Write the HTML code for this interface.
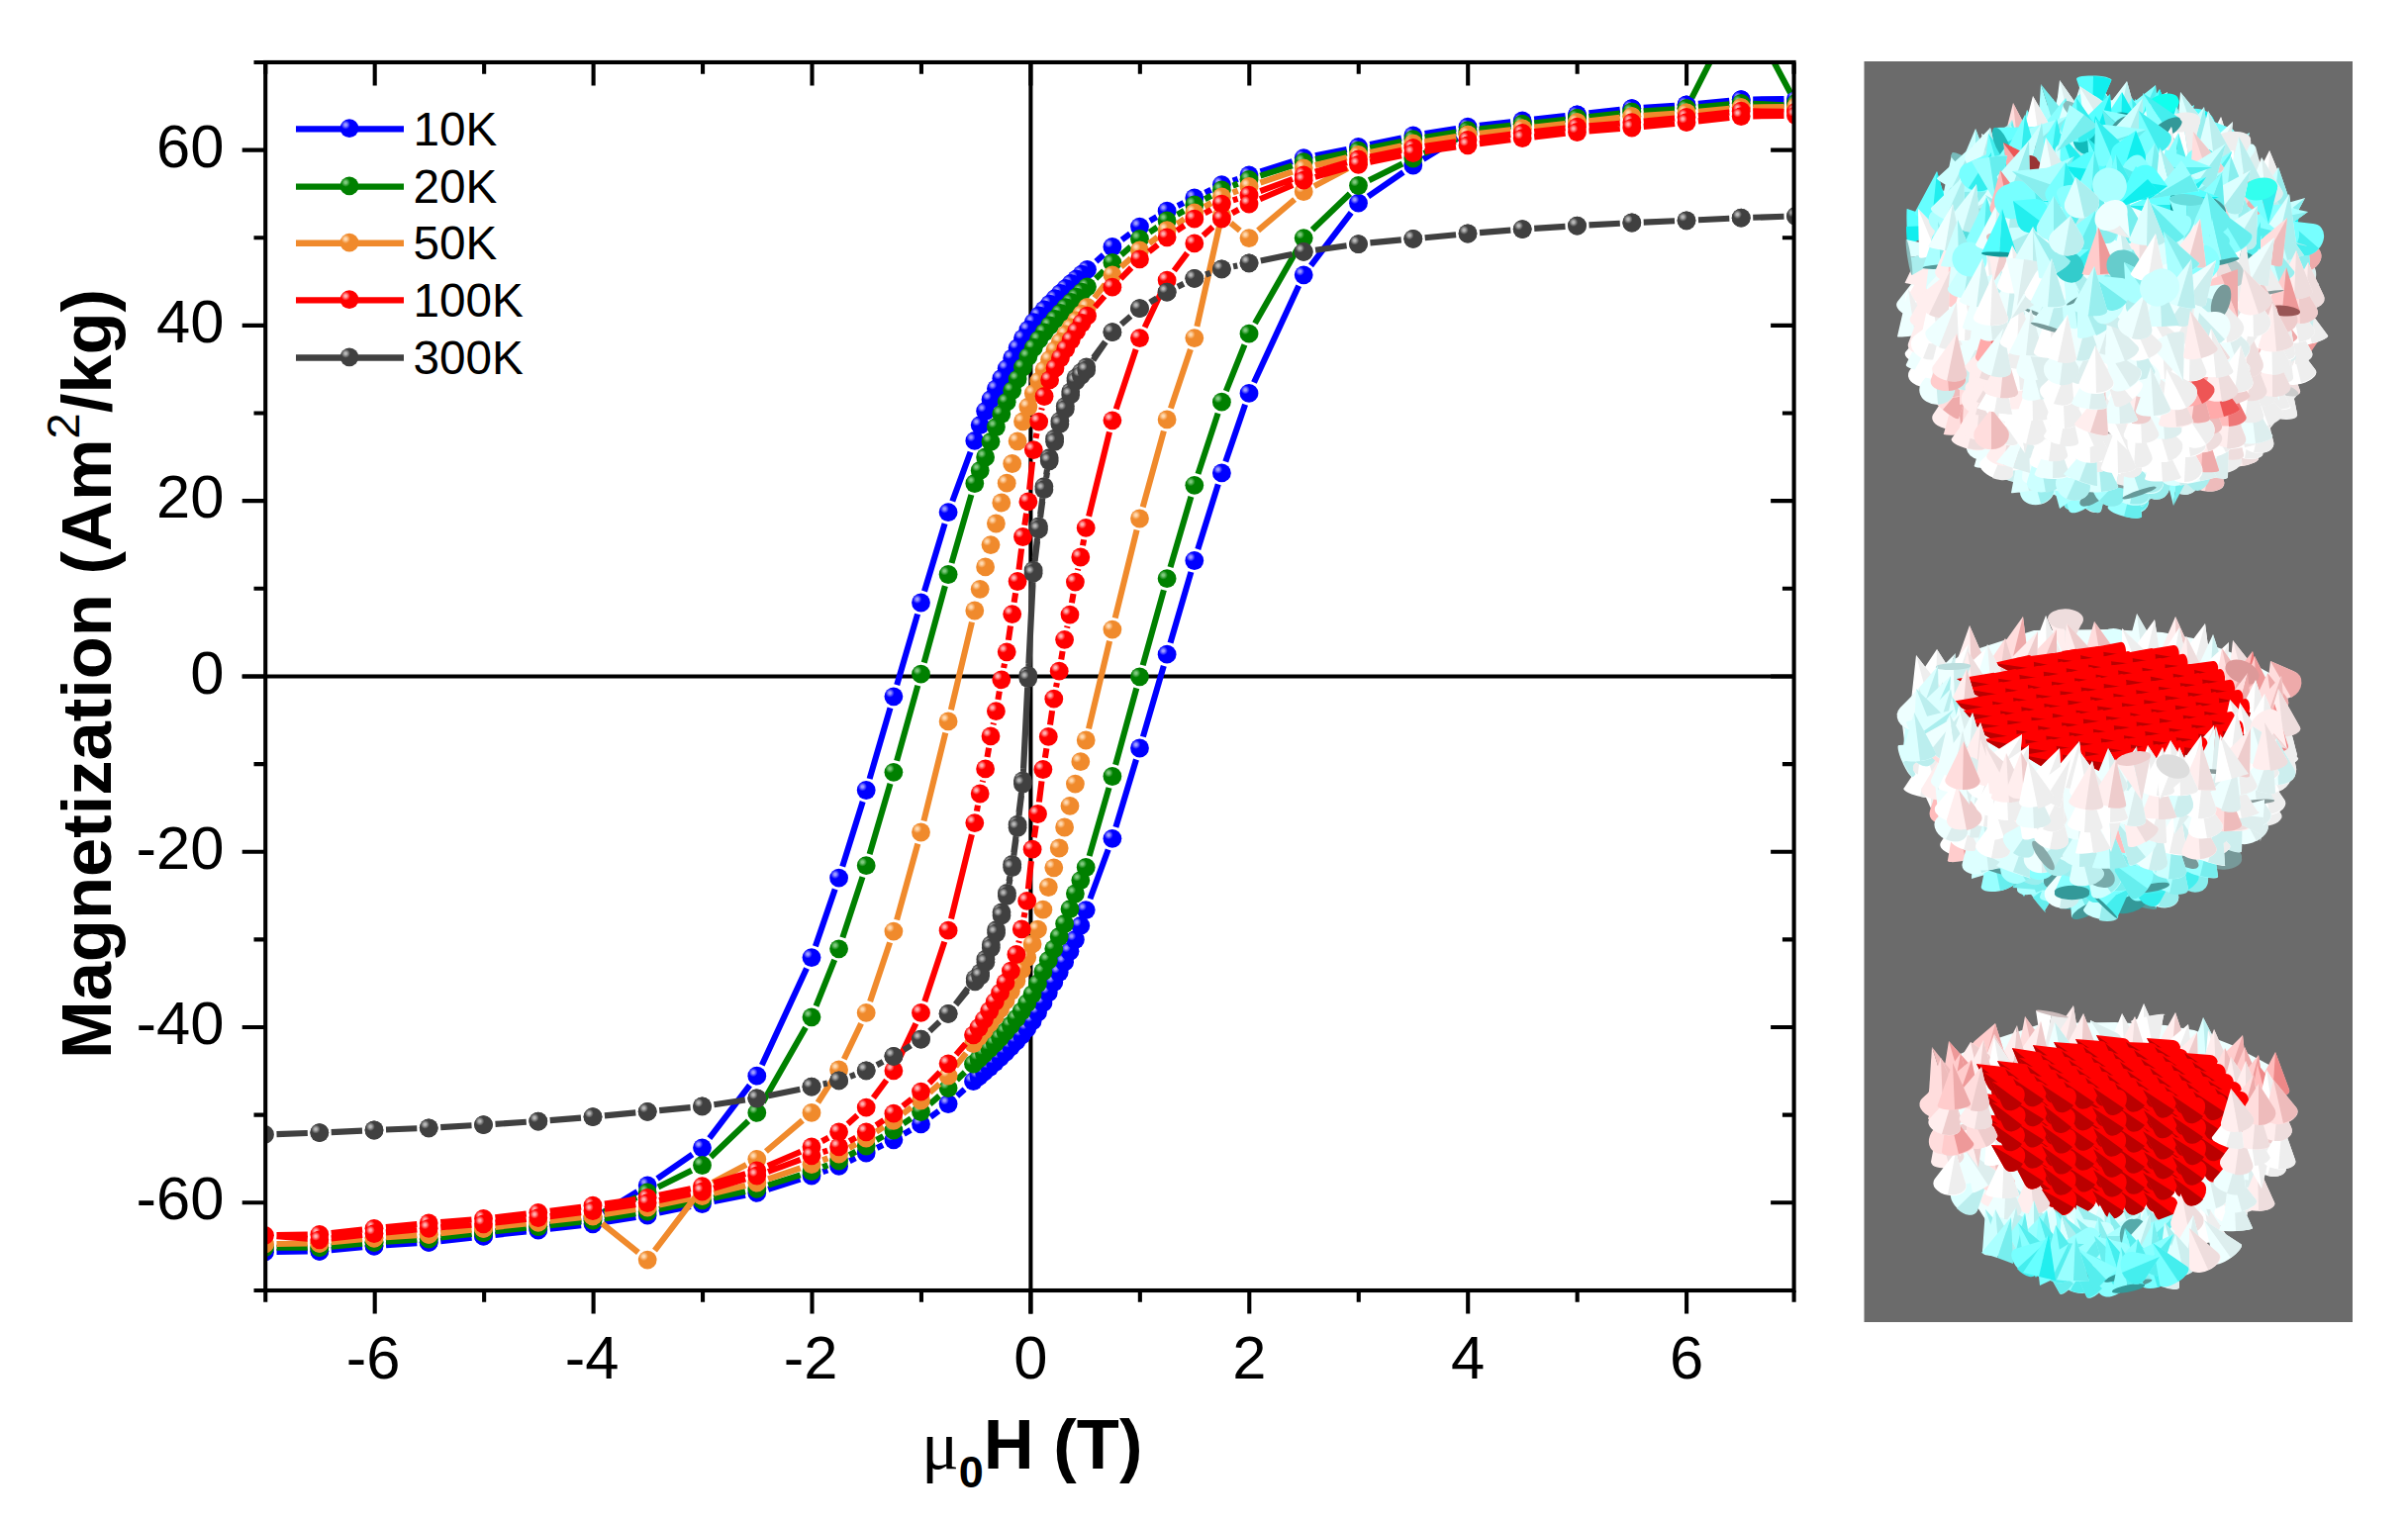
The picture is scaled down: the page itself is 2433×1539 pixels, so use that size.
<!DOCTYPE html>
<html lang="en"><head><meta charset="utf-8"><title>Magnetization hysteresis loops</title>
<style>
html,body{margin:0;padding:0;background:#fff;}
svg{display:block;}
text{white-space:pre;}
</style></head>
<body>
<svg width="2433" height="1539" viewBox="0 0 2433 1539">
<defs>
<radialGradient id="g10K" cx="0.30" cy="0.31" r="0.8"><stop offset="0" stop-color="#9c9cff"/><stop offset="0.07" stop-color="#9c9cff"/><stop offset="0.3" stop-color="#0000ff"/><stop offset="1" stop-color="#0000ff"/></radialGradient>
<radialGradient id="g20K" cx="0.30" cy="0.31" r="0.8"><stop offset="0" stop-color="#7fc97f"/><stop offset="0.07" stop-color="#7fc97f"/><stop offset="0.3" stop-color="#008000"/><stop offset="1" stop-color="#008000"/></radialGradient>
<radialGradient id="g50K" cx="0.30" cy="0.31" r="0.8"><stop offset="0" stop-color="#ffd9b0"/><stop offset="0.07" stop-color="#ffd9b0"/><stop offset="0.3" stop-color="#f08a2c"/><stop offset="1" stop-color="#f08a2c"/></radialGradient>
<radialGradient id="g100K" cx="0.30" cy="0.31" r="0.8"><stop offset="0" stop-color="#ffb0b0"/><stop offset="0.07" stop-color="#ffb0b0"/><stop offset="0.3" stop-color="#ff0000"/><stop offset="1" stop-color="#ff0000"/></radialGradient>
<radialGradient id="g300K" cx="0.30" cy="0.31" r="0.8"><stop offset="0" stop-color="#b8b8b8"/><stop offset="0.07" stop-color="#b8b8b8"/><stop offset="0.3" stop-color="#404040"/><stop offset="1" stop-color="#404040"/></radialGradient>
<clipPath id="panelclip"><rect x="1883.5" y="62" width="493.5" height="1274"/></clipPath>
<clipPath id="plotclip"><rect x="268.2" y="63.0" width="1544.4" height="1241.0"/></clipPath>
</defs>
<rect width="2433" height="1539" fill="#fff"/>
<rect x="1883.5" y="62" width="493.5" height="1274" fill="#6b6b6b"/>
<g id="particles" clip-path="url(#panelclip)">
<g transform="translate(2134,298)">
<path d="M-19 -197L35 -196L78 -181L90 -174L112 -158L144 -130L165 -110L186 -67L198 -18L196 29L186 62L174 99L150 129L130 151L96 171L63 187L19 197L-35 196L-78 181L-90 174L-112 158L-144 130L-165 110L-186 67L-198 18L-196 -29L-186 -62L-174 -99L-150 -129L-130 -151L-96 -171L-63 -187Z" fill="#eff"/>
<path d="M-37 -118L-20 -163L-2 -118A3.4 17.8 -91 1 1 -37 -118Z" fill="#8ff"/><path d="M-20 -163L-2 -118A3.4 17.8 -91 0 1 -19 -114Z" fill="#5ee"/>
<path d="M-164 119L-163 71L-131 106A4.7 17.8 -111 1 1 -164 119Z" fill="#fdd"/><path d="M-163 71L-131 106A4.7 17.8 -111 0 1 -145 117Z" fill="#eaa"/>
<path d="M-134 132L-112 97L-100 137A9 17.8 -82 1 1 -134 132Z" fill="#fee"/><path d="M-112 97L-100 137A9 17.8 -82 0 1 -119 146Z" fill="#edd"/>
<path d="M77 124L114 108L103 147A9.8 17.8 -48 1 1 77 124Z" fill="#fff"/><path d="M114 108L103 147A9.8 17.8 -48 0 1 82 144Z" fill="#eee"/>
<path d="M-146 105L-111 74L-114 121A5.9 17.8 -63 1 1 -146 105Z" fill="#fff"/><path d="M-111 74L-114 121A5.9 17.8 -63 0 1 -133 119Z" fill="#eee"/>
<path d="M10 185L39 157L42 197A9.7 17.8 -69 1 1 10 185Z" fill="#dff"/><path d="M39 157L42 197A9.7 17.8 -69 0 1 22 202Z" fill="#bee"/>
<path d="M-104 146L-90 102L-69 143A6.5 17.8 -95 1 1 -104 146Z" fill="#eff"/><path d="M-90 102L-69 143A6.5 17.8 -95 0 1 -86 152Z" fill="#cee"/>
<path d="M120 78L147 43L154 87A7.6 17.8 -75 1 1 120 78Z" fill="#fee"/><path d="M147 43L154 87A7.6 17.8 -75 0 1 134 91Z" fill="#edd"/>
<path d="M-198 90L-169 49L-163 98A0.6 17.8 -76 1 1 -198 90Z" fill="#fee"/><path d="M-169 49L-163 98A0.6 17.8 -76 0 1 -180 94Z" fill="#edd"/>
<path d="M-5 -145L21 -173L28 -135A10.5 17.8 -74 1 1 -5 -145Z" fill="#8ff"/><path d="M21 -173L28 -135A10.5 17.8 -74 0 1 8 -127Z" fill="#6ee"/>
<path d="M-15 195L8 158L19 200A8 17.8 -81 1 1 -15 195Z" fill="#fff"/><path d="M8 158L19 200A8 17.8 -81 0 1 0 207Z" fill="#eee"/>
<path d="M166 -19L191 7L182 -27Z" fill="#fee"/><path d="M199 -27L191 7L182 -27Z" fill="#edd"/><path d="M164 -22A11.8 17.8 75 1 0 199 -32 A11.8 17.8 75 1 0 164 -22Z" fill="#fdd"/>
<path d="M16 181L29 136L51 177A5.6 17.8 -96 1 1 16 181Z" fill="#eff"/><path d="M29 136L51 177A5.6 17.8 -96 0 1 34 185Z" fill="#dee"/>
<path d="M-61 -175L-14 -189L-39 -147A1.7 17.8 -38 1 1 -61 -175Z" fill="#8ff"/><path d="M-14 -189L-39 -147A1.7 17.8 -38 0 1 -52 -159Z" fill="#6ee"/>
<path d="M90 140L120 111L105 148Z" fill="#eff"/><path d="M122 153L120 111L105 148Z" fill="#dee"/><path d="M122 155A8.4 17.8 -68 1 0 89 142 A8.4 17.8 -68 1 0 122 155Z" fill="#899"/>
<path d="M-64 -173L-75 -135L-38 -150A10.2 17.8 132 1 0 -64 -173Z" fill="#9ff"/><path d="M-75 -135L-38 -150A10.2 17.8 132 0 0 -43 -171Z" fill="#6ee"/>
<path d="M-63 195L-39 158L-28 201A7.7 17.8 -80 1 1 -63 195Z" fill="#aff"/><path d="M-39 158L-28 201A7.7 17.8 -80 0 1 -47 207Z" fill="#7ee"/>
<path d="M109 -109L141 -143L142 -97A6.5 17.8 -69 1 1 109 -109Z" fill="#7ff"/><path d="M141 -143L142 -97A6.5 17.8 -69 0 1 123 -96Z" fill="#4ee"/>
<path d="M88 -128L100 -164L122 -132A10.3 17.8 -97 1 1 88 -128Z" fill="#eff"/><path d="M100 -164L122 -132A10.3 17.8 -97 0 1 106 -117Z" fill="#dee"/>
<path d="M-39 192L4 176L-16 218A6.2 17.8 -42 1 1 -39 192Z" fill="#dff"/><path d="M4 176L-16 218A6.2 17.8 -42 0 1 -33 209Z" fill="#aee"/>
<path d="M114 125L130 86L148 125A8.6 17.8 -91 1 1 114 125Z" fill="#fff"/><path d="M130 86L148 125A8.6 17.8 -91 0 1 131 135Z" fill="#eee"/>
<path d="M45 -154L62 -197L80 -154A5.9 17.8 -91 1 1 45 -154Z" fill="#dff"/><path d="M62 -197L80 -154A5.9 17.8 -91 0 1 63 -147Z" fill="#cee"/>
<path d="M151 39L160 1L184 32A10 17.8 -102 1 1 151 39Z" fill="#fee"/><path d="M160 1L184 32A10 17.8 -102 0 1 170 48Z" fill="#ecc"/>
<path d="M-120 -105L-113 -127L-93 -117A14.7 17.8 -113 1 1 -120 -105Z" fill="#5ff"/><path d="M-113 -127L-93 -117A14.7 17.8 -113 0 1 -98 -90Z" fill="#1ee"/>
<path d="M-71 -149L-72 -194L-39 -163A7.1 17.8 -114 1 1 -71 -149Z" fill="#7ff"/><path d="M-72 -194L-39 -163A7.1 17.8 -114 0 1 -52 -148Z" fill="#3ee"/>
<path d="M-203 37L-179 -2L-168 42A6.4 17.8 -82 1 1 -203 37Z" fill="#fee"/><path d="M-179 -2L-168 42A6.4 17.8 -82 0 1 -187 47Z" fill="#edd"/>
<path d="M155 -73L183 -39L189 -82A7.8 17.8 74 1 0 155 -73Z" fill="#5ff"/><path d="M183 -39L189 -82A7.8 17.8 74 0 0 170 -86Z" fill="#1ee"/>
<path d="M144 95L143 64L171 78A12.7 17.8 -123 1 1 144 95Z" fill="#eff"/><path d="M143 64L171 78A12.7 17.8 -123 0 1 167 101Z" fill="#dee"/>
<path d="M81 155A16.6 17.8 93 1 0 117 156 A16.6 17.8 93 1 0 81 155Z" fill="#bee"/>
<path d="M-171 -85L-148 -108L-139 -77A12.5 17.8 -76 1 1 -171 -85Z" fill="#9ff"/><path d="M-148 -108L-139 -77A12.5 17.8 -76 0 1 -159 -64Z" fill="#6ee"/>
<path d="M-42 -185L-37 -141L-25 -182Z" fill="#cff"/><path d="M-9 -175L-37 -141L-25 -182Z" fill="#9ee"/><path d="M-42 -187A7.6 17.8 107 1 0 -8 -176 A7.6 17.8 107 1 0 -42 -187Z" fill="#8dd"/>
<path d="M-157 94L-146 58L-124 88A11 17.8 -100 1 1 -157 94Z" fill="#fee"/><path d="M-146 58L-124 88A11 17.8 -100 0 1 -138 105Z" fill="#edd"/>
<path d="M-186 68L-175 28L-151 62A9 17.8 -100 1 1 -186 68Z" fill="#fff"/><path d="M-175 28L-151 62A9 17.8 -100 0 1 -166 76Z" fill="#eee"/>
<path d="M-120 -123L-99 -159L-86 -119A9.2 17.8 -83 1 1 -120 -123Z" fill="#6ff"/><path d="M-99 -159L-86 -119A9.2 17.8 -83 0 1 -104 -110Z" fill="#3ee"/>
<path d="M153 -86L195 -98L174 -59A7.6 17.8 -39 1 1 153 -86Z" fill="#cff"/><path d="M195 -98L174 -59A7.6 17.8 -39 0 1 156 -67Z" fill="#8ee"/>
<path d="M169 19A17.1 17.8 -37 1 0 148 -9 A17.1 17.8 -37 1 0 169 19Z" fill="#fcc"/>
<path d="M104 -95L104 -135L135 -110A9.7 17.8 -116 1 1 104 -95Z" fill="#8ff"/><path d="M104 -135L135 -110A9.7 17.8 -116 0 1 125 -91Z" fill="#5ee"/>
<path d="M71 -128L78 -158L102 -138A13 17.8 -108 1 1 71 -128Z" fill="#cff"/><path d="M78 -158L102 -138A13 17.8 -108 0 1 92 -115Z" fill="#aee"/>
<path d="M5 199L25 177L36 204A13.4 17.8 -81 1 1 5 199Z" fill="#9ff"/><path d="M25 177L36 204A13.4 17.8 -81 0 1 17 220Z" fill="#6ee"/>
<path d="M-145 138L-113 162L-131 127Z" fill="#fff"/><path d="M-114 122L-113 162L-131 127Z" fill="#eee"/><path d="M-146 136A9.8 17.8 62 1 0 -115 119 A9.8 17.8 62 1 0 -146 136Z" fill="#fee"/>
<path d="M18 -185L56 -205L46 -163A8.6 17.8 -51 1 1 18 -185Z" fill="#dff"/><path d="M56 -205L46 -163A8.6 17.8 -51 0 1 25 -166Z" fill="#bee"/>
<path d="M-32 182L-9 139L3 186A3.3 17.8 -83 1 1 -32 182Z" fill="#fff"/><path d="M-9 139L3 186A3.3 17.8 -83 0 1 -15 188Z" fill="#eee"/>
<path d="M-178 101L-165 61L-144 97A8.8 17.8 -96 1 1 -178 101Z" fill="#fdd"/><path d="M-165 61L-144 97A8.8 17.8 -96 0 1 -160 110Z" fill="#ebb"/>
<path d="M-24 -167L-13 -215L12 -173A2.6 17.8 -99 1 1 -24 -167Z" fill="#eff"/><path d="M-13 -215L12 -173A2.6 17.8 -99 0 1 -6 -167Z" fill="#dee"/>
<path d="M-99 192L-93 152L-66 183A9.5 17.8 -106 1 1 -99 192Z" fill="#dff"/><path d="M-93 152L-66 183A9.5 17.8 -106 0 1 -79 199Z" fill="#aee"/>
<path d="M-97 -146L-86 -187L-63 -151A8.3 17.8 -98 1 1 -97 -146Z" fill="#8ff"/><path d="M-86 -187L-63 -151A8.3 17.8 -98 0 1 -79 -139Z" fill="#5ee"/>
<path d="M171 -20L191 -51L204 -17A11.3 17.8 -84 1 1 171 -20Z" fill="#fcc"/><path d="M191 -51L204 -17A11.3 17.8 -84 0 1 186 -4Z" fill="#eaa"/>
<path d="M-147 -117L-115 -155L-130 -111Z" fill="#dff"/><path d="M-113 -105L-115 -155L-130 -111Z" fill="#cee"/>
<path d="M-65 -181L-49 -135L-47 -180Z" fill="#aff"/><path d="M-30 -179L-49 -135L-47 -180Z" fill="#8ee"/><path d="M-65 -181A3.9 17.8 92 1 0 -30 -180 A3.9 17.8 92 1 0 -65 -181Z" fill="#7dd"/>
<path d="M12 -151A17.8 17.8 54 1 0 41 -172 A17.8 17.8 54 1 0 12 -151Z" fill="#9ff"/>
<path d="M176 36L184 82L194 39Z" fill="#fcc"/><path d="M211 43L184 82L194 39Z" fill="#e99"/><path d="M176 35A4.9 17.8 103 1 0 211 43 A4.9 17.8 103 1 0 176 35Z" fill="#d77"/>
<path d="M205 -20L204 -10L188 -20Z" fill="#eff"/><path d="M195 -5L204 -10L188 -20Z" fill="#dee"/><path d="M179 -5A16.3 17.8 33 1 0 198 -35 A16.3 17.8 33 1 0 179 -5Z" fill="#dee"/>
<path d="M11 197L12 149L44 185A4.1 17.8 -110 1 1 11 197Z" fill="#eff"/><path d="M12 149L44 185A4.1 17.8 -110 0 1 29 196Z" fill="#cee"/>
<path d="M70 -170L79 -148L99 -162A14.5 17.8 107 1 0 70 -170Z" fill="#5ff"/><path d="M79 -148L99 -162A14.5 17.8 107 0 0 91 -187Z" fill="#1ee"/>
<path d="M-198 40L-168 8L-165 52A7.6 17.8 -70 1 1 -198 40Z" fill="#fff"/><path d="M-168 8L-165 52A7.6 17.8 -70 0 1 -185 54Z" fill="#eee"/>
<path d="M85 173L85 124L118 161A2.8 17.8 -111 1 1 85 173Z" fill="#fff"/><path d="M85 124L118 161A2.8 17.8 -111 0 1 103 170Z" fill="#eee"/>
<path d="M-177 122L-139 92L-146 139A4.2 17.8 -60 1 1 -177 122Z" fill="#fdd"/><path d="M-139 92L-146 139A4.2 17.8 -60 0 1 -164 135Z" fill="#ecc"/>
<path d="M-191 26L-167 -17L-156 31A3.1 17.8 -82 1 1 -191 26Z" fill="#fff"/><path d="M-167 -17L-156 31A3.1 17.8 -82 0 1 -174 31Z" fill="#eee"/>
<path d="M177 -38L185 -65L207 -48A13.7 17.8 -108 1 1 177 -38Z" fill="#fcc"/><path d="M185 -65L207 -48A13.7 17.8 -108 0 1 198 -24Z" fill="#eaa"/>
<path d="M-139 109L-134 138L-122 110Z" fill="#fff"/><path d="M-110 122L-134 138L-122 110Z" fill="#eee"/><path d="M-138 103A13.5 17.8 114 1 0 -105 117 A13.5 17.8 114 1 0 -138 103Z" fill="#ddd"/>
<path d="M128 -107L137 -154L163 -114A4.8 17.8 -101 1 1 128 -107Z" fill="#fbb"/><path d="M137 -154L163 -114A4.8 17.8 -101 0 1 146 -105Z" fill="#e88"/>
<path d="M-48 -162L-33 -209L-13 -165A3.2 17.8 -94 1 1 -48 -162Z" fill="#dff"/><path d="M-33 -209L-13 -165A3.2 17.8 -94 0 1 -30 -160Z" fill="#bee"/>
<path d="M-65 -166L-53 -206L-48 -166Z" fill="#aff"/><path d="M-31 -170L-53 -206L-48 -166Z" fill="#8ee"/><path d="M-30 -169A8.8 17.8 -98 1 0 -66 -164 A8.8 17.8 -98 1 0 -30 -169Z" fill="#599"/>
<path d="M147 -26L168 -71L182 -23A1.8 17.8 -86 1 1 147 -26Z" fill="#fdd"/><path d="M168 -71L182 -23A1.8 17.8 -86 0 1 164 -23Z" fill="#ebb"/>
<path d="M122 124L142 98L155 128A12.4 17.8 -82 1 1 122 124Z" fill="#fff"/><path d="M142 98L155 128A12.4 17.8 -82 0 1 136 143Z" fill="#eee"/>
<path d="M60 173L84 162L87 188A14.1 17.8 -61 1 1 60 173Z" fill="#eff"/><path d="M84 162L87 188A14.1 17.8 -61 0 1 63 199Z" fill="#cee"/>
<path d="M166 -83L147 -85L145 -66A15.4 17.8 -129 1 0 166 -83Z" fill="#5ff"/><path d="M147 -85L145 -66A15.4 17.8 -129 0 0 172 -55Z" fill="#1ee"/>
<path d="M35 -202L13 -189L32 -172A14.2 17.8 -175 1 0 35 -202Z" fill="#cff"/><path d="M13 -189L32 -172A14.2 17.8 -175 0 0 55 -185Z" fill="#aee"/>
<path d="M-184 82L-169 40L-149 80A7.4 17.8 -94 1 1 -184 82Z" fill="#fff"/><path d="M-169 40L-149 80A7.4 17.8 -94 0 1 -166 90Z" fill="#eee"/>
<path d="M-49 176L-45 164L-32 164A16 17.8 -125 1 1 -49 176Z" fill="#eff"/><path d="M-45 164L-32 164A16 17.8 -125 0 1 -24 193Z" fill="#cee"/>
<path d="M-104 172L-97 126L-70 163A6.1 17.8 -104 1 1 -104 172Z" fill="#fff"/><path d="M-97 126L-70 163A6.1 17.8 -104 0 1 -85 174Z" fill="#eee"/>
<path d="M-88 -134L-78 -177L-54 -140A7.4 17.8 -100 1 1 -88 -134Z" fill="#dff"/><path d="M-78 -177L-54 -140A7.4 17.8 -100 0 1 -69 -128Z" fill="#bee"/>
<path d="M-68 188L-62 159L-38 177A13.3 17.8 -110 1 1 -68 188Z" fill="#cff"/><path d="M-62 159L-38 177A13.3 17.8 -110 0 1 -46 201Z" fill="#aee"/>
<path d="M43 -153L49 -203L61 -158Z" fill="#aff"/><path d="M78 -162L49 -203L61 -158Z" fill="#8ee"/>
<path d="M40 -153L65 -179L72 -144A11.3 17.8 -74 1 1 40 -153Z" fill="#cff"/><path d="M65 -179L72 -144A11.3 17.8 -74 0 1 52 -134Z" fill="#9ee"/>
<path d="M89 -140L110 -180L124 -137A7 17.8 -85 1 1 89 -140Z" fill="#fff"/><path d="M110 -180L124 -137A7 17.8 -85 0 1 106 -130Z" fill="#eee"/>
<path d="M166 29L170 -4L196 15A12.4 17.8 -115 1 1 166 29Z" fill="#fdd"/><path d="M170 -4L196 15A12.4 17.8 -115 0 1 189 38Z" fill="#ecc"/>
<path d="M-28 179L11 155L1 199A6.7 17.8 -55 1 1 -28 179Z" fill="#cff"/><path d="M11 155L1 199A6.7 17.8 -55 0 1 -18 195Z" fill="#aee"/>
<path d="M-175 101L-159 66L-141 100A10.4 17.8 -92 1 1 -175 101Z" fill="#fcc"/><path d="M-159 66L-141 100A10.4 17.8 -92 0 1 -157 114Z" fill="#eaa"/>
<path d="M113 171L124 125L148 165A4.8 17.8 -100 1 1 113 171Z" fill="#fee"/><path d="M124 125L148 165A4.8 17.8 -100 0 1 132 173Z" fill="#edd"/>
<path d="M-148 -60A17 17.8 -74 1 0 -182 -69 A17 17.8 -74 1 0 -148 -60Z" fill="#5ff"/>
<path d="M163 63L182 17L198 64A1.9 17.8 -89 1 1 163 63Z" fill="#fff"/><path d="M182 17L198 64A1.9 17.8 -89 0 1 181 65Z" fill="#eee"/>
<path d="M128 -104L168 -79L156 -125A4.7 17.8 53 1 0 128 -104Z" fill="#cff"/><path d="M168 -79L156 -125A4.7 17.8 53 0 0 139 -119Z" fill="#9ee"/>
<path d="M-206 35L-198 -7L-172 26A8.6 17.8 -103 1 1 -206 35Z" fill="#fff"/><path d="M-198 -7L-172 26A8.6 17.8 -103 0 1 -187 41Z" fill="#eee"/>
<path d="M-205 77L-184 47L-171 81A11.3 17.8 -84 1 1 -205 77Z" fill="#fff"/><path d="M-184 47L-171 81A11.3 17.8 -84 0 1 -189 94Z" fill="#eee"/>
<path d="M-137 -103L-112 -143L-102 -97A5.5 17.8 -81 1 1 -137 -103Z" fill="#eff"/><path d="M-112 -143L-102 -97A5.5 17.8 -81 0 1 -120 -94Z" fill="#dee"/>
<path d="M141 61L165 18L176 66A1.3 17.8 -82 1 1 141 61Z" fill="#fbb"/><path d="M165 18L176 66A1.3 17.8 -82 0 1 159 65Z" fill="#e88"/>
<path d="M143 67L173 45L173 83A10.7 17.8 -63 1 1 143 67Z" fill="#eff"/><path d="M173 45L173 83A10.7 17.8 -63 0 1 152 87Z" fill="#cee"/>
<path d="M55 166L80 133L88 174A9 17.8 -76 1 1 55 166Z" fill="#eff"/><path d="M80 133L88 174A9 17.8 -76 0 1 69 180Z" fill="#dee"/>
<path d="M-131 159L-102 134L-99 172A10.7 17.8 -68 1 1 -131 159Z" fill="#fee"/><path d="M-102 134L-99 172A10.7 17.8 -68 0 1 -120 178Z" fill="#edd"/>
<path d="M-176 87L-141 52L-143 101A1.2 17.8 -67 1 1 -176 87Z" fill="#fee"/><path d="M-141 52L-143 101A1.2 17.8 -67 0 1 -160 95Z" fill="#edd"/>
<path d="M-155 145L-145 102L-120 138A8 17.8 -101 1 1 -155 145Z" fill="#fee"/><path d="M-145 102L-120 138A8 17.8 -101 0 1 -136 151Z" fill="#edd"/>
<path d="M2 -195A16.9 17.8 152 1 0 18 -164 A16.9 17.8 152 1 0 2 -195Z" fill="#5ff"/>
<path d="M152 113L178 76L187 120A7.1 17.8 -78 1 1 152 113Z" fill="#fff"/><path d="M178 76L187 120A7.1 17.8 -78 0 1 168 125Z" fill="#eee"/>
<path d="M159 -1L180 -38L194 3A8.5 17.8 -85 1 1 159 -1Z" fill="#fdd"/><path d="M180 -38L194 3A8.5 17.8 -85 0 1 176 11Z" fill="#eaa"/>
<path d="M146 -48L163 -89L181 -48A7.7 17.8 -91 1 1 146 -48Z" fill="#eff"/><path d="M163 -89L181 -48A7.7 17.8 -91 0 1 163 -39Z" fill="#dee"/>
<path d="M-207 -87L-160 -71L-206 -51A0.9 17.8 -2 1 1 -207 -87Z" fill="#5ff"/><path d="M-160 -71L-206 -51A0.9 17.8 -2 0 1 -208 -69Z" fill="#1ee"/>
<path d="M-106 -155L-109 -147L-105 -139A16.4 17.8 176 1 0 -106 -155Z" fill="#5ff"/><path d="M-109 -147L-105 -139A16.4 17.8 176 0 0 -74 -149Z" fill="#1ee"/>
<path d="M-91 -163L-59 -198L-58 -151A4.6 17.8 -69 1 1 -91 -163Z" fill="#aff"/><path d="M-59 -198L-58 -151A4.6 17.8 -69 0 1 -76 -152Z" fill="#8ee"/>
<path d="M-37 -189L-16 -159L-4 -193A11.4 17.8 83 1 0 -37 -189Z" fill="#7ff"/><path d="M-16 -159L-4 -193A11.4 17.8 83 0 0 -22 -206Z" fill="#4ee"/>
<path d="M113 152L123 106L148 146A5.4 17.8 -99 1 1 113 152Z" fill="#fff"/><path d="M123 106L148 146A5.4 17.8 -99 0 1 131 155Z" fill="#eee"/>
<path d="M28 -153L23 -198L58 -170A7 17.8 -119 1 1 28 -153Z" fill="#5ff"/><path d="M23 -198L58 -170A7 17.8 -119 0 1 47 -155Z" fill="#1ee"/>
<path d="M140 -108L159 -146L175 -107A8.6 17.8 -88 1 1 140 -108Z" fill="#fff"/><path d="M159 -146L175 -107A8.6 17.8 -88 0 1 157 -97Z" fill="#eee"/>
<path d="M96 173L105 132L130 165A9 17.8 -103 1 1 96 173Z" fill="#fff"/><path d="M105 132L130 165A9 17.8 -103 0 1 115 180Z" fill="#eee"/>
<path d="M-92 194L-83 171L-63 186A14.5 17.8 -105 1 1 -92 194Z" fill="#cff"/><path d="M-83 171L-63 186A14.5 17.8 -105 0 1 -72 211Z" fill="#9ee"/>
<path d="M-177 -107L-144 -99L-168 -75A12.1 17.8 -15 1 1 -177 -107Z" fill="#6ff"/><path d="M-144 -99L-168 -75A12.1 17.8 -15 0 1 -189 -87Z" fill="#2ee"/>
<path d="M50 165L62 213L67 167Z" fill="#9ff"/><path d="M85 169L62 213L67 167Z" fill="#7ee"/><path d="M50 165A1.6 17.8 96 1 0 85 169 A1.6 17.8 96 1 0 50 165Z" fill="#6cc"/>
<path d="M98 -142L139 -164L125 -119A4.8 17.8 -50 1 1 98 -142Z" fill="#aff"/><path d="M139 -164L125 -119A4.8 17.8 -50 0 1 108 -127Z" fill="#8ee"/>
<path d="M-209 58L-180 24L-175 68A7.4 17.8 -73 1 1 -209 58Z" fill="#fff"/><path d="M-180 24L-175 68A7.4 17.8 -73 0 1 -194 71Z" fill="#eee"/>
<path d="M-13 -159L19 -194L4 -152Z" fill="#9ff"/><path d="M20 -146L19 -194L4 -152Z" fill="#7ee"/><path d="M20 -146A4.5 17.8 -69 1 0 -13 -159 A4.5 17.8 -69 1 0 20 -146Z" fill="#499"/>
<path d="M81 -124L99 -170L99 -123Z" fill="#cff"/><path d="M116 -123L99 -170L99 -123Z" fill="#aee"/>
<path d="M133 114L158 82L167 121A9.7 17.8 -78 1 1 133 114Z" fill="#eff"/><path d="M158 82L167 121A9.7 17.8 -78 0 1 148 129Z" fill="#dee"/>
<path d="M-154 -99L-140 -145L-119 -102A4.9 17.8 -95 1 1 -154 -99Z" fill="#fee"/><path d="M-140 -145L-119 -102A4.9 17.8 -95 0 1 -136 -95Z" fill="#ecc"/>
<path d="M21 186L24 169L41 170A15.6 17.8 -128 1 1 21 186Z" fill="#cff"/><path d="M24 169L41 170A15.6 17.8 -128 0 1 48 199Z" fill="#aee"/>
<path d="M-126 -121L-132 -163L-96 -140A8.6 17.8 -123 1 1 -126 -121Z" fill="#eff"/><path d="M-132 -163L-96 -140A8.6 17.8 -123 0 1 -105 -122Z" fill="#cee"/>
<path d="M-92 177L-84 133L-58 170A7.1 17.8 -103 1 1 -92 177Z" fill="#fff"/><path d="M-84 133L-58 170A7.1 17.8 -103 0 1 -73 182Z" fill="#eee"/>
<path d="M155 95L175 53L190 97A6 17.8 -87 1 1 155 95Z" fill="#fee"/><path d="M175 53L190 97A6 17.8 -87 0 1 172 103Z" fill="#edd"/>
<path d="M-217 7L-192 -25L-183 15A9.4 17.8 -77 1 1 -217 7Z" fill="#eff"/><path d="M-192 -25L-183 15A9.4 17.8 -77 0 1 -203 22Z" fill="#dee"/>
<path d="M84 -185L97 -177L92 -162A15.8 17.8 -17 1 1 84 -185Z" fill="#9ff"/><path d="M97 -177L92 -162A15.8 17.8 -17 0 1 62 -165Z" fill="#6ee"/>
<path d="M-52 -143L-45 -192L-35 -147Z" fill="#8ff"/><path d="M-17 -151L-45 -192L-35 -147Z" fill="#6ee"/>
<path d="M64 174L92 142L98 184A8.7 17.8 -74 1 1 64 174Z" fill="#fff"/><path d="M92 142L98 184A8.7 17.8 -74 0 1 78 189Z" fill="#eee"/>
<path d="M41 -167L83 -192L69 -144A1.5 17.8 -51 1 1 41 -167Z" fill="#8ff"/><path d="M83 -192L69 -144A1.5 17.8 -51 0 1 54 -154Z" fill="#4ee"/>
<path d="M163 -21L170 -50L193 -32A13.3 17.8 -109 1 1 163 -21Z" fill="#eff"/><path d="M170 -50L193 -32A13.3 17.8 -109 0 1 184 -9Z" fill="#cee"/>
<path d="M120 -94L133 -141L155 -98A3.6 17.8 -96 1 1 120 -94Z" fill="#fee"/><path d="M133 -141L155 -98A3.6 17.8 -96 0 1 138 -92Z" fill="#edd"/>
<path d="M187 -86L142 -105L162 -60A1.6 17.8 -135 1 0 187 -86Z" fill="#cff"/><path d="M142 -105L162 -60A1.6 17.8 -135 0 0 176 -72Z" fill="#9ee"/>
<path d="M-29 186L-62 181L-49 212A12.1 17.8 -142 1 0 -29 186Z" fill="#aff"/><path d="M-62 181L-49 212A12.1 17.8 -142 0 0 -26 209Z" fill="#7ee"/>
<path d="M-132 150L-112 107L-97 152A5.4 17.8 -87 1 1 -132 150Z" fill="#fff"/><path d="M-112 107L-97 152A5.4 17.8 -87 0 1 -115 157Z" fill="#eee"/>
<path d="M-112 -146L-100 -194L-77 -150A0.6 17.8 -97 1 1 -112 -146Z" fill="#fdd"/><path d="M-100 -194L-77 -150A0.6 17.8 -97 0 1 -95 -148Z" fill="#ebb"/>
<path d="M-181 103L-184 63L-151 86A9.8 17.8 -119 1 1 -181 103Z" fill="#fff"/><path d="M-184 63L-151 86A9.8 17.8 -119 0 1 -160 105Z" fill="#eee"/>
<path d="M-6 202L13 165L29 203A9.1 17.8 -88 1 1 -6 202Z" fill="#9ff"/><path d="M13 165L29 203A9.1 17.8 -88 0 1 11 214Z" fill="#7ee"/>
<path d="M155 71L182 30L172 75Z" fill="#fee"/><path d="M190 78L182 30L172 75Z" fill="#edd"/><path d="M190 78A2.4 17.8 -78 1 0 155 71 A2.4 17.8 -78 1 0 190 78Z" fill="#988"/>
<path d="M-209 -13L-188 -57L-174 -10A1.8 17.8 -86 1 1 -209 -13Z" fill="#fee"/><path d="M-188 -57L-174 -10A1.8 17.8 -86 0 1 -192 -10Z" fill="#edd"/>
<path d="M-85 -172L-49 -174L-80 -156Z" fill="#5ff"/><path d="M-68 -143L-49 -174L-80 -156Z" fill="#1ee"/><path d="M-70 -140A11.3 17.8 -30 1 0 -89 -171 A11.3 17.8 -30 1 0 -70 -140Z" fill="#1cc"/>
<path d="M-181 -11L-190 -55L-152 -30A6.9 17.8 -124 1 1 -181 -11Z" fill="#9ff"/><path d="M-190 -55L-152 -30A6.9 17.8 -124 0 1 -162 -14Z" fill="#6ee"/>
<path d="M90 148L114 112L124 154A7.9 17.8 -79 1 1 90 148Z" fill="#fff"/><path d="M114 112L124 154A7.9 17.8 -79 0 1 105 160Z" fill="#eee"/>
<path d="M-156 -125L-138 -168L-121 -124A5.4 17.8 -89 1 1 -156 -125Z" fill="#cff"/><path d="M-138 -168L-121 -124A5.4 17.8 -89 0 1 -138 -119Z" fill="#9ee"/>
<path d="M-162 -142L-172 -95L-147 -133Z" fill="#cff"/><path d="M-133 -122L-172 -95L-147 -133Z" fill="#9ee"/><path d="M-162 -142A4.3 17.8 124 1 0 -133 -123 A4.3 17.8 124 1 0 -162 -142Z" fill="#7bb"/>
<path d="M-36 -218L-20 -172L-1 -216A4 17.8 92 1 0 -36 -218Z" fill="#5ff"/><path d="M-20 -172L-1 -216A4 17.8 92 0 0 -19 -221Z" fill="#1ee"/>
<path d="M-167 121L-140 86L-133 129A7.8 17.8 -77 1 1 -167 121Z" fill="#fdd"/><path d="M-140 86L-133 129A7.8 17.8 -77 0 1 -152 134Z" fill="#ebb"/>
<path d="M169 14L187 -24L204 15A8.8 17.8 -90 1 1 169 14Z" fill="#fdd"/><path d="M187 -24L204 15A8.8 17.8 -90 0 1 186 25Z" fill="#eaa"/>
<path d="M-203 29L-184 4L-170 31A13.1 17.8 -85 1 1 -203 29Z" fill="#eff"/><path d="M-184 4L-170 31A13.1 17.8 -85 0 1 -188 49Z" fill="#dee"/>
<path d="M-124 174L-90 140L-91 188A4.8 17.8 -67 1 1 -124 174Z" fill="#eff"/><path d="M-90 140L-91 188A4.8 17.8 -67 0 1 -109 186Z" fill="#cee"/>
<path d="M-114 -151L-114 -118L-98 -147Z" fill="#dff"/><path d="M-86 -135L-114 -118L-98 -147Z" fill="#aee"/><path d="M-113 -156A12.3 17.8 119 1 0 -82 -138 A12.3 17.8 119 1 0 -113 -156Z" fill="#9dd"/>
<path d="M16 182L65 179L31 214A2.6 17.8 -25 1 1 16 182Z" fill="#aff"/><path d="M65 179L31 214A2.6 17.8 -25 0 1 21 199Z" fill="#8ee"/>
<path d="M17 -191L44 -212L47 -178A12.3 17.8 -67 1 1 17 -191Z" fill="#8ff"/><path d="M44 -212L47 -178A12.3 17.8 -67 0 1 25 -170Z" fill="#5ee"/>
<path d="M-194 75L-172 31L-158 78A2.1 17.8 -85 1 1 -194 75Z" fill="#fff"/><path d="M-172 31L-158 78A2.1 17.8 -85 0 1 -176 79Z" fill="#eee"/>
<path d="M-72 167L-27 147L-47 193A0.6 17.8 -45 1 1 -72 167Z" fill="#eff"/><path d="M-27 147L-47 193A0.6 17.8 -45 0 1 -60 180Z" fill="#dee"/>
<path d="M-39 197L-0 173L-11 218A6.6 17.8 -54 1 1 -39 197Z" fill="#aff"/><path d="M-0 173L-11 218A6.6 17.8 -54 0 1 -29 214Z" fill="#8ee"/>
<path d="M-200 -44L-168 -82L-183 -38Z" fill="#8ff"/><path d="M-166 -32L-168 -82L-183 -38Z" fill="#6ee"/><path d="M-166 -32A1.6 17.8 -71 1 0 -200 -44 A1.6 17.8 -71 1 0 -166 -32Z" fill="#399"/>
<path d="M-181 121L-159 88L-147 125A10.1 17.8 -82 1 1 -181 121Z" fill="#fee"/><path d="M-159 88L-147 125A10.1 17.8 -82 0 1 -165 136Z" fill="#edd"/>
<path d="M-59 -168L-53 -217L-25 -177A1.5 17.8 -104 1 1 -59 -168Z" fill="#eff"/><path d="M-53 -217L-25 -177A1.5 17.8 -104 0 1 -42 -171Z" fill="#dee"/>
<path d="M184 50L189 2L218 41A3.4 17.8 -105 1 1 184 50Z" fill="#fff"/><path d="M189 2L218 41A3.4 17.8 -105 0 1 202 49Z" fill="#eee"/>
<path d="M147 -96L168 -129L181 -91A10 17.8 -83 1 1 147 -96Z" fill="#cff"/><path d="M168 -129L181 -91A10 17.8 -83 0 1 162 -81Z" fill="#9ee"/>
<path d="M154 90L158 137L171 95Z" fill="#fff"/><path d="M188 100L158 137L171 95Z" fill="#eee"/><path d="M154 90A5 17.8 107 1 0 188 100 A5 17.8 107 1 0 154 90Z" fill="#ccc"/>
<path d="M44 176L69 142L78 183A9 17.8 -78 1 1 44 176Z" fill="#eff"/><path d="M69 142L78 183A9 17.8 -78 0 1 59 190Z" fill="#dee"/>
<path d="M118 154L142 116L152 159A7.1 17.8 -81 1 1 118 154Z" fill="#fff"/><path d="M142 116L152 159A7.1 17.8 -81 0 1 134 165Z" fill="#eee"/>
<path d="M121 -168L85 -182L95 -145A10.7 17.8 -132 1 0 121 -168Z" fill="#7ff"/><path d="M85 -182L95 -145A10.7 17.8 -132 0 0 117 -146Z" fill="#4ee"/>
<path d="M19 -183L-26 -203L7 -171Z" fill="#5ff"/><path d="M-6 -158L-26 -203L7 -171Z" fill="#2ee"/><path d="M20 -183A1.7 17.8 -135 1 0 -6 -158 A1.7 17.8 -135 1 0 20 -183Z" fill="#199"/>
<path d="M-190 -91L-178 -52L-172 -91Z" fill="#eff"/><path d="M-156 -86L-178 -52L-172 -91Z" fill="#dee"/><path d="M-190 -94A9.5 17.8 99 1 0 -155 -88 A9.5 17.8 99 1 0 -190 -94Z" fill="#cee"/>
<path d="M-146 149L-134 123L-115 144A13.6 17.8 -99 1 1 -146 149Z" fill="#eff"/><path d="M-134 123L-115 144A13.6 17.8 -99 0 1 -127 166Z" fill="#dee"/>
<path d="M28 -152L44 -181L61 -151A12 17.8 -90 1 1 28 -152Z" fill="#8ff"/><path d="M44 -181L61 -151A12 17.8 -90 0 1 44 -135Z" fill="#4ee"/>
<path d="M161 74L138 73L142 96A14.7 17.8 -139 1 0 161 74Z" fill="#fee"/><path d="M138 73L142 96A14.7 17.8 -139 0 0 169 100Z" fill="#edd"/>
<path d="M-44 217L-54 175L-16 196A7.9 17.8 -128 1 1 -44 217Z" fill="#9ff"/><path d="M-54 175L-16 196A7.9 17.8 -128 0 1 -24 214Z" fill="#6ee"/>
<path d="M18 177L50 144L51 190A6.3 17.8 -68 1 1 18 177Z" fill="#dff"/><path d="M50 144L51 190A6.3 17.8 -68 0 1 32 190Z" fill="#cee"/>
<path d="M119 -121L133 -161L154 -124A8.8 17.8 -95 1 1 119 -121Z" fill="#fcc"/><path d="M133 -161L154 -124A8.8 17.8 -95 0 1 137 -112Z" fill="#e99"/>
<path d="M-8 -186L15 -216L25 -180A10.8 17.8 -80 1 1 -8 -186Z" fill="#dff"/><path d="M15 -216L25 -180A10.8 17.8 -80 0 1 6 -169Z" fill="#bee"/>
<path d="M-4 214L24 176L30 223A4.7 17.8 -75 1 1 -4 214Z" fill="#9ff"/><path d="M24 176L30 223A4.7 17.8 -75 0 1 12 224Z" fill="#6ee"/>
<path d="M-195 -10L-166 -0L-187 22A13.1 17.8 -14 1 1 -195 -10Z" fill="#fff"/><path d="M-166 -0L-187 22A13.1 17.8 -14 0 1 -210 11Z" fill="#eee"/>
<path d="M-144 134L-129 88L-109 132A4.3 17.8 -93 1 1 -144 134Z" fill="#fee"/><path d="M-129 88L-109 132A4.3 17.8 -93 0 1 -126 137Z" fill="#edd"/>
<path d="M171 -6L188 -44L206 -6A9.2 17.8 -90 1 1 171 -6Z" fill="#eff"/><path d="M188 -44L206 -6A9.2 17.8 -90 0 1 188 5Z" fill="#dee"/>
<path d="M-32 183L-17 152L2 182A12 17.8 -93 1 1 -32 183Z" fill="#dff"/><path d="M-17 152L2 182A12 17.8 -93 0 1 -14 198Z" fill="#bee"/>
<path d="M-125 -144L-101 -177L-108 -138Z" fill="#9ff"/><path d="M-91 -137L-101 -177L-108 -138Z" fill="#6ee"/><path d="M-91 -135A9.6 17.8 -79 1 0 -126 -141 A9.6 17.8 -79 1 0 -91 -135Z" fill="#499"/>
<path d="M-79 178L-68 154L-48 171A14 17.8 -103 1 1 -79 178Z" fill="#eff"/><path d="M-68 154L-48 171A14 17.8 -103 0 1 -59 195Z" fill="#dee"/>
<path d="M171 19L209 -12L187 28Z" fill="#eff"/><path d="M202 36L209 -12L187 28Z" fill="#cee"/><path d="M202 37A2.2 17.8 -60 1 0 171 19 A2.2 17.8 -60 1 0 202 37Z" fill="#799"/>
<path d="M-75 -164L-72 -213L-58 -169Z" fill="#aff"/><path d="M-41 -175L-72 -213L-58 -169Z" fill="#7ee"/><path d="M-41 -175A3.4 17.8 -108 1 0 -75 -164 A3.4 17.8 -108 1 0 -41 -175Z" fill="#599"/>
<path d="M-114 164L-105 122L-80 157A8.3 17.8 -102 1 1 -114 164Z" fill="#fff"/><path d="M-105 122L-80 157A8.3 17.8 -102 0 1 -95 171Z" fill="#eee"/>
<path d="M110 -108L99 -155L139 -129A4.5 17.8 -125 1 1 110 -108Z" fill="#8ff"/><path d="M99 -155L139 -129A4.5 17.8 -125 0 1 127 -114Z" fill="#5ee"/>
<path d="M98 156L122 117L133 161A6.6 17.8 -81 1 1 98 156Z" fill="#fee"/><path d="M122 117L133 161A6.6 17.8 -81 0 1 114 166Z" fill="#edd"/>
<path d="M-185 104L-162 62L-149 108A4.6 17.8 -84 1 1 -185 104Z" fill="#fdd"/><path d="M-162 62L-149 108A4.6 17.8 -84 0 1 -168 111Z" fill="#ebb"/>
<path d="M-52 191L-38 146L-16 188A5.1 17.8 -95 1 1 -52 191Z" fill="#dff"/><path d="M-38 146L-16 188A5.1 17.8 -95 0 1 -33 195Z" fill="#cee"/>
<path d="M68 -142L71 -187L101 -153A7.2 17.8 -108 1 1 68 -142Z" fill="#aff"/><path d="M71 -187L101 -153A7.2 17.8 -108 0 1 87 -140Z" fill="#8ee"/>
<path d="M28 -178L48 -208L62 -174A11.2 17.8 -84 1 1 28 -178Z" fill="#5ff"/><path d="M48 -208L62 -174A11.2 17.8 -84 0 1 43 -161Z" fill="#1ee"/>
<path d="M-170 140L-157 93L-135 137A2.4 17.8 -96 1 1 -170 140Z" fill="#fdd"/><path d="M-157 93L-135 137A2.4 17.8 -96 0 1 -152 141Z" fill="#eaa"/>
<path d="M79 184L101 150L113 188A9.9 17.8 -82 1 1 79 184Z" fill="#fdd"/><path d="M101 150L113 188A9.9 17.8 -82 0 1 94 198Z" fill="#ebb"/>
<path d="M158 45L174 19L191 45A13 17.8 -90 1 1 158 45Z" fill="#fee"/><path d="M174 19L191 45A13 17.8 -90 0 1 175 63Z" fill="#ecc"/>
<path d="M-102 200L-93 152L-67 193A1.5 17.8 -101 1 1 -102 200Z" fill="#dff"/><path d="M-93 152L-67 193A1.5 17.8 -101 0 1 -84 198Z" fill="#cee"/>
<path d="M-99 -146L-88 -179L-67 -152A12 17.8 -99 1 1 -99 -146Z" fill="#dff"/><path d="M-88 -179L-67 -152A12 17.8 -99 0 1 -80 -133Z" fill="#aee"/>
<path d="M156 -93L198 -84L163 -59A7.9 17.8 -12 1 1 156 -93Z" fill="#aff"/><path d="M198 -84L163 -59A7.9 17.8 -12 0 1 150 -74Z" fill="#8ee"/>
<path d="M-188 54L-175 9L-152 50A5.8 17.8 -96 1 1 -188 54Z" fill="#eff"/><path d="M-175 9L-152 50A5.8 17.8 -96 0 1 -169 58Z" fill="#eee"/>
<path d="M-145 -108L-132 -155L-110 -112A2.3 17.8 -96 1 1 -145 -108Z" fill="#aff"/><path d="M-132 -155L-110 -112A2.3 17.8 -96 0 1 -127 -107Z" fill="#8ee"/>
<path d="M118 -128L156 -108L130 -140Z" fill="#eff"/><path d="M145 -150L156 -108L130 -140Z" fill="#dee"/><path d="M116 -129A7.9 17.8 51 1 0 144 -151 A7.9 17.8 51 1 0 116 -129Z" fill="#dff"/>
<path d="M125 139L136 98L159 133A8.9 17.8 -99 1 1 125 139Z" fill="#fff"/><path d="M136 98L159 133A8.9 17.8 -99 0 1 144 147Z" fill="#eee"/>
<path d="M145 114L161 68L180 113A2.9 17.8 -91 1 1 145 114Z" fill="#fff"/><path d="M161 68L180 113A2.9 17.8 -91 0 1 163 116Z" fill="#eee"/>
<path d="M-2 165L45 169L8 199A5.3 17.8 -17 1 1 -2 165Z" fill="#aff"/><path d="M45 169L8 199A5.3 17.8 -17 0 1 -2 183Z" fill="#8ee"/>
<path d="M-139 172L-126 126L-104 169A3.4 17.8 -96 1 1 -139 172Z" fill="#eff"/><path d="M-126 126L-104 169A3.4 17.8 -96 0 1 -121 174Z" fill="#dee"/>
<path d="M150 -51L143 -99L181 -68A3.1 17.8 -120 1 1 150 -51Z" fill="#7ff"/><path d="M143 -99L181 -68A3.1 17.8 -120 0 1 167 -57Z" fill="#4ee"/>
<path d="M125 -100L145 -120L156 -94A13.6 17.8 -79 1 1 125 -100Z" fill="#fdd"/><path d="M145 -120L156 -94A13.6 17.8 -79 0 1 136 -78Z" fill="#ebb"/>
<path d="M-176 91L-168 43L-158 87Z" fill="#fff"/><path d="M-141 84L-168 43L-158 87Z" fill="#eee"/><path d="M-141 84A3.3 17.8 -102 1 0 -176 91 A3.3 17.8 -102 1 0 -141 84Z" fill="#899"/>
<path d="M-205 -1L-182 -41L-170 3A6.7 17.8 -83 1 1 -205 -1Z" fill="#fee"/><path d="M-182 -41L-170 3A6.7 17.8 -83 0 1 -188 8Z" fill="#ecc"/>
<path d="M-164 -100L-152 -113L-138 -102A15.5 17.8 -93 1 1 -164 -100Z" fill="#aff"/><path d="M-152 -113L-138 -102A15.5 17.8 -93 0 1 -150 -75Z" fill="#7ee"/>
<path d="M85 -142L122 -175L117 -126A2.2 17.8 -63 1 1 85 -142Z" fill="#eff"/><path d="M122 -175L117 -126A2.2 17.8 -63 0 1 100 -132Z" fill="#dee"/>
<path d="M170 -45L197 -64L200 -31A12.4 17.8 -64 1 1 170 -45Z" fill="#aff"/><path d="M197 -64L200 -31A12.4 17.8 -64 0 1 177 -23Z" fill="#8ee"/>
<path d="M172 84L179 41L205 75A8.3 17.8 -105 1 1 172 84Z" fill="#fff"/><path d="M179 41L205 75A8.3 17.8 -105 0 1 191 89Z" fill="#eee"/>
<path d="M65 -158L69 -205L99 -168A4.5 17.8 -108 1 1 65 -158Z" fill="#dff"/><path d="M69 -205L99 -168A4.5 17.8 -108 0 1 84 -158Z" fill="#bee"/>
<path d="M76 156L107 136L105 173A11.1 17.8 -60 1 1 76 156Z" fill="#fff"/><path d="M107 136L105 173A11.1 17.8 -60 0 1 83 177Z" fill="#eee"/>
<path d="M5 -171L20 -199L38 -173A12.6 17.8 -94 1 1 5 -171Z" fill="#7ff"/><path d="M20 -199L38 -173A12.6 17.8 -94 0 1 23 -154Z" fill="#4ee"/>
<path d="M18 169L-28 168L12 186Z" fill="#aff"/><path d="M5 202L-28 168L12 186Z" fill="#8ee"/><path d="M19 169A5.5 17.8 -157 1 0 5 202 A5.5 17.8 -157 1 0 19 169Z" fill="#599"/>
<path d="M89 162L54 171L80 195A11.6 17.8 -165 1 0 89 162Z" fill="#dff"/><path d="M54 171L80 195A11.6 17.8 -165 0 0 100 183Z" fill="#aee"/>
<path d="M-101 177L-93 128L-66 170A1.4 17.8 -102 1 1 -101 177Z" fill="#fff"/><path d="M-93 128L-66 170A1.4 17.8 -102 0 1 -84 175Z" fill="#eee"/>
<path d="M-26 -168L11 -199L-10 -159Z" fill="#cff"/><path d="M6 -151L11 -199L-10 -159Z" fill="#aee"/><path d="M6 -151A3.5 17.8 -62 1 0 -26 -167 A3.5 17.8 -62 1 0 6 -151Z" fill="#699"/>
<path d="M94 129L127 97L126 143A5.9 17.8 -66 1 1 94 129Z" fill="#fff"/><path d="M127 97L126 143A5.9 17.8 -66 0 1 107 142Z" fill="#eee"/>
<path d="M-186 35L-183 -10L-153 23A7.1 17.8 -110 1 1 -186 35Z" fill="#fee"/><path d="M-183 -10L-153 23A7.1 17.8 -110 0 1 -166 37Z" fill="#edd"/>
<path d="M-199 -84L-177 -125L-164 -81A6.5 17.8 -84 1 1 -199 -84Z" fill="#6ff"/><path d="M-177 -125L-164 -81A6.5 17.8 -84 0 1 -182 -75Z" fill="#2ee"/>
<path d="M149 24L183 -3L180 40A8.2 17.8 -62 1 1 149 24Z" fill="#fdd"/><path d="M183 -3L180 40A8.2 17.8 -62 0 1 160 41Z" fill="#ecc"/>
<path d="M-39 -185L-38 -172L-25 -169A16 17.8 138 1 0 -39 -185Z" fill="#7ff"/><path d="M-38 -172L-25 -169A16 17.8 138 0 0 -11 -196Z" fill="#4ee"/>
<path d="M35 -183L64 -156L50 -192Z" fill="#5ff"/><path d="M67 -195L64 -156L50 -192Z" fill="#1ee"/><path d="M34 -185A10 17.8 69 1 0 67 -198 A10 17.8 69 1 0 34 -185Z" fill="#1fe"/>
<path d="M-177 -118L-141 -151L-145 -102A2.1 17.8 -64 1 1 -177 -118Z" fill="#cff"/><path d="M-141 -151L-145 -102A2.1 17.8 -64 0 1 -162 -108Z" fill="#aee"/>
<path d="M141 -75L149 -121L175 -82A5.8 17.8 -102 1 1 141 -75Z" fill="#dff"/><path d="M149 -121L175 -82A5.8 17.8 -102 0 1 159 -72Z" fill="#bee"/>
<path d="M-208 -56L-159 -45L-205 -38Z" fill="#dff"/><path d="M-202 -20L-159 -45L-205 -38Z" fill="#aee"/><path d="M-202 -20A1.7 17.8 -9 1 0 -208 -56 A1.7 17.8 -9 1 0 -202 -20Z" fill="#8bb"/>
<path d="M62 178L74 133L97 173A5.9 17.8 -98 1 1 62 178Z" fill="#fff"/><path d="M74 133L97 173A5.9 17.8 -98 0 1 80 182Z" fill="#eee"/>
<path d="M141 -41L183 -58L165 -16A6.7 17.8 -44 1 1 141 -41Z" fill="#fff"/><path d="M183 -58L165 -16A6.7 17.8 -44 0 1 148 -23Z" fill="#eee"/>
<path d="M-182 102L-140 79L-155 125A3.4 17.8 -50 1 1 -182 102Z" fill="#fdd"/><path d="M-140 79L-155 125A3.4 17.8 -50 0 1 -171 116Z" fill="#eaa"/>
<path d="M-94 -140L-70 -168L-61 -132A10.9 17.8 -76 1 1 -94 -140Z" fill="#6ff"/><path d="M-70 -168L-61 -132A10.9 17.8 -76 0 1 -81 -122Z" fill="#3ee"/>
<path d="M-135 148L-131 107L-102 136A9.4 17.8 -110 1 1 -135 148Z" fill="#fff"/><path d="M-131 107L-102 136A9.4 17.8 -110 0 1 -114 152Z" fill="#eee"/>
<path d="M-32 211L-40 166L-17 202Z" fill="#dff"/><path d="M-3 192L-40 166L-17 202Z" fill="#aee"/><path d="M-2 193A6.3 17.8 -122 1 0 -32 212 A6.3 17.8 -122 1 0 -2 193Z" fill="#699"/>
<path d="M144 82L169 49L178 89A9.3 17.8 -78 1 1 144 82Z" fill="#fee"/><path d="M169 49L178 89A9.3 17.8 -78 0 1 159 97Z" fill="#edd"/>
<path d="M-217 42L-206 -6L-182 37A1.5 17.8 -98 1 1 -217 42Z" fill="#eff"/><path d="M-206 -6L-182 37A1.5 17.8 -98 0 1 -199 41Z" fill="#eee"/>
<path d="M-147 -144L-123 -169L-114 -135A11.9 17.8 -75 1 1 -147 -144Z" fill="#dff"/><path d="M-123 -169L-114 -135A11.9 17.8 -75 0 1 -135 -124Z" fill="#bee"/>
<path d="M203 -72L177 -75L183 -49A13.9 17.8 -139 1 0 203 -72Z" fill="#7ff"/><path d="M177 -75L183 -49A13.9 17.8 -139 0 0 209 -47Z" fill="#4ee"/>
<path d="M99 -103L121 -145L135 -100A5.1 17.8 -85 1 1 99 -103Z" fill="#fcc"/><path d="M121 -145L135 -100A5.1 17.8 -85 0 1 117 -96Z" fill="#e99"/>
<path d="M-69 -172L-47 -199L-37 -165A11.6 17.8 -78 1 1 -69 -172Z" fill="#8ff"/><path d="M-47 -199L-37 -165A11.6 17.8 -78 0 1 -56 -153Z" fill="#5ee"/>
<path d="M-54 160L-72 174L-57 189A14.9 17.8 -176 1 0 -54 160Z" fill="#cff"/><path d="M-72 174L-57 189A14.9 17.8 -176 0 0 -32 177Z" fill="#aee"/>
<path d="M180 -0L198 -33L214 1A10.8 17.8 -88 1 1 180 -0Z" fill="#fee"/><path d="M198 -33L214 1A10.8 17.8 -88 0 1 196 14Z" fill="#edd"/>
<path d="M-102 -171L-83 -127L-115 -159Z" fill="#dff"/><path d="M-128 -146L-83 -127L-115 -159Z" fill="#bee"/><path d="M-128 -146A3.3 17.8 45 1 0 -103 -171 A3.3 17.8 45 1 0 -128 -146Z" fill="#aee"/>
<path d="M-83 176L-56 134L-65 180Z" fill="#eff"/><path d="M-48 183L-56 134L-65 180Z" fill="#dee"/>
<path d="M167 60L182 21L202 58A8.8 17.8 -94 1 1 167 60Z" fill="#fff"/><path d="M182 21L202 58A8.8 17.8 -94 0 1 185 70Z" fill="#eee"/>
<path d="M-170 -44L-170 -88L-138 -58A7.5 17.8 -114 1 1 -170 -44Z" fill="#eff"/><path d="M-170 -88L-138 -58A7.5 17.8 -114 0 1 -150 -43Z" fill="#dee"/>
<path d="M-170 -91L-128 -116L-142 -69A2.2 17.8 -52 1 1 -170 -91Z" fill="#5ff"/><path d="M-128 -116L-142 -69A2.2 17.8 -52 0 1 -157 -78Z" fill="#1ee"/>
<path d="M65 -137L99 -168L97 -122A6 17.8 -65 1 1 65 -137Z" fill="#fee"/><path d="M99 -168L97 -122A6 17.8 -65 0 1 78 -123Z" fill="#ecc"/>
<path d="M-181 62L-167 23L-146 59A9.3 17.8 -95 1 1 -181 62Z" fill="#fff"/><path d="M-167 23L-146 59A9.3 17.8 -95 0 1 -163 72Z" fill="#eee"/>
<path d="M105 -154L123 -115L123 -156Z" fill="#fff"/><path d="M140 -154L123 -115L123 -156Z" fill="#eee"/><path d="M105 -155A8.3 17.8 89 1 0 140 -156 A8.3 17.8 89 1 0 105 -155Z" fill="#eee"/>
<path d="M150 -2L179 -27L182 11A10.5 17.8 -68 1 1 150 -2Z" fill="#fdd"/><path d="M179 -27L182 11A10.5 17.8 -68 0 1 161 17Z" fill="#ebb"/>
<path d="M130 141L154 113L163 148A11.5 17.8 -77 1 1 130 141Z" fill="#fff"/><path d="M154 113L163 148A11.5 17.8 -77 0 1 143 159Z" fill="#eee"/>
<path d="M125 105L133 74L156 96A12.8 17.8 -105 1 1 125 105Z" fill="#fee"/><path d="M133 74L156 96A12.8 17.8 -105 0 1 145 118Z" fill="#edd"/>
<path d="M43 173L63 176L58 196A15.1 17.8 -33 1 1 43 173Z" fill="#cff"/><path d="M63 176L58 196A15.1 17.8 -33 0 1 30 198Z" fill="#9ee"/>
<path d="M-162 145L-134 107L-128 154A5.3 17.8 -75 1 1 -162 145Z" fill="#fee"/><path d="M-134 107L-128 154A5.3 17.8 -75 0 1 -146 155Z" fill="#edd"/>
<path d="M-133 168L-103 140L-100 180A9.6 17.8 -69 1 1 -133 168Z" fill="#fff"/><path d="M-103 140L-100 180A9.6 17.8 -69 0 1 -121 185Z" fill="#eee"/>
<path d="M-130 -113L-125 -163L-96 -123A1 17.8 -105 1 1 -130 -113Z" fill="#7ff"/><path d="M-125 -163L-96 -123A1 17.8 -105 0 1 -112 -117Z" fill="#4ee"/>
<path d="M-208 70L-187 27L-173 73A4.6 17.8 -85 1 1 -208 70Z" fill="#eff"/><path d="M-187 27L-173 73A4.6 17.8 -85 0 1 -191 76Z" fill="#cee"/>
<path d="M-122 -95L-132 -141L-93 -115A5.1 17.8 -124 1 1 -122 -95Z" fill="#cff"/><path d="M-132 -141L-93 -115A5.1 17.8 -124 0 1 -104 -100Z" fill="#aee"/>
<path d="M16 -156L39 -194L51 -151A7.4 17.8 -83 1 1 16 -156Z" fill="#eff"/><path d="M39 -194L51 -151A7.4 17.8 -83 0 1 33 -145Z" fill="#dee"/>
<path d="M-195 -38L-196 -87L-162 -52A3.8 17.8 -112 1 1 -195 -38Z" fill="#fff"/><path d="M-196 -87L-162 -52A3.8 17.8 -112 0 1 -177 -41Z" fill="#eee"/>
<path d="M-92 -156L-80 -201L-57 -161A5.8 17.8 -98 1 1 -92 -156Z" fill="#fff"/><path d="M-80 -201L-57 -161A5.8 17.8 -98 0 1 -73 -152Z" fill="#eee"/>
<path d="M-53 216L-66 168L-39 206Z" fill="#aff"/><path d="M-24 196L-66 168L-39 206Z" fill="#7ee"/>
<path d="M84 169L118 137L117 184A5.2 17.8 -66 1 1 84 169Z" fill="#eff"/><path d="M118 137L117 184A5.2 17.8 -66 0 1 98 182Z" fill="#dee"/>
<path d="M-181 -85L-153 -101L-152 -70A12.7 17.8 -61 1 1 -181 -85Z" fill="#aff"/><path d="M-153 -101L-152 -70A12.7 17.8 -61 0 1 -175 -62Z" fill="#8ee"/>
<path d="M-38 -150L-21 -194L-3 -151A5.5 17.8 -91 1 1 -38 -150Z" fill="#fff"/><path d="M-21 -194L-3 -151A5.5 17.8 -91 0 1 -20 -144Z" fill="#eee"/>
<path d="M-191 10L-178 -32L-156 6A7.6 17.8 -97 1 1 -191 10Z" fill="#fdd"/><path d="M-178 -32L-156 6A7.6 17.8 -97 0 1 -172 17Z" fill="#ebb"/>
<path d="M-118 -169L-72 -170L-112 -152Z" fill="#6ff"/><path d="M-104 -137L-72 -170L-112 -152Z" fill="#2ee"/><path d="M-104 -136A6.5 17.8 -24 1 0 -119 -169 A6.5 17.8 -24 1 0 -104 -136Z" fill="#2bb"/>
<path d="M116 155L123 107L151 148A2.3 17.8 -102 1 1 116 155Z" fill="#fff"/><path d="M123 107L151 148A2.3 17.8 -102 0 1 134 154Z" fill="#eee"/>
<path d="M4 196L28 164L37 203A9.8 17.8 -78 1 1 4 196Z" fill="#cff"/><path d="M28 164L37 203A9.8 17.8 -78 0 1 18 211Z" fill="#9ee"/>
<path d="M-166 71L-150 68L-145 84A15.7 17.8 -58 1 1 -166 71Z" fill="#fdd"/><path d="M-150 68L-145 84A15.7 17.8 -58 0 1 -170 100Z" fill="#ebb"/>
<path d="M-49 -193L-62 -149L-35 -183Z" fill="#dff"/><path d="M-21 -171L-62 -149L-35 -183Z" fill="#aee"/><path d="M-48 -194A5.6 17.8 129 1 0 -21 -172 A5.6 17.8 129 1 0 -48 -194Z" fill="#8bb"/>
<path d="M33 170L56 137L67 176A9.5 17.8 -80 1 1 33 170Z" fill="#fff"/><path d="M56 137L67 176A9.5 17.8 -80 0 1 47 185Z" fill="#eee"/>
<path d="M168 -79A16.9 17.8 171 1 0 174 -44 A16.9 17.8 171 1 0 168 -79Z" fill="#7ff"/>
<path d="M144 -39L185 -11L159 -49Z" fill="#eff"/><path d="M173 -59L185 -11L159 -49Z" fill="#dee"/><path d="M144 -39A1.6 17.8 56 1 0 173 -59 A1.6 17.8 56 1 0 144 -39Z" fill="#cee"/>
<path d="M-129 149L-100 112L-95 159A5.2 17.8 -73 1 1 -129 149Z" fill="#eff"/><path d="M-100 112L-95 159A5.2 17.8 -73 0 1 -114 160Z" fill="#dee"/>
<path d="M137 -101L151 -139L172 -105A10 17.8 -96 1 1 137 -101Z" fill="#eff"/><path d="M151 -139L172 -105A10 17.8 -96 0 1 156 -91Z" fill="#dee"/>
<path d="M-162 -98L-147 -133L-128 -100A10.9 17.8 -93 1 1 -162 -98Z" fill="#fff"/><path d="M-147 -133L-128 -100A10.9 17.8 -93 0 1 -144 -85Z" fill="#eee"/>
<path d="M65 -155L93 -190L99 -146A7.4 17.8 -75 1 1 65 -155Z" fill="#cff"/><path d="M93 -190L99 -146A7.4 17.8 -75 0 1 80 -142Z" fill="#9ee"/>
<path d="M149 72L158 30L183 65A8.4 17.8 -102 1 1 149 72Z" fill="#fee"/><path d="M158 30L183 65A8.4 17.8 -102 0 1 168 78Z" fill="#edd"/>
<path d="M-7 -142L11 -188L11 -142Z" fill="#eff"/><path d="M29 -143L11 -188L11 -142Z" fill="#dee"/><path d="M29 -142A2 17.8 -91 1 0 -7 -142 A2 17.8 -91 1 0 29 -142Z" fill="#899"/>
<path d="M-188 -7L-182 -56L-153 -16A3.3 17.8 -105 1 1 -188 -7Z" fill="#dff"/><path d="M-182 -56L-153 -16A3.3 17.8 -105 0 1 -169 -8Z" fill="#bee"/>
<path d="M170 40L180 -0L204 34A9.1 17.8 -100 1 1 170 40Z" fill="#fff"/><path d="M180 -0L204 34A9.1 17.8 -100 0 1 189 48Z" fill="#eee"/>
<path d="M150 65L169 107L168 64Z" fill="#eff"/><path d="M185 64L169 107L168 64Z" fill="#eee"/><path d="M150 64A6.3 17.8 88 1 0 186 63 A6.3 17.8 88 1 0 150 64Z" fill="#dee"/>
<path d="M-183 -1L-158 25L-167 -9Z" fill="#fff"/><path d="M-150 -10L-158 25L-167 -9Z" fill="#eee"/><path d="M-185 -5A11.3 17.8 75 1 0 -150 -14 A11.3 17.8 75 1 0 -185 -5Z" fill="#fee"/>
<path d="M-91 184L-87 143L-58 173A9.3 17.8 -109 1 1 -91 184Z" fill="#eff"/><path d="M-87 143L-58 173A9.3 17.8 -109 0 1 -71 189Z" fill="#dee"/>
<path d="M-151 129L-149 87L-119 115A9.1 17.8 -113 1 1 -151 129Z" fill="#fdd"/><path d="M-149 87L-119 115A9.1 17.8 -113 0 1 -130 133Z" fill="#ebb"/>
<path d="M139 129L141 85L172 117A7.6 17.8 -110 1 1 139 129Z" fill="#fff"/><path d="M141 85L172 117A7.6 17.8 -110 0 1 158 132Z" fill="#eee"/>
<path d="M117 -90L130 -127L151 -94A10.3 17.8 -97 1 1 117 -90Z" fill="#faa"/><path d="M130 -127L151 -94A10.3 17.8 -97 0 1 135 -79Z" fill="#e55"/>
<path d="M-11 183L17 176L12 205A13.5 17.8 -47 1 1 -11 183Z" fill="#aff"/><path d="M17 176L12 205A13.5 17.8 -47 0 1 -13 208Z" fill="#8ee"/>
<path d="M-43 178L-16 138L-9 186A3.2 17.8 -77 1 1 -43 178Z" fill="#eff"/><path d="M-16 138L-9 186A3.2 17.8 -77 0 1 -27 185Z" fill="#dee"/>
<path d="M-161 -100L-163 -62L-145 -94Z" fill="#cff"/><path d="M-132 -82L-163 -62L-145 -94Z" fill="#aee"/><path d="M-160 -103A10.9 17.8 120 1 0 -129 -85 A10.9 17.8 120 1 0 -160 -103Z" fill="#9dd"/>
<path d="M83 -120L101 -166L119 -120A2.6 17.8 -90 1 1 83 -120Z" fill="#8ff"/><path d="M101 -166L119 -120A2.6 17.8 -90 0 1 101 -118Z" fill="#5ee"/>
<path d="M-108 -118L-83 -160L-72 -112A2.4 17.8 -81 1 1 -108 -118Z" fill="#aff"/><path d="M-83 -160L-72 -112A2.4 17.8 -81 0 1 -90 -113Z" fill="#8ee"/>
<path d="M71 191L79 142L106 184A0.9 17.8 -102 1 1 71 191Z" fill="#eff"/><path d="M79 142L106 184A0.9 17.8 -102 0 1 89 188Z" fill="#dee"/>
<path d="M152 50L159 4L187 42A5.2 17.8 -104 1 1 152 50Z" fill="#fdd"/><path d="M159 4L187 42A5.2 17.8 -104 0 1 171 52Z" fill="#eaa"/>
<path d="M-28 -170L-33 -211L2 -188A9.1 17.8 -121 1 1 -28 -170Z" fill="#eff"/><path d="M-33 -211L2 -188A9.1 17.8 -121 0 1 -8 -169Z" fill="#dee"/>
<path d="M52 -148L65 -190L87 -151A7.8 17.8 -96 1 1 52 -148Z" fill="#aff"/><path d="M65 -190L87 -151A7.8 17.8 -96 0 1 70 -140Z" fill="#8ee"/>
<path d="M57 -177L30 -170L58 -160Z" fill="#5ff"/><path d="M47 -147L30 -170L58 -160Z" fill="#1ee"/><path d="M64 -177A13.7 17.8 -161 1 0 52 -143 A13.7 17.8 -161 1 0 64 -177Z" fill="#1a9"/>
<path d="M121 -84L153 -64L134 -96Z" fill="#8ff"/><path d="M150 -102L153 -64L134 -96Z" fill="#5ee"/><path d="M119 -86A10.7 17.8 58 1 0 149 -105 A10.7 17.8 58 1 0 119 -86Z" fill="#5ff"/>
<path d="M-175 -64L-140 -66L-157 -35A11.7 17.8 -32 1 1 -175 -64Z" fill="#5ff"/><path d="M-140 -66L-157 -35A11.7 17.8 -32 0 1 -179 -41Z" fill="#1ee"/>
<path d="M159 -32L165 -81L194 -40A0.8 17.8 -104 1 1 159 -32Z" fill="#cff"/><path d="M165 -81L194 -40A0.8 17.8 -104 0 1 177 -35Z" fill="#aee"/>
<path d="M173 15L188 -18L207 14A11 17.8 -92 1 1 173 15Z" fill="#fdd"/><path d="M188 -18L207 14A11 17.8 -92 0 1 190 29Z" fill="#ecc"/>
<path d="M-192 88L-179 71L-164 85A15 17.8 -95 1 1 -192 88Z" fill="#eff"/><path d="M-179 71L-164 85A15 17.8 -95 0 1 -176 111Z" fill="#cee"/>
<path d="M-191 -28L-176 -74L-173 -29Z" fill="#aff"/><path d="M-155 -30L-176 -74L-173 -29Z" fill="#8ee"/><path d="M-155 -29A2.1 17.8 -93 1 0 -191 -28 A2.1 17.8 -93 1 0 -155 -29Z" fill="#599"/>
<path d="M155 -90L175 -92L176 -72A15.3 17.8 -49 1 1 155 -90Z" fill="#8ff"/><path d="M175 -92L176 -72A15.3 17.8 -49 0 1 149 -62Z" fill="#5ee"/>
<path d="M-206 49L-192 12L-172 45A10 17.8 -96 1 1 -206 49Z" fill="#fee"/><path d="M-192 12L-172 45A10 17.8 -96 0 1 -188 60Z" fill="#edd"/>
<path d="M13 167L33 144L45 172A13.1 17.8 -81 1 1 13 167Z" fill="#eff"/><path d="M33 144L45 172A13.1 17.8 -81 0 1 26 187Z" fill="#cee"/>
<path d="M103 118L128 98L133 130A12.7 17.8 -68 1 1 103 118Z" fill="#eff"/><path d="M128 98L133 130A12.7 17.8 -68 0 1 111 140Z" fill="#eee"/>
<path d="M-14 189L13 147L4 192Z" fill="#fff"/><path d="M21 196L13 147L4 192Z" fill="#eee"/><path d="M21 196A1.5 17.8 -78 1 0 -14 189 A1.5 17.8 -78 1 0 21 196Z" fill="#899"/>
<path d="M149 73L177 39L183 83A7.7 17.8 -74 1 1 149 73Z" fill="#fff"/><path d="M177 39L183 83A7.7 17.8 -74 0 1 163 87Z" fill="#eee"/>
<path d="M-104 157L-83 116L-69 160A5.9 17.8 -85 1 1 -104 157Z" fill="#eff"/><path d="M-83 116L-69 160A5.9 17.8 -85 0 1 -87 165Z" fill="#dee"/>
<path d="M-91 -166L-44 -181L-80 -152Z" fill="#aff"/><path d="M-68 -138L-44 -181L-80 -152Z" fill="#8ee"/><path d="M-68 -138A2.3 17.8 -39 1 0 -91 -166 A2.3 17.8 -39 1 0 -68 -138Z" fill="#599"/>
<path d="M-8 -177L10 -205L9 -172Z" fill="#5ff"/><path d="M26 -176L10 -205L9 -172Z" fill="#1ee"/><path d="M27 -171A12.3 17.8 -88 1 0 -9 -173 A12.3 17.8 -88 1 0 27 -171Z" fill="#199"/>
<path d="M-65 190L-53 147L-31 186A7.6 17.8 -97 1 1 -65 190Z" fill="#eff"/><path d="M-53 147L-31 186A7.6 17.8 -97 0 1 -47 197Z" fill="#dee"/>
<path d="M116 -112L128 -160L134 -114Z" fill="#dff"/><path d="M151 -116L128 -160L134 -114Z" fill="#bee"/>
<path d="M-154 111L-154 61L-121 98A1 17.8 -111 1 1 -154 111Z" fill="#fdd"/><path d="M-154 61L-121 98A1 17.8 -111 0 1 -137 105Z" fill="#ecc"/>
<path d="M132 94L156 66L165 102A10.9 17.8 -77 1 1 132 94Z" fill="#fff"/><path d="M156 66L165 102A10.9 17.8 -77 0 1 145 112Z" fill="#eee"/>
<path d="M138 4L173 24L150 -8Z" fill="#fcc"/><path d="M166 -16L173 24L150 -8Z" fill="#e99"/><path d="M136 3A9.7 17.8 55 1 0 165 -18 A9.7 17.8 55 1 0 136 3Z" fill="#faa"/>
<path d="M85 -141L97 -186L120 -145A5.6 17.8 -97 1 1 85 -141Z" fill="#dff"/><path d="M97 -186L120 -145A5.6 17.8 -97 0 1 103 -137Z" fill="#bee"/>
<path d="M94 158L91 117L124 141A9.3 17.8 -120 1 1 94 158Z" fill="#fff"/><path d="M91 117L124 141A9.3 17.8 -120 0 1 115 159Z" fill="#eee"/>
<path d="M-29 196L-15 150L6 193A4 17.8 -95 1 1 -29 196Z" fill="#dff"/><path d="M-15 150L6 193A4 17.8 -95 0 1 -11 199Z" fill="#aee"/>
<path d="M55 -170L78 -134L72 -174Z" fill="#fff"/><path d="M89 -175L78 -134L72 -174Z" fill="#eee"/><path d="M54 -172A8.8 17.8 82 1 0 89 -177 A8.8 17.8 82 1 0 54 -172Z" fill="#eee"/>
<path d="M-199 75L-177 36L-164 79A6.9 17.8 -84 1 1 -199 75Z" fill="#fff"/><path d="M-177 36L-164 79A6.9 17.8 -84 0 1 -182 85Z" fill="#eee"/>
<path d="M39 -159L31 -204L55 -168Z" fill="#8ff"/><path d="M69 -178L31 -204L55 -168Z" fill="#4ee"/><path d="M69 -177A6.4 17.8 -123 1 0 40 -158 A6.4 17.8 -123 1 0 69 -177Z" fill="#399"/>
<path d="M-127 124L-120 94L-96 114A13 17.8 -109 1 1 -127 124Z" fill="#fee"/><path d="M-120 94L-96 114A13 17.8 -109 0 1 -106 137Z" fill="#edd"/>
<path d="M49 181L59 147L82 174A11.5 17.8 -102 1 1 49 181Z" fill="#dff"/><path d="M59 147L82 174A11.5 17.8 -102 0 1 69 193Z" fill="#cee"/>
<path d="M-135 -111L-106 -152L-118 -107Z" fill="#8ff"/><path d="M-100 -102L-106 -152L-118 -107Z" fill="#4ee"/>
<path d="M151 -61L179 -102L186 -53A0.7 17.8 -76 1 1 151 -61Z" fill="#dff"/><path d="M179 -102L186 -53A0.7 17.8 -76 0 1 168 -56Z" fill="#aee"/>
<path d="M117 108L119 67L149 96A9 17.8 -112 1 1 117 108Z" fill="#eff"/><path d="M119 67L149 96A9 17.8 -112 0 1 137 112Z" fill="#dee"/>
<path d="M92 140L104 102L127 135A9.8 17.8 -98 1 1 92 140Z" fill="#fee"/><path d="M104 102L127 135A9.8 17.8 -98 0 1 111 150Z" fill="#edd"/>
<path d="M-146 -121L-105 -105L-145 -86A7.9 17.8 -2 1 1 -146 -121Z" fill="#aff"/><path d="M-105 -105L-145 -86A7.9 17.8 -2 0 1 -154 -104Z" fill="#8ee"/>
<path d="M131 78L162 41L164 89A3.2 17.8 -72 1 1 131 78Z" fill="#fee"/><path d="M162 41L164 89A3.2 17.8 -72 0 1 146 87Z" fill="#edd"/>
<path d="M66 162L82 123L101 161A8.6 17.8 -93 1 1 66 162Z" fill="#fff"/><path d="M82 123L101 161A8.6 17.8 -93 0 1 84 172Z" fill="#eee"/>
<path d="M-204 23L-183 -13L-169 26A9 17.8 -85 1 1 -204 23Z" fill="#fee"/><path d="M-183 -13L-169 26A9 17.8 -85 0 1 -187 36Z" fill="#edd"/>
<path d="M167 -6L186 -45L202 -5A7.9 17.8 -87 1 1 167 -6Z" fill="#fee"/><path d="M186 -45L202 -5A7.9 17.8 -87 0 1 184 4Z" fill="#edd"/>
<path d="M-186 -10L-157 -41L-153 2A8.6 17.8 -71 1 1 -186 -10Z" fill="#eff"/><path d="M-157 -41L-153 2A8.6 17.8 -71 0 1 -173 6Z" fill="#cee"/>
<path d="M-79 -140L-56 -178L-62 -136Z" fill="#6ff"/><path d="M-45 -135L-56 -178L-62 -136Z" fill="#3ee"/><path d="M-45 -134A7.6 17.8 -81 1 0 -80 -139 A7.6 17.8 -81 1 0 -45 -134Z" fill="#299"/>
<path d="M79 -120L121 -145L108 -98A3.1 17.8 -53 1 1 79 -120Z" fill="#8ff"/><path d="M121 -145L108 -98A3.1 17.8 -53 0 1 91 -106Z" fill="#5ee"/>
<path d="M-110 -140L-88 -182L-75 -137A4.8 17.8 -84 1 1 -110 -140Z" fill="#7ff"/><path d="M-88 -182L-75 -137A4.8 17.8 -84 0 1 -93 -133Z" fill="#3ee"/>
<path d="M134 -44L152 -64L165 -41A13.9 17.8 -85 1 1 134 -44Z" fill="#7ff"/><path d="M152 -64L165 -41A13.9 17.8 -85 0 1 148 -22Z" fill="#4ee"/>
<path d="M-55 -151L-26 -177L-24 -138A10.4 17.8 -67 1 1 -55 -151Z" fill="#cff"/><path d="M-26 -177L-24 -138A10.4 17.8 -67 0 1 -45 -132Z" fill="#aee"/>
<path d="M-183 -88L-149 -121L-150 -74A5.3 17.8 -67 1 1 -183 -88Z" fill="#cff"/><path d="M-149 -121L-150 -74A5.3 17.8 -67 0 1 -169 -76Z" fill="#aee"/>
<path d="M-153 131L-133 99L-119 134A10.7 17.8 -86 1 1 -153 131Z" fill="#fee"/><path d="M-133 99L-119 134A10.7 17.8 -86 0 1 -137 146Z" fill="#edd"/>
<path d="M152 51L178 17L185 59A8.6 17.8 -77 1 1 152 51Z" fill="#fff"/><path d="M178 17L185 59A8.6 17.8 -77 0 1 166 65Z" fill="#eee"/>
<path d="M-86 189L-75 152L-52 183A10.6 17.8 -100 1 1 -86 189Z" fill="#cff"/><path d="M-75 152L-52 183A10.6 17.8 -100 0 1 -67 200Z" fill="#aee"/>
<path d="M-126 161L-102 123L-92 166A7.4 17.8 -81 1 1 -126 161Z" fill="#fee"/><path d="M-102 123L-92 166A7.4 17.8 -81 0 1 -110 172Z" fill="#edd"/>
<path d="M-163 69L-139 55L-135 83A13.7 17.8 -64 1 1 -163 69Z" fill="#eff"/><path d="M-139 55L-135 83A13.7 17.8 -64 0 1 -158 94Z" fill="#cee"/>
<path d="M-198 40L-175 23L-169 51A13.6 17.8 -69 1 1 -198 40Z" fill="#fff"/><path d="M-175 23L-169 51A13.6 17.8 -69 0 1 -191 64Z" fill="#eee"/>
<path d="M24 174L49 158L52 188A13.4 17.8 -64 1 1 24 174Z" fill="#dff"/><path d="M49 158L52 188A13.4 17.8 -64 0 1 30 198Z" fill="#aee"/>
<path d="M-115 -120L-140 -87L-105 -106Z" fill="#dff"/><path d="M-98 -90L-140 -87L-105 -106Z" fill="#bee"/><path d="M-114 -122A8.8 17.8 151 1 0 -96 -91 A8.8 17.8 151 1 0 -114 -122Z" fill="#8aa"/>
<path d="M-31 -175L-2 -203L1 -163A9.8 17.8 -70 1 1 -31 -175Z" fill="#5ff"/><path d="M-2 -203L1 -163A9.8 17.8 -70 0 1 -19 -158Z" fill="#1ee"/>
<path d="M11 205L13 156L28 200Z" fill="#dff"/><path d="M44 194L13 156L28 200Z" fill="#aee"/><path d="M44 194A2.4 17.8 -109 1 0 11 206 A2.4 17.8 -109 1 0 44 194Z" fill="#699"/>
<path d="M127 146L139 101L162 142A5.4 17.8 -97 1 1 127 146Z" fill="#eff"/><path d="M139 101L162 142A5.4 17.8 -97 0 1 145 150Z" fill="#dee"/>
<path d="M128 -109L153 -118L154 -91A13.9 17.8 -56 1 1 128 -109Z" fill="#fcc"/><path d="M153 -118L154 -91A13.9 17.8 -56 0 1 130 -83Z" fill="#eaa"/>
<path d="M-83 166L-69 127L-49 163A9.1 17.8 -95 1 1 -83 166Z" fill="#fff"/><path d="M-69 127L-49 163A9.1 17.8 -95 0 1 -65 176Z" fill="#eee"/>
<path d="M-148 96L-127 80L-118 104A14.2 17.8 -75 1 1 -148 96Z" fill="#fee"/><path d="M-127 80L-118 104A14.2 17.8 -75 0 1 -138 121Z" fill="#edd"/>
<path d="M89 -86L128 -117L104 -77Z" fill="#eff"/><path d="M120 -68L128 -117L104 -77Z" fill="#dee"/>
<path d="M24 166L37 133L57 162A11.8 17.8 -97 1 1 24 166Z" fill="#fff"/><path d="M37 133L57 162A11.8 17.8 -97 0 1 43 179Z" fill="#eee"/>
<path d="M138 -89L169 -63L130 -55A9.7 17.8 14 1 1 138 -89Z" fill="#8ff"/><path d="M169 -63L130 -55A9.7 17.8 14 0 1 122 -75Z" fill="#5ee"/>
<path d="M20 -181L-10 -187L13 -165Z" fill="#8ff"/><path d="M-3 -157L-10 -187L13 -165Z" fill="#6ee"/><path d="M25 -178A13.1 17.8 -137 1 0 0 -152 A13.1 17.8 -137 1 0 25 -178Z" fill="#499"/>
<path d="M46 155L52 139L68 143A15.6 17.8 -117 1 1 46 155Z" fill="#eff"/><path d="M52 139L68 143A15.6 17.8 -117 0 1 69 173Z" fill="#dee"/>
<path d="M-47 177L-30 171L-23 189A15.4 17.8 -65 1 1 -47 177Z" fill="#cff"/><path d="M-30 171L-23 189A15.4 17.8 -65 0 1 -46 206Z" fill="#aee"/>
<path d="M147 -1L168 -37L181 2A9 17.8 -85 1 1 147 -1Z" fill="#fee"/><path d="M168 -37L181 2A9 17.8 -85 0 1 163 11Z" fill="#ecc"/>
<path d="M-178 -26L-163 -62L-144 -27A10.1 17.8 -93 1 1 -178 -26Z" fill="#fee"/><path d="M-163 -62L-144 -27A10.1 17.8 -93 0 1 -161 -14Z" fill="#edd"/>
<path d="M-35 170L-17 129L0 171A7.2 17.8 -89 1 1 -35 170Z" fill="#fff"/><path d="M-17 129L0 171A7.2 17.8 -89 0 1 -18 179Z" fill="#eee"/>
<path d="M73 174L93 130L108 177A2.9 17.8 -86 1 1 73 174Z" fill="#fcc"/><path d="M93 130L108 177A2.9 17.8 -86 0 1 90 179Z" fill="#eaa"/>
<path d="M-183 85L-169 49L-149 82A10.4 17.8 -95 1 1 -183 85Z" fill="#fcc"/><path d="M-169 49L-149 82A10.4 17.8 -95 0 1 -165 97Z" fill="#eaa"/>
<path d="M130 54L162 21L163 67A6.6 17.8 -68 1 1 130 54Z" fill="#fdd"/><path d="M162 21L163 67A6.6 17.8 -68 0 1 144 67Z" fill="#ebb"/>
<path d="M-147 -133L-122 -144L-121 -116A13.7 17.8 -58 1 1 -147 -133Z" fill="#7ff"/><path d="M-122 -144L-121 -116A13.7 17.8 -58 0 1 -145 -108Z" fill="#3ee"/>
<path d="M-100 -134L-71 -174L-83 -129Z" fill="#cff"/><path d="M-66 -125L-71 -174L-83 -129Z" fill="#9ee"/>
<path d="M134 -100L158 -72L149 -107Z" fill="#7ff"/><path d="M167 -108L158 -72L149 -107Z" fill="#3ee"/><path d="M132 -103A11 17.8 77 1 0 167 -111 A11 17.8 77 1 0 132 -103Z" fill="#3fe"/>
<path d="M-117 169L-85 131L-100 175Z" fill="#eff"/><path d="M-83 180L-85 131L-100 175Z" fill="#dee"/>
<path d="M153 21L168 -5L186 20A13.3 17.8 -93 1 1 153 21Z" fill="#fdd"/><path d="M168 -5L186 20A13.3 17.8 -93 0 1 171 39Z" fill="#ecc"/>
<path d="M-193 43L-184 -0L-159 36A7.5 17.8 -102 1 1 -193 43Z" fill="#fff"/><path d="M-184 -0L-159 36A7.5 17.8 -102 0 1 -174 48Z" fill="#eee"/>
<path d="M-127 135L-95 104L-95 149A6.7 17.8 -67 1 1 -127 135Z" fill="#fff"/><path d="M-95 104L-95 149A6.7 17.8 -67 0 1 -114 149Z" fill="#eee"/>
<path d="M34 -130L60 -170L69 -124A5.3 17.8 -79 1 1 34 -130Z" fill="#fff"/><path d="M60 -170L69 -124A5.3 17.8 -79 0 1 51 -121Z" fill="#eee"/>
<path d="M-152 -41L-150 -89L-118 -52A3.7 17.8 -109 1 1 -152 -41Z" fill="#9ff"/><path d="M-150 -89L-118 -52A3.7 17.8 -109 0 1 -134 -43Z" fill="#6ee"/>
<path d="M150 -15L155 -60L183 -25A6.8 17.8 -106 1 1 150 -15Z" fill="#cff"/><path d="M155 -60L183 -25A6.8 17.8 -106 0 1 169 -12Z" fill="#9ee"/>
<path d="M-33 -169L-17 -181L-21 -157Z" fill="#5ff"/><path d="M-6 -164L-17 -181L-21 -157Z" fill="#1ee"/><path d="M-4 -154A15.2 17.8 -80 1 0 -39 -160 A15.2 17.8 -80 1 0 -4 -154Z" fill="#1bb"/>
<path d="M-3 -163L31 -199L30 -150A3.7 17.8 -68 1 1 -3 -163Z" fill="#cff"/><path d="M31 -199L30 -150A3.7 17.8 -68 0 1 12 -153Z" fill="#aee"/>
<path d="M118 117L140 80L153 121A8.3 17.8 -83 1 1 118 117Z" fill="#fff"/><path d="M140 80L153 121A8.3 17.8 -83 0 1 134 129Z" fill="#eee"/>
<path d="M-51 -171L-36 -199L-18 -173A12.7 17.8 -93 1 1 -51 -171Z" fill="#6ff"/><path d="M-36 -199L-18 -173A12.7 17.8 -93 0 1 -34 -154Z" fill="#3ee"/>
<path d="M145 92L162 54L180 92A8.9 17.8 -91 1 1 145 92Z" fill="#fee"/><path d="M162 54L180 92A8.9 17.8 -91 0 1 162 103Z" fill="#edd"/>
<path d="M-52 176L-42 139L-18 168A10.6 17.8 -103 1 1 -52 176Z" fill="#fff"/><path d="M-42 139L-18 168A10.6 17.8 -103 0 1 -32 185Z" fill="#eee"/>
<path d="M154 14L176 -28L172 16Z" fill="#fcc"/><path d="M190 17L176 -28L172 16Z" fill="#e99"/><path d="M190 17A5.3 17.8 -85 1 0 154 15 A5.3 17.8 -85 1 0 190 17Z" fill="#955"/>
<path d="M-131 -41A17.3 17.8 -30 1 0 -148 -71 A17.3 17.8 -30 1 0 -131 -41Z" fill="#5dd"/>
<path d="M-112 -109L-93 -135L-80 -105A12.4 17.8 -83 1 1 -112 -109Z" fill="#eff"/><path d="M-93 -135L-80 -105A12.4 17.8 -83 0 1 -98 -90Z" fill="#dee"/>
<path d="M100 141L120 107L135 144A10.1 17.8 -85 1 1 100 141Z" fill="#fee"/><path d="M120 107L135 144A10.1 17.8 -85 0 1 116 155Z" fill="#edd"/>
<path d="M-166 10L-165 -35L-133 -4A7.4 17.8 -113 1 1 -166 10Z" fill="#fcc"/><path d="M-165 -35L-133 -4A7.4 17.8 -113 0 1 -146 11Z" fill="#e88"/>
<path d="M76 -125L82 -115L94 -116A16.1 17.8 116 1 0 76 -125Z" fill="#8ff"/><path d="M82 -115L94 -116A16.1 17.8 116 0 0 98 -147Z" fill="#5ee"/>
<path d="M-111 127L-88 160L-94 121Z" fill="#fff"/><path d="M-77 121L-88 160L-94 121Z" fill="#eee"/><path d="M-112 124A9.6 17.8 80 1 0 -77 118 A9.6 17.8 80 1 0 -112 124Z" fill="#eee"/>
<path d="M16 -126L36 -171L52 -124A0.9 17.8 -88 1 1 16 -126Z" fill="#aff"/><path d="M36 -171L52 -124A0.9 17.8 -88 0 1 34 -124Z" fill="#8ee"/>
<path d="M-105 -118L-110 -154L-89 -125Z" fill="#faa"/><path d="M-77 -138L-110 -154L-89 -125Z" fill="#e55"/><path d="M-75 -136A11.3 17.8 -126 1 0 -103 -115 A11.3 17.8 -126 1 0 -75 -136Z" fill="#933"/>
<path d="M137 -62L157 -18L124 -49Z" fill="#5ff"/><path d="M113 -35L157 -18L124 -49Z" fill="#1ee"/><path d="M112 -36A4.3 17.8 43 1 0 136 -62 A4.3 17.8 43 1 0 112 -36Z" fill="#1ee"/>
<path d="M-23 161L-0 171L-14 147Z" fill="#fff"/><path d="M3 147L-0 171L-14 147Z" fill="#eee"/><path d="M-29 156A14.5 17.8 61 1 0 2 138 A14.5 17.8 61 1 0 -29 156Z" fill="#eff"/>
<path d="M-146 98L-142 55L-113 88A7.9 17.8 -108 1 1 -146 98Z" fill="#fee"/><path d="M-142 55L-113 88A7.9 17.8 -108 0 1 -127 102Z" fill="#edd"/>
<path d="M100 -108L120 -140L134 -105A10.8 17.8 -84 1 1 100 -108Z" fill="#aff"/><path d="M120 -140L134 -105A10.8 17.8 -84 0 1 115 -93Z" fill="#8ee"/>
<path d="M-143 96L-117 132L-126 91Z" fill="#fff"/><path d="M-109 88L-117 132L-126 91Z" fill="#eee"/><path d="M-143 95A7.4 17.8 77 1 0 -109 87 A7.4 17.8 77 1 0 -143 95Z" fill="#edd"/>
<path d="M-78 180L-59 136L-43 181A4.7 17.8 -89 1 1 -78 180Z" fill="#eff"/><path d="M-59 136L-43 181A4.7 17.8 -89 0 1 -60 185Z" fill="#dee"/>
<path d="M-137 134L-122 115L-107 134A14.4 17.8 -90 1 1 -137 134Z" fill="#fdd"/><path d="M-122 115L-107 134A14.4 17.8 -90 0 1 -122 156Z" fill="#ebb"/>
<path d="M-167 -74L-137 -112L-133 -64A3.6 17.8 -74 1 1 -167 -74Z" fill="#dff"/><path d="M-137 -112L-133 -64A3.6 17.8 -74 0 1 -151 -65Z" fill="#bee"/>
<path d="M-81 147L-71 107L-47 141A9.3 17.8 -100 1 1 -81 147Z" fill="#fff"/><path d="M-71 107L-47 141A9.3 17.8 -100 0 1 -62 155Z" fill="#eee"/>
<path d="M79 -119L82 -165L112 -130A6.1 17.8 -108 1 1 79 -119Z" fill="#fdd"/><path d="M82 -165L112 -130A6.1 17.8 -108 0 1 98 -118Z" fill="#ecc"/>
<path d="M168 41A16.5 17.8 -70 1 0 135 29 A16.5 17.8 -70 1 0 168 41Z" fill="#fff"/>
<path d="M-114 119L-104 82L-81 112A10.7 17.8 -101 1 1 -114 119Z" fill="#fff"/><path d="M-104 82L-81 112A10.7 17.8 -101 0 1 -95 129Z" fill="#eee"/>
<path d="M-186 -49L-161 -92L-151 -44A1.9 17.8 -81 1 1 -186 -49Z" fill="#eff"/><path d="M-161 -92L-151 -44A1.9 17.8 -81 0 1 -169 -45Z" fill="#cee"/>
<path d="M-166 43L-147 -2L-131 44A2.5 17.8 -88 1 1 -166 43Z" fill="#fff"/><path d="M-147 -2L-131 44A2.5 17.8 -88 0 1 -149 46Z" fill="#eee"/>
<path d="M58 171L75 145L90 172A13.1 17.8 -88 1 1 58 171Z" fill="#fff"/><path d="M75 145L90 172A13.1 17.8 -88 0 1 73 189Z" fill="#eee"/>
<path d="M141 -48L177 -78L172 -31A5.7 17.8 -61 1 1 141 -48Z" fill="#fdd"/><path d="M177 -78L172 -31A5.7 17.8 -61 0 1 153 -34Z" fill="#ebb"/>
<path d="M-142 -135L-117 -92L-106 -140A1.8 17.8 81 1 0 -142 -135Z" fill="#9ff"/><path d="M-117 -92L-106 -140A1.8 17.8 81 0 0 -124 -139Z" fill="#6ee"/>
<path d="M33 186L48 140L69 183A3.7 17.8 -94 1 1 33 186Z" fill="#fff"/><path d="M48 140L69 183A3.7 17.8 -94 0 1 51 189Z" fill="#eee"/>
<path d="M-182 70L-170 23L-147 66A4 17.8 -97 1 1 -182 70Z" fill="#fff"/><path d="M-170 23L-147 66A4 17.8 -97 0 1 -164 72Z" fill="#eee"/>
<path d="M117 -43L150 -74L133 -35Z" fill="#8ff"/><path d="M150 -29L150 -74L133 -35Z" fill="#5ee"/><path d="M149 -28A7.2 17.8 -67 1 0 117 -42 A7.2 17.8 -67 1 0 149 -28Z" fill="#399"/>
<path d="M-196 2L-164 -24L-165 18A9 17.8 -64 1 1 -196 2Z" fill="#fee"/><path d="M-164 -24L-165 18A9 17.8 -64 0 1 -185 20Z" fill="#edd"/>
<path d="M-1 162L28 139L30 176A10.9 17.8 -66 1 1 -1 162Z" fill="#fff"/><path d="M28 139L30 176A10.9 17.8 -66 0 1 8 182Z" fill="#eee"/>
<path d="M-53 -115L-52 -163L-20 -127A4.1 17.8 -110 1 1 -53 -115Z" fill="#6ff"/><path d="M-52 -163L-20 -127A4.1 17.8 -110 0 1 -35 -117Z" fill="#2ee"/>
<path d="M45 -124L67 -164L63 -121Z" fill="#8ff"/><path d="M80 -121L67 -164L63 -121Z" fill="#5ee"/><path d="M80 -120A6.8 17.8 -85 1 0 45 -123 A6.8 17.8 -85 1 0 80 -120Z" fill="#399"/>
<path d="M27 -149L27 -186L57 -164A10.8 17.8 -117 1 1 27 -149Z" fill="#7ff"/><path d="M27 -186L57 -164A10.8 17.8 -117 0 1 48 -144Z" fill="#4ee"/>
<path d="M110 -70L127 -113L145 -71A6.5 17.8 -91 1 1 110 -70Z" fill="#cff"/><path d="M127 -113L145 -71A6.5 17.8 -91 0 1 128 -63Z" fill="#9ee"/>
<path d="M77 149L85 112L110 141A10.7 17.8 -105 1 1 77 149Z" fill="#fee"/><path d="M85 112L110 141A10.7 17.8 -105 0 1 97 158Z" fill="#edd"/>
<path d="M-165 -10L-160 -58L-131 -19A3.2 17.8 -105 1 1 -165 -10Z" fill="#dff"/><path d="M-160 -58L-131 -19A3.2 17.8 -105 0 1 -147 -11Z" fill="#aee"/>
<path d="M100 125L115 83L135 122A7.8 17.8 -94 1 1 100 125Z" fill="#fbb"/><path d="M115 83L135 122A7.8 17.8 -94 0 1 118 133Z" fill="#e77"/>
<path d="M122 91L142 60L156 95A10.9 17.8 -84 1 1 122 91Z" fill="#fee"/><path d="M142 60L156 95A10.9 17.8 -84 0 1 137 107Z" fill="#edd"/>
<path d="M145 67L161 33L179 67A10.4 17.8 -91 1 1 145 67Z" fill="#fff"/><path d="M161 33L179 67A10.4 17.8 -91 0 1 162 81Z" fill="#eee"/>
<path d="M-21 -110L-25 -159L-5 -118Z" fill="#6ff"/><path d="M11 -126L-25 -159L-5 -118Z" fill="#3ee"/><path d="M11 -126A1.7 17.8 -116 1 0 -21 -110 A1.7 17.8 -116 1 0 11 -126Z" fill="#299"/>
<path d="M-119 -58L-128 -101L-90 -79A7.6 17.8 -126 1 1 -119 -58Z" fill="#cff"/><path d="M-128 -101L-90 -79A7.6 17.8 -126 0 1 -99 -61Z" fill="#9ee"/>
<path d="M0 148L18 124L33 150A13.1 17.8 -87 1 1 0 148Z" fill="#fee"/><path d="M18 124L33 150A13.1 17.8 -87 0 1 15 168Z" fill="#eee"/>
<path d="M76 -119L112 -124L96 -92A11.6 17.8 -35 1 1 76 -119Z" fill="#aff"/><path d="M112 -124L96 -92A11.6 17.8 -35 0 1 73 -96Z" fill="#8ee"/>
<path d="M76 128L97 93L111 132A9.3 17.8 -84 1 1 76 128Z" fill="#fdd"/><path d="M97 93L111 132A9.3 17.8 -84 0 1 92 141Z" fill="#ebb"/>
<path d="M105 111L109 64L139 101A4.4 17.8 -106 1 1 105 111Z" fill="#fee"/><path d="M109 64L139 101A4.4 17.8 -106 0 1 123 111Z" fill="#ecc"/>
<path d="M-47 157L-40 116L-14 148A9.5 17.8 -105 1 1 -47 157Z" fill="#fff"/><path d="M-40 116L-14 148A9.5 17.8 -105 0 1 -28 163Z" fill="#eee"/>
<path d="M138 2L148 -47L156 -1Z" fill="#fff"/><path d="M173 -5L148 -47L156 -1Z" fill="#eee"/><path d="M173 -5A1.6 17.8 -100 1 0 138 2 A1.6 17.8 -100 1 0 173 -5Z" fill="#899"/>
<path d="M-26 158L-6 121L9 160A8.8 17.8 -86 1 1 -26 158Z" fill="#fff"/><path d="M-6 121L9 160A8.8 17.8 -86 0 1 -10 170Z" fill="#eee"/>
<path d="M-66 -122L-109 -115L-74 -89A7.9 17.8 -166 1 0 -66 -122Z" fill="#5ff"/><path d="M-109 -115L-74 -89A7.9 17.8 -166 0 0 -61 -103Z" fill="#1ee"/>
<path d="M-157 54L-127 33L-126 70A11.1 17.8 -63 1 1 -157 54Z" fill="#eff"/><path d="M-127 33L-126 70A11.1 17.8 -63 0 1 -148 75Z" fill="#dee"/>
<path d="M-162 25L-151 -18L-128 19A7.9 17.8 -99 1 1 -162 25Z" fill="#fff"/><path d="M-151 -18L-128 19A7.9 17.8 -99 0 1 -144 31Z" fill="#eee"/>
<path d="M60 154L73 115L94 150A9.3 17.8 -97 1 1 60 154Z" fill="#fff"/><path d="M73 115L94 150A9.3 17.8 -97 0 1 79 163Z" fill="#eee"/>
<path d="M-173 -30L-156 -76L-137 -31A2.3 17.8 -92 1 1 -173 -30Z" fill="#cff"/><path d="M-156 -76L-137 -31A2.3 17.8 -92 0 1 -155 -28Z" fill="#9ee"/>
<path d="M133 13L150 -17L166 13A12.1 17.8 -89 1 1 133 13Z" fill="#fee"/><path d="M150 -17L166 13A12.1 17.8 -89 0 1 149 29Z" fill="#ecc"/>
<path d="M-187 35L-157 7L-155 48A9.4 17.8 -68 1 1 -187 35Z" fill="#eff"/><path d="M-157 7L-155 48A9.4 17.8 -68 0 1 -175 53Z" fill="#eee"/>
<path d="M73 -127L115 -153L102 -106A1.3 17.8 -53 1 1 73 -127Z" fill="#cff"/><path d="M115 -153L102 -106A1.3 17.8 -53 0 1 87 -115Z" fill="#9ee"/>
<path d="M103 -106L140 -126L131 -85A8.9 17.8 -53 1 1 103 -106Z" fill="#dff"/><path d="M140 -126L131 -85A8.9 17.8 -53 0 1 111 -87Z" fill="#aee"/>
<path d="M-80 157L-58 119L-45 161A7.5 17.8 -84 1 1 -80 157Z" fill="#fff"/><path d="M-58 119L-45 161A7.5 17.8 -84 0 1 -64 168Z" fill="#eee"/>
<path d="M-107 123L-90 95L-74 123A12.5 17.8 -89 1 1 -107 123Z" fill="#fff"/><path d="M-90 95L-74 123A12.5 17.8 -89 0 1 -91 140Z" fill="#eee"/>
<path d="M-43 -192L-56 -145L-28 -182Z" fill="#aff"/><path d="M-14 -171L-56 -145L-28 -182Z" fill="#7ee"/>
<path d="M148 51L162 8L183 48A6.7 17.8 -95 1 1 148 51Z" fill="#fee"/><path d="M162 8L183 48A6.7 17.8 -95 0 1 166 57Z" fill="#edd"/>
<path d="M22 -123L43 -153L56 -119A11.4 17.8 -83 1 1 22 -123Z" fill="#9ff"/><path d="M43 -153L56 -119A11.4 17.8 -83 0 1 37 -106Z" fill="#7ee"/>
<path d="M91 -66L110 -99L125 -64A10.8 17.8 -88 1 1 91 -66Z" fill="#fee"/><path d="M110 -99L125 -64A10.8 17.8 -88 0 1 108 -51Z" fill="#ecc"/>
<path d="M99 -70L144 -53L99 -52Z" fill="#5ff"/><path d="M100 -34L144 -53L99 -52Z" fill="#2ee"/><path d="M100 -34A4.4 17.8 -1 1 0 99 -70 A4.4 17.8 -1 1 0 100 -34Z" fill="#1cc"/>
<path d="M48 -109L95 -119L68 -80A5.2 17.8 -34 1 1 48 -109Z" fill="#6ff"/><path d="M95 -119L68 -80A5.2 17.8 -34 0 1 54 -91Z" fill="#2ee"/>
<path d="M-49 181L-16 143L-15 193A1.7 17.8 -70 1 1 -49 181Z" fill="#dff"/><path d="M-16 143L-15 193A1.7 17.8 -70 0 1 -33 188Z" fill="#bee"/>
<path d="M-181 72L-157 39L-147 78A9.6 17.8 -79 1 1 -181 72Z" fill="#fee"/><path d="M-157 39L-147 78A9.6 17.8 -79 0 1 -167 87Z" fill="#ecc"/>
<path d="M121 60L141 41L152 67A13.8 17.8 -78 1 1 121 60Z" fill="#fee"/><path d="M141 41L152 67A13.8 17.8 -78 0 1 132 83Z" fill="#edd"/>
<path d="M37 156L44 125L68 146A12.7 17.8 -107 1 1 37 156Z" fill="#fff"/><path d="M44 125L68 146A12.7 17.8 -107 0 1 57 168Z" fill="#eee"/>
<path d="M-77 -114L-67 -159L-42 -120A6.3 17.8 -101 1 1 -77 -114Z" fill="#eff"/><path d="M-67 -159L-42 -120A6.3 17.8 -101 0 1 -58 -110Z" fill="#dee"/>
<path d="M116 27L126 -14L150 20A8.6 17.8 -100 1 1 116 27Z" fill="#fff"/><path d="M126 -14L150 20A8.6 17.8 -100 0 1 135 34Z" fill="#eee"/>
<path d="M-116 -120L-84 -156L-83 -108A4.6 17.8 -69 1 1 -116 -120Z" fill="#cff"/><path d="M-84 -156L-83 -108A4.6 17.8 -69 0 1 -101 -109Z" fill="#9ee"/>
<path d="M123 21L133 61L141 22Z" fill="#fff"/><path d="M158 27L133 61L141 22Z" fill="#eee"/><path d="M123 18A9.2 17.8 101 1 0 158 25 A9.2 17.8 101 1 0 123 18Z" fill="#ddd"/>
<path d="M56 120L83 93L89 131A10.6 17.8 -72 1 1 56 120Z" fill="#fff"/><path d="M83 93L89 131A10.6 17.8 -72 0 1 69 138Z" fill="#eee"/>
<path d="M82 -95L111 -123L97 -87Z" fill="#8ff"/><path d="M114 -83L111 -123L97 -87Z" fill="#6ee"/><path d="M114 -81A10.1 17.8 -69 1 0 81 -93 A10.1 17.8 -69 1 0 114 -81Z" fill="#499"/>
<path d="M-7 -172L35 -167L4 -139A8.7 17.8 -18 1 1 -7 -172Z" fill="#9ff"/><path d="M35 -167L4 -139A8.7 17.8 -18 0 1 -12 -152Z" fill="#6ee"/>
<path d="M22 -155L36 -116L8 -144Z" fill="#cff"/><path d="M-3 -131L36 -116L8 -144Z" fill="#aee"/><path d="M-5 -132A9 17.8 46 1 0 21 -157 A9 17.8 46 1 0 -5 -132Z" fill="#aff"/>
<path d="M-145 88L-113 67L-116 105A10.6 17.8 -60 1 1 -145 88Z" fill="#fee"/><path d="M-113 67L-116 105A10.6 17.8 -60 0 1 -137 108Z" fill="#edd"/>
<path d="M-145 58L-139 9L-128 53Z" fill="#eff"/><path d="M-110 49L-139 9L-128 53Z" fill="#dee"/>
<path d="M-23 135L2 93L-5 138Z" fill="#fff"/><path d="M13 141L2 93L-5 138Z" fill="#eee"/><path d="M13 141A2 17.8 -81 1 0 -23 135 A2 17.8 -81 1 0 13 141Z" fill="#988"/>
<path d="M-123 -58L-101 -99L-88 -54A5 17.8 -83 1 1 -123 -58Z" fill="#dff"/><path d="M-101 -99L-88 -54A5 17.8 -83 0 1 -106 -50Z" fill="#aee"/>
<path d="M-77 124L-47 103L-47 140A11 17.8 -62 1 1 -77 124Z" fill="#fff"/><path d="M-47 103L-47 140A11 17.8 -62 0 1 -69 145Z" fill="#eee"/>
<path d="M-147 -57L-127 -99L-112 -55A6.3 17.8 -87 1 1 -147 -57Z" fill="#8ff"/><path d="M-127 -99L-112 -55A6.3 17.8 -87 0 1 -130 -49Z" fill="#5ee"/>
<path d="M-166 -7L-143 -45L-131 -3A7.7 17.8 -82 1 1 -166 -7Z" fill="#cff"/><path d="M-143 -45L-131 -3A7.7 17.8 -82 0 1 -150 4Z" fill="#aee"/>
<path d="M117 -71L147 -90L146 -54A11.5 17.8 -60 1 1 117 -71Z" fill="#dff"/><path d="M147 -90L146 -54A11.5 17.8 -60 0 1 123 -49Z" fill="#bee"/>
<path d="M-83 -121L-38 -140L-71 -108Z" fill="#aff"/><path d="M-58 -96L-38 -140L-71 -108Z" fill="#7ee"/><path d="M-58 -96A4 17.8 -44 1 0 -83 -121 A4 17.8 -44 1 0 -58 -96Z" fill="#599"/>
<path d="M-123 -90L-113 -126L-90 -96A10.9 17.8 -101 1 1 -123 -90Z" fill="#fbb"/><path d="M-113 -126L-90 -96A10.9 17.8 -101 0 1 -103 -79Z" fill="#e88"/>
<path d="M-39 156L-23 123L-5 155A11 17.8 -91 1 1 -39 156Z" fill="#fff"/><path d="M-23 123L-5 155A11 17.8 -91 0 1 -22 170Z" fill="#eee"/>
<path d="M6 160L25 127L40 162A10.8 17.8 -87 1 1 6 160Z" fill="#fff"/><path d="M25 127L40 162A10.8 17.8 -87 0 1 22 175Z" fill="#eee"/>
<path d="M-29 -142L-47 -130L-33 -114A15 17.8 -173 1 0 -29 -142Z" fill="#5ff"/><path d="M-47 -130L-33 -114A15 17.8 -173 0 0 -7 -125Z" fill="#1ee"/>
<path d="M-151 32L-136 -13L-116 30A4.4 17.8 -93 1 1 -151 32Z" fill="#eff"/><path d="M-136 -13L-116 30A4.4 17.8 -93 0 1 -133 36Z" fill="#dee"/>
<path d="M116 93A16.6 17.8 -107 1 0 81 103 A16.6 17.8 -107 1 0 116 93Z" fill="#faa"/>
<path d="M127 -28L164 -58L158 -10A4.1 17.8 -61 1 1 127 -28Z" fill="#eff"/><path d="M164 -58L158 -10A4.1 17.8 -61 0 1 140 -15Z" fill="#dee"/>
<path d="M54 -147L101 -129L54 -112A1.1 17.8 0 1 1 54 -147Z" fill="#8ff"/><path d="M101 -129L54 -112A1.1 17.8 0 0 1 53 -129Z" fill="#5ee"/>
<path d="M-18 -135L-17 -178L14 -149A8.5 17.8 -113 1 1 -18 -135Z" fill="#7ff"/><path d="M-17 -178L14 -149A8.5 17.8 -113 0 1 2 -133Z" fill="#3ee"/>
<path d="M105 82L110 40L139 72A8.8 17.8 -108 1 1 105 82Z" fill="#fff"/><path d="M110 40L139 72A8.8 17.8 -108 0 1 125 87Z" fill="#eee"/>
<path d="M-105 114L-97 67L-70 107A3.8 17.8 -101 1 1 -105 114Z" fill="#fee"/><path d="M-97 67L-70 107A3.8 17.8 -101 0 1 -87 115Z" fill="#edd"/>
<path d="M108 -7L132 -42L142 -1A8.4 17.8 -79 1 1 108 -7Z" fill="#fff"/><path d="M132 -42L142 -1A8.4 17.8 -79 0 1 123 6Z" fill="#eee"/>
<path d="M35 137L50 97L70 135A8.1 17.8 -94 1 1 35 137Z" fill="#eff"/><path d="M50 97L70 135A8.1 17.8 -94 0 1 53 146Z" fill="#dee"/>
<path d="M-142 -34L-129 -62L-110 -37A13 17.8 -96 1 1 -142 -34Z" fill="#fff"/><path d="M-129 -62L-110 -37A13 17.8 -96 0 1 -124 -18Z" fill="#eee"/>
<path d="M-148 71L-117 38L-115 83A6.4 17.8 -69 1 1 -148 71Z" fill="#fee"/><path d="M-117 38L-115 83A6.4 17.8 -69 0 1 -134 84Z" fill="#edd"/>
<path d="M107 -20L134 -61L124 -16Z" fill="#fff"/><path d="M141 -12L134 -61L124 -16Z" fill="#eee"/><path d="M141 -12A2.9 17.8 -77 1 0 107 -20 A2.9 17.8 -77 1 0 141 -12Z" fill="#899"/>
<path d="M104 -33L95 -1L119 -24Z" fill="#eff"/><path d="M127 -9L95 -1L119 -24Z" fill="#dee"/><path d="M106 -37A12.4 17.8 136 1 0 131 -11 A12.4 17.8 136 1 0 106 -37Z" fill="#bcc"/>
<path d="M43 -99L48 -149L60 -104Z" fill="#dff"/><path d="M77 -108L48 -149L60 -104Z" fill="#aee"/>
<path d="M70 -73A16.8 17.8 -36 1 0 49 -102 A16.8 17.8 -36 1 0 70 -73Z" fill="#3dd"/>
<path d="M110 -45L105 -88L140 -62A7.7 17.8 -120 1 1 110 -45Z" fill="#8ff"/><path d="M105 -88L140 -62A7.7 17.8 -120 0 1 130 -46Z" fill="#6ee"/>
<path d="M-136 114L-111 72L-101 120A1.5 17.8 -81 1 1 -136 114Z" fill="#fff"/><path d="M-111 72L-101 120A1.5 17.8 -81 0 1 -119 119Z" fill="#eee"/>
<path d="M-100 -87L-76 -123L-66 -81A8.1 17.8 -80 1 1 -100 -87Z" fill="#8ff"/><path d="M-76 -123L-66 -81A8.1 17.8 -80 0 1 -85 -74Z" fill="#5ee"/>
<path d="M-18 -104L1 -146L17 -103A6.3 17.8 -89 1 1 -18 -104Z" fill="#8ff"/><path d="M1 -146L17 -103A6.3 17.8 -89 0 1 -1 -96Z" fill="#5ee"/>
<path d="M-59 -74L-46 -119L-24 -77A4.7 17.8 -96 1 1 -59 -74Z" fill="#dff"/><path d="M-46 -119L-24 -77A4.7 17.8 -96 0 1 -41 -70Z" fill="#bee"/>
<path d="M105 57L112 25L136 47A12.4 17.8 -107 1 1 105 57Z" fill="#eff"/><path d="M112 25L136 47A12.4 17.8 -107 0 1 126 68Z" fill="#dee"/>
<path d="M-130 -25A17.3 17.8 -52 1 0 -158 -47 A17.3 17.8 -52 1 0 -130 -25Z" fill="#9ff"/>
<path d="M-125 29L-94 -8L-108 35Z" fill="#eff"/><path d="M-91 40L-94 -8L-108 35Z" fill="#cee"/><path d="M-91 40A4.3 17.8 -72 1 0 -125 30 A4.3 17.8 -72 1 0 -91 40Z" fill="#799"/>
<path d="M63 -116L108 -99L63 -81A2.5 17.8 -0 1 1 63 -116Z" fill="#5ff"/><path d="M108 -99L63 -81A2.5 17.8 -0 0 1 60 -99Z" fill="#1ee"/>
<path d="M-11 174L5 130L24 173A5.6 17.8 -92 1 1 -11 174Z" fill="#fff"/><path d="M5 130L24 173A5.6 17.8 -92 0 1 6 180Z" fill="#eee"/>
<path d="M-36 157L-38 108L-3 143A2.7 17.8 -113 1 1 -36 157Z" fill="#fff"/><path d="M-38 108L-3 143A2.7 17.8 -113 0 1 -18 153Z" fill="#eee"/>
<path d="M94 124L100 76L129 115A3.9 17.8 -104 1 1 94 124Z" fill="#faa"/><path d="M100 76L129 115A3.9 17.8 -104 0 1 113 123Z" fill="#e55"/>
<path d="M-123 -20L-112 -24L-103 -16A16.1 17.8 -78 1 1 -123 -20Z" fill="#dff"/><path d="M-112 -24L-103 -16A16.1 17.8 -78 0 1 -119 11Z" fill="#bee"/>
<path d="M-111 88L-97 47L-77 85A8.2 17.8 -95 1 1 -111 88Z" fill="#fff"/><path d="M-97 47L-77 85A8.2 17.8 -95 0 1 -93 96Z" fill="#eee"/>
<path d="M-138 -51L-116 -93L-102 -48A4.8 17.8 -85 1 1 -138 -51Z" fill="#eff"/><path d="M-116 -93L-102 -48A4.8 17.8 -85 0 1 -120 -44Z" fill="#dee"/>
<path d="M-127 -58L-120 -13L-110 -55Z" fill="#fee"/><path d="M-93 -50L-120 -13L-110 -55Z" fill="#ecc"/><path d="M-127 -59A6.6 17.8 104 1 0 -92 -51 A6.6 17.8 104 1 0 -127 -59Z" fill="#dbb"/>
<path d="M-98 128L-77 108L-67 135A13.5 17.8 -77 1 1 -98 128Z" fill="#fff"/><path d="M-77 108L-67 135A13.5 17.8 -77 0 1 -87 151Z" fill="#eee"/>
<path d="M5 -153L24 -166L33 -144A14.6 17.8 -73 1 1 5 -153Z" fill="#5ff"/><path d="M24 -166L33 -144A14.6 17.8 -73 0 1 12 -127Z" fill="#1ee"/>
<path d="M-19 124L16 157L-3 116Z" fill="#fff"/><path d="M13 109L16 157L-3 116Z" fill="#eee"/><path d="M-19 124A4 17.8 65 1 0 13 109 A4 17.8 65 1 0 -19 124Z" fill="#eee"/>
<path d="M-39 -100L-18 -145L-4 -97A0.8 17.8 -85 1 1 -39 -100Z" fill="#8ff"/><path d="M-18 -145L-4 -97A0.8 17.8 -85 0 1 -21 -98Z" fill="#5ee"/>
<path d="M70 142L72 116L96 125A14.3 17.8 -123 1 1 70 142Z" fill="#fff"/><path d="M72 116L96 125A14.3 17.8 -123 0 1 95 151Z" fill="#eee"/>
<path d="M12 140L28 101L47 139A8.7 17.8 -92 1 1 12 140Z" fill="#fff"/><path d="M28 101L47 139A8.7 17.8 -92 0 1 30 150Z" fill="#eee"/>
<path d="M85 72L90 24L119 63A3.7 17.8 -106 1 1 85 72Z" fill="#fee"/><path d="M90 24L119 63A3.7 17.8 -106 0 1 103 71Z" fill="#edd"/>
<path d="M42 118L42 80L72 102A10.8 17.8 -116 1 1 42 118Z" fill="#fff"/><path d="M42 80L72 102A10.8 17.8 -116 0 1 63 122Z" fill="#eee"/>
<path d="M-154 5L-131 -37L-119 10A4.4 17.8 -83 1 1 -154 5Z" fill="#eff"/><path d="M-131 -37L-119 10A4.4 17.8 -83 0 1 -137 12Z" fill="#cee"/>
<path d="M85 -48L89 -86L117 -59A10.3 17.8 -109 1 1 85 -48Z" fill="#9ff"/><path d="M89 -86L117 -59A10.3 17.8 -109 0 1 105 -41Z" fill="#6ee"/>
<path d="M-105 -112A17.8 17.8 156 1 0 -91 -80 A17.8 17.8 156 1 0 -105 -112Z" fill="#7ff"/>
<path d="M-138 62L-126 21L-103 58A8.4 17.8 -97 1 1 -138 62Z" fill="#faa"/><path d="M-126 21L-103 58A8.4 17.8 -97 0 1 -119 70Z" fill="#e66"/>
<path d="M127 22L142 -1L158 21A13.9 17.8 -92 1 1 127 22Z" fill="#fff"/><path d="M142 -1L158 21A13.9 17.8 -92 0 1 143 42Z" fill="#eee"/>
<path d="M-59 -129L-101 -125L-71 -97A8.9 17.8 -161 1 0 -59 -129Z" fill="#aff"/><path d="M-101 -125L-71 -97A8.9 17.8 -161 0 0 -55 -109Z" fill="#8ee"/>
<path d="M99 30L112 5L130 26A13.7 17.8 -96 1 1 99 30Z" fill="#fff"/><path d="M112 5L130 26A13.7 17.8 -96 0 1 116 48Z" fill="#eee"/>
<path d="M-69 142L-44 103L-34 148A6.2 17.8 -79 1 1 -69 142Z" fill="#fff"/><path d="M-44 103L-34 148A6.2 17.8 -79 0 1 -53 152Z" fill="#eee"/>
<path d="M66 -31L65 -80L99 -45A3 17.8 -112 1 1 66 -31Z" fill="#dff"/><path d="M65 -80L99 -45A3 17.8 -112 0 1 83 -35Z" fill="#cee"/>
<path d="M-72 114L-60 83L-39 108A12.6 17.8 -99 1 1 -72 114Z" fill="#fff"/><path d="M-60 83L-39 108A12.6 17.8 -99 0 1 -53 128Z" fill="#eee"/>
<path d="M32 -138L54 -109L18 -108A11.4 17.8 25 1 1 32 -138Z" fill="#8ff"/><path d="M54 -109L18 -108A11.4 17.8 25 0 1 11 -129Z" fill="#5ee"/>
<path d="M-130 94L-108 55L-95 98A7.1 17.8 -83 1 1 -130 94Z" fill="#fee"/><path d="M-108 55L-95 98A7.1 17.8 -83 0 1 -113 104Z" fill="#ecc"/>
<path d="M127 11L133 -26L159 0A10.9 17.8 -108 1 1 127 11Z" fill="#fee"/><path d="M133 -26L159 0A10.9 17.8 -108 0 1 148 19Z" fill="#edd"/>
<path d="M-79 93L-58 54L-44 96A7.3 17.8 -85 1 1 -79 93Z" fill="#fff"/><path d="M-58 54L-44 96A7.3 17.8 -85 0 1 -62 103Z" fill="#eee"/>
<path d="M-98 125L-81 79L-62 124A2.4 17.8 -91 1 1 -98 125Z" fill="#fff"/><path d="M-81 79L-62 124A2.4 17.8 -91 0 1 -80 127Z" fill="#eee"/>
<path d="M-113 -67L-69 -70L-98 -36A7.6 17.8 -27 1 1 -113 -67Z" fill="#cff"/><path d="M-69 -70L-98 -36A7.6 17.8 -27 0 1 -114 -48Z" fill="#aee"/>
<path d="M61 -109L16 -90L62 -91Z" fill="#6ff"/><path d="M62 -73L16 -90L62 -91Z" fill="#2ee"/><path d="M61 -109A2.6 17.8 179 1 0 62 -73 A2.6 17.8 179 1 0 61 -109Z" fill="#199"/>
<path d="M-66 -107L-47 -134L-33 -104A12.4 17.8 -85 1 1 -66 -107Z" fill="#7ff"/><path d="M-47 -134L-33 -104A12.4 17.8 -85 0 1 -51 -89Z" fill="#3ee"/>
<path d="M64 120L87 80L99 124A6.4 17.8 -83 1 1 64 120Z" fill="#fdd"/><path d="M87 80L99 124A6.4 17.8 -83 0 1 80 129Z" fill="#eaa"/>
<path d="M89 -17L103 -56L123 -19A9.1 17.8 -94 1 1 89 -17Z" fill="#fee"/><path d="M103 -56L123 -19A9.1 17.8 -94 0 1 107 -7Z" fill="#edd"/>
<path d="M-111 44L-78 35L-88 68A12 17.8 -44 1 1 -111 44Z" fill="#fff"/><path d="M-78 35L-88 68A12 17.8 -44 0 1 -112 67Z" fill="#eee"/>
<path d="M-31 -63L-15 -109L5 -64A3.7 17.8 -92 1 1 -31 -63Z" fill="#8ff"/><path d="M-15 -109L5 -64A3.7 17.8 -92 0 1 -13 -60Z" fill="#6ee"/>
<path d="M-10 -101L4 -142L25 -104A8.3 17.8 -94 1 1 -10 -101Z" fill="#7ff"/><path d="M4 -142L25 -104A8.3 17.8 -94 0 1 8 -93Z" fill="#4ee"/>
<path d="M4 117L28 81L39 123A8.3 17.8 -81 1 1 4 117Z" fill="#fee"/><path d="M28 81L39 123A8.3 17.8 -81 0 1 20 130Z" fill="#ecc"/>
<path d="M109 81L130 51L142 86A11.2 17.8 -82 1 1 109 81Z" fill="#fff"/><path d="M130 51L142 86A11.2 17.8 -82 0 1 124 98Z" fill="#eee"/>
<path d="M-34 118L-27 76L-1 110A8.5 17.8 -104 1 1 -34 118Z" fill="#fff"/><path d="M-27 76L-1 110A8.5 17.8 -104 0 1 -15 124Z" fill="#eee"/>
<path d="M70 -136L38 -97L87 -105A1.1 17.8 150 1 0 70 -136Z" fill="#9ff"/><path d="M38 -97L87 -105A1.1 17.8 150 0 0 79 -121Z" fill="#6ee"/>
<path d="M-132 -42L-111 -87L-114 -41Z" fill="#5ff"/><path d="M-96 -40L-111 -87L-114 -41Z" fill="#2ee"/><path d="M-96 -40A2.4 17.8 -87 1 0 -132 -42 A2.4 17.8 -87 1 0 -96 -40Z" fill="#199"/>
<path d="M-94 -11L-79 -54L-59 -14A6.8 17.8 -94 1 1 -94 -11Z" fill="#dff"/><path d="M-79 -54L-59 -14A6.8 17.8 -94 0 1 -76 -4Z" fill="#bee"/>
<path d="M-139 29L-125 3L-107 26A13.4 17.8 -95 1 1 -139 29Z" fill="#eff"/><path d="M-125 3L-107 26A13.4 17.8 -95 0 1 -121 46Z" fill="#dee"/>
<path d="M-123 14L-101 -23L-88 19A8.1 17.8 -83 1 1 -123 14Z" fill="#eff"/><path d="M-101 -23L-88 19A8.1 17.8 -83 0 1 -107 26Z" fill="#cee"/>
<path d="M-87 -97L-53 -92L-75 -66A12.1 17.8 -22 1 1 -87 -97Z" fill="#7ff"/><path d="M-53 -92L-75 -66A12.1 17.8 -22 0 1 -96 -75Z" fill="#3ee"/>
<path d="M92 100L104 60L127 95A8.9 17.8 -99 1 1 92 100Z" fill="#fee"/><path d="M104 60L127 95A8.9 17.8 -99 0 1 111 108Z" fill="#edd"/>
<path d="M94 -13L127 23L110 -20Z" fill="#fcc"/><path d="M127 -26L127 23L110 -20Z" fill="#eaa"/>
<path d="M58 -96L73 -52L76 -96Z" fill="#9ff"/><path d="M94 -94L73 -52L76 -96Z" fill="#7ee"/><path d="M58 -97A5.7 17.8 94 1 0 94 -95 A5.7 17.8 94 1 0 58 -97Z" fill="#6dd"/>
<path d="M-68 84L-64 35L-34 74A3.3 17.8 -107 1 1 -68 84Z" fill="#fff"/><path d="M-64 35L-34 74A3.3 17.8 -107 0 1 -50 82Z" fill="#eee"/>
<path d="M47 130L61 84L82 127A4.7 17.8 -94 1 1 47 130Z" fill="#fee"/><path d="M61 84L82 127A4.7 17.8 -94 0 1 65 133Z" fill="#edd"/>
<path d="M-10 127L6 81L26 126A3.8 17.8 -92 1 1 -10 127Z" fill="#eff"/><path d="M6 81L26 126A3.8 17.8 -92 0 1 8 130Z" fill="#dee"/>
<path d="M-91 102L-85 58L-57 93A7 17.8 -105 1 1 -91 102Z" fill="#eff"/><path d="M-85 58L-57 93A7 17.8 -105 0 1 -72 106Z" fill="#dee"/>
<path d="M-33 -60L-69 -65L-54 -33A11.4 17.8 -143 1 0 -33 -60Z" fill="#8ff"/><path d="M-69 -65L-54 -33A11.4 17.8 -143 0 0 -31 -37Z" fill="#5ee"/>
<path d="M84 -77L96 -104L116 -82A13.4 17.8 -100 1 1 84 -77Z" fill="#9ff"/><path d="M96 -104L116 -82A13.4 17.8 -100 0 1 103 -60Z" fill="#6ee"/>
<path d="M-65 120L-50 88L-32 118A11.8 17.8 -92 1 1 -65 120Z" fill="#fff"/><path d="M-50 88L-32 118A11.8 17.8 -92 0 1 -48 135Z" fill="#eee"/>
<path d="M94 -29L101 -78L111 -33Z" fill="#9ff"/><path d="M128 -37L101 -78L111 -33Z" fill="#6ee"/><path d="M128 -37A2 17.8 -103 1 0 94 -29 A2 17.8 -103 1 0 128 -37Z" fill="#499"/>
<path d="M-90 13L-56 -22L-74 20Z" fill="#dff"/><path d="M-57 27L-56 -22L-74 20Z" fill="#bee"/><path d="M-57 27A1.9 17.8 -67 1 0 -90 14 A1.9 17.8 -67 1 0 -57 27Z" fill="#799"/>
<path d="M-136 68L-110 34L-102 77A8.2 17.8 -76 1 1 -136 68Z" fill="#eff"/><path d="M-110 34L-102 77A8.2 17.8 -76 0 1 -122 82Z" fill="#dee"/>
<path d="M-113 46L-94 6L-78 48A7.4 17.8 -87 1 1 -113 46Z" fill="#fff"/><path d="M-94 6L-78 48A7.4 17.8 -87 0 1 -96 55Z" fill="#eee"/>
<path d="M-56 -102L-42 -63L-21 -99A9.1 17.8 95 1 0 -56 -102Z" fill="#8ff"/><path d="M-42 -63L-21 -99A9.1 17.8 95 0 0 -38 -112Z" fill="#5ee"/>
<path d="M38 -39L51 -79L72 -43A9 17.8 -97 1 1 38 -39Z" fill="#dff"/><path d="M51 -79L72 -43A9 17.8 -97 0 1 56 -30Z" fill="#aee"/>
<path d="M45 -125L56 -110L41 -99A15.4 17.8 9 1 1 45 -125Z" fill="#5ff"/><path d="M56 -110L41 -99A15.4 17.8 9 0 1 18 -116Z" fill="#1ee"/>
<path d="M35 73L50 36L69 71A10 17.8 -94 1 1 35 73Z" fill="#fff"/><path d="M50 36L69 71A10 17.8 -94 0 1 53 85Z" fill="#eee"/>
<path d="M-50 97L-24 57L-15 104A4.6 17.8 -78 1 1 -50 97Z" fill="#fff"/><path d="M-24 57L-15 104A4.6 17.8 -78 0 1 -34 105Z" fill="#eee"/>
<path d="M113 -11L71 -5L110 7Z" fill="#dff"/><path d="M103 23L71 -5L110 7Z" fill="#bee"/><path d="M115 -10A8.3 17.8 -163 1 0 105 24 A8.3 17.8 -163 1 0 115 -10Z" fill="#799"/>
<path d="M77 -44A16.8 17.8 131 1 0 104 -21 A16.8 17.8 131 1 0 77 -44Z" fill="#8ff"/>
<path d="M-79 -97L-100 -95L-96 -74A15 17.8 -144 1 0 -79 -97Z" fill="#5ff"/><path d="M-100 -95L-96 -74A15 17.8 -144 0 0 -68 -71Z" fill="#2ee"/>
<path d="M-96 -16L-102 24L-81 -9Z" fill="#eff"/><path d="M-67 3L-102 24L-81 -9Z" fill="#dee"/><path d="M-96 -18A9.4 17.8 123 1 0 -66 1 A9.4 17.8 123 1 0 -96 -18Z" fill="#bcc"/>
<path d="M103 17L88 18L86 34A15.8 17.8 -135 1 0 103 17Z" fill="#eff"/><path d="M88 18L86 34A15.8 17.8 -135 0 0 114 45Z" fill="#cee"/>
<path d="M70 106L70 66L101 91A9.8 17.8 -116 1 1 70 106Z" fill="#faa"/><path d="M70 66L101 91A9.8 17.8 -116 0 1 91 110Z" fill="#e55"/>
<path d="M-140 22L-121 -19L-105 23A7.3 17.8 -88 1 1 -140 22Z" fill="#fff"/><path d="M-121 -19L-105 23A7.3 17.8 -88 0 1 -123 31Z" fill="#eee"/>
<path d="M-38 130L-7 93L-4 141A3.9 17.8 -72 1 1 -38 130Z" fill="#fee"/><path d="M-7 93L-4 141A3.9 17.8 -72 0 1 -22 139Z" fill="#ecc"/>
<path d="M44 73A17.7 17.8 -134 1 0 18 98 A17.7 17.8 -134 1 0 44 73Z" fill="#eff"/>
<path d="M-2 -72L15 -96L30 -71A13.4 17.8 -87 1 1 -2 -72Z" fill="#9ff"/><path d="M15 -96L30 -71A13.4 17.8 -87 0 1 13 -52Z" fill="#7ee"/>
<path d="M50 35L83 9L81 51A8.5 17.8 -63 1 1 50 35Z" fill="#fff"/><path d="M83 9L81 51A8.5 17.8 -63 0 1 60 52Z" fill="#eee"/>
<path d="M86 79L100 34L122 76A5.4 17.8 -95 1 1 86 79Z" fill="#fff"/><path d="M100 34L122 76A5.4 17.8 -95 0 1 105 84Z" fill="#eee"/>
<path d="M-116 -10L-101 -50L-81 -13A8.6 17.8 -94 1 1 -116 -10Z" fill="#fff"/><path d="M-101 -50L-81 -13A8.6 17.8 -94 0 1 -98 -1Z" fill="#eee"/>
<path d="M-50 -41L-15 -76L-33 -34Z" fill="#aff"/><path d="M-17 -27L-15 -76L-33 -34Z" fill="#7ee"/>
<path d="M8 80L21 37L43 76A6.9 17.8 -96 1 1 8 80Z" fill="#eff"/><path d="M21 37L43 76A6.9 17.8 -96 0 1 27 86Z" fill="#cee"/>
<path d="M10 -28L27 -74L46 -29A2.4 17.8 -91 1 1 10 -28Z" fill="#fee"/><path d="M27 -74L46 -29A2.4 17.8 -91 0 1 28 -26Z" fill="#edd"/>
<path d="M-97 -39L-80 -69L-64 -39A12.2 17.8 -89 1 1 -97 -39Z" fill="#dff"/><path d="M-80 -69L-64 -39A12.2 17.8 -89 0 1 -80 -23Z" fill="#bee"/>
<path d="M61 75L79 38L95 76A9.2 17.8 -88 1 1 61 75Z" fill="#fff"/><path d="M79 38L95 76A9.2 17.8 -88 0 1 78 87Z" fill="#eee"/>
<path d="M-71 92L-42 65L-39 104A10.4 17.8 -69 1 1 -71 92Z" fill="#fff"/><path d="M-42 65L-39 104A10.4 17.8 -69 0 1 -59 110Z" fill="#eee"/>
<path d="M29 88L-11 67L2 110A6.9 17.8 -129 1 0 29 88Z" fill="#fff"/><path d="M-11 67L2 110A6.9 17.8 -129 0 0 21 106Z" fill="#eee"/>
<path d="M-49 67L-19 46L-19 83A11.2 17.8 -63 1 1 -49 67Z" fill="#eff"/><path d="M-19 46L-19 83A11.2 17.8 -63 0 1 -40 88Z" fill="#dee"/>
<path d="M-18 -83L11 -90L5 -61A13.4 17.8 -46 1 1 -18 -83Z" fill="#aff"/><path d="M11 -90L5 -61A13.4 17.8 -46 0 1 -20 -58Z" fill="#8ee"/>
<path d="M24 -130L1 -86L47 -103A0.6 17.8 139 1 0 24 -130Z" fill="#5ff"/><path d="M1 -86L47 -103A0.6 17.8 139 0 0 36 -117Z" fill="#1ee"/>
<path d="M-12 -126A16.8 17.8 149 1 0 7 -95 A16.8 17.8 149 1 0 -12 -126Z" fill="#aff"/>
<path d="M-28 48L3 12L5 59A5.2 17.8 -71 1 1 -28 48Z" fill="#eff"/><path d="M3 12L5 59A5.2 17.8 -71 0 1 -13 59Z" fill="#dee"/>
<path d="M60 -39L89 -77L95 -29A4.3 17.8 -74 1 1 60 -39Z" fill="#fee"/><path d="M89 -77L95 -29A4.3 17.8 -74 0 1 76 -30Z" fill="#ecc"/>
<path d="M76 -80L38 -93L52 -56A9.8 17.8 -136 1 0 76 -80Z" fill="#9ff"/><path d="M38 -93L52 -56A9.8 17.8 -136 0 0 73 -59Z" fill="#6ee"/>
<path d="M-96 71L-88 44L-65 63A13.5 17.8 -106 1 1 -96 71Z" fill="#eff"/><path d="M-88 44L-65 63A13.5 17.8 -106 0 1 -75 86Z" fill="#dee"/>
<path d="M52 104L55 75L80 89A13.5 17.8 -117 1 1 52 104Z" fill="#fff"/><path d="M55 75L80 89A13.5 17.8 -117 0 1 75 114Z" fill="#eee"/>
<path d="M-104 58L-82 14L-69 61A2.2 17.8 -85 1 1 -104 58Z" fill="#eff"/><path d="M-82 14L-69 61A2.2 17.8 -85 0 1 -87 61Z" fill="#dee"/>
<path d="M7 -13L48 -35L20 -1Z" fill="#9ff"/><path d="M34 10L48 -35L20 -1Z" fill="#6ee"/><path d="M34 10A5.5 17.8 -50 1 0 6 -13 A5.5 17.8 -50 1 0 34 10Z" fill="#499"/>
<path d="M78 -12A16.8 17.8 -78 1 0 43 -19 A16.8 17.8 -78 1 0 78 -12Z" fill="#eff"/>
<path d="M-79 57L-63 14L-44 55A6.6 17.8 -93 1 1 -79 57Z" fill="#fff"/><path d="M-63 14L-44 55A6.6 17.8 -93 0 1 -61 63Z" fill="#eee"/>
<path d="M-13 -40L-27 3L14 -17A7 17.8 131 1 0 -13 -40Z" fill="#aff"/><path d="M-27 3L14 -17A7 17.8 131 0 0 6 -35Z" fill="#8ee"/>
<path d="M-88 -8L-67 -36L-54 -4A11.9 17.8 -83 1 1 -88 -8Z" fill="#fff"/><path d="M-67 -36L-54 -4A11.9 17.8 -83 0 1 -73 10Z" fill="#eee"/>
<path d="M-47 -96L-37 -119L-18 -103A14.3 17.8 -102 1 1 -47 -96Z" fill="#dff"/><path d="M-37 -119L-18 -103A14.3 17.8 -102 0 1 -28 -78Z" fill="#aee"/>
<path d="M41 62L36 16L72 45A5.9 17.8 -119 1 1 41 62Z" fill="#fff"/><path d="M36 16L72 45A5.9 17.8 -119 0 1 60 59Z" fill="#eee"/>
<path d="M-75 -72L-59 -100L-42 -72A12.5 17.8 -91 1 1 -75 -72Z" fill="#aff"/><path d="M-59 -100L-42 -72A12.5 17.8 -91 0 1 -59 -55Z" fill="#8ee"/>
<path d="M-3 22L13 -11L31 21A11.4 17.8 -93 1 1 -3 22Z" fill="#dff"/><path d="M13 -11L31 21A11.4 17.8 -93 0 1 15 36Z" fill="#aee"/>
<path d="M57 -16L52 -64L88 -32A3.3 17.8 -118 1 1 57 -16Z" fill="#aff"/><path d="M52 -64L88 -32A3.3 17.8 -118 0 1 74 -21Z" fill="#8ee"/>
<path d="M17 -56L36 -99L53 -56A6 17.8 -89 1 1 17 -56Z" fill="#dff"/><path d="M36 -99L53 -56A6 17.8 -89 0 1 35 -49Z" fill="#bee"/>
<path d="M-52 11L-40 -5L-24 8A15.3 17.8 -97 1 1 -52 11Z" fill="#cff"/><path d="M-40 -5L-24 8A15.3 17.8 -97 0 1 -35 34Z" fill="#aee"/>
<path d="M-46 10L-51 -39L-30 2Z" fill="#cff"/><path d="M-14 -6L-51 -39L-30 2Z" fill="#aee"/><path d="M-14 -6A2.2 17.8 -117 1 0 -46 10 A2.2 17.8 -117 1 0 -14 -6Z" fill="#699"/>
<path d="M-41 109L-17 66L-5 113A4.3 17.8 -83 1 1 -41 109Z" fill="#eff"/><path d="M-17 66L-5 113A4.3 17.8 -83 0 1 -23 115Z" fill="#dee"/>
<path d="M-4 -22L8 -68L31 -26A4.3 17.8 -97 1 1 -4 -22Z" fill="#eff"/><path d="M8 -68L31 -26A4.3 17.8 -97 0 1 14 -19Z" fill="#cee"/>
<path d="M-45 -64L-17 -85L-15 -50A11.9 17.8 -65 1 1 -45 -64Z" fill="#8ff"/><path d="M-17 -85L-15 -50A11.9 17.8 -65 0 1 -37 -43Z" fill="#6ee"/>
<path d="M-25 26L2 -16L10 33A0.6 17.8 -78 1 1 -25 26Z" fill="#dff"/><path d="M2 -16L10 33A0.6 17.8 -78 0 1 -7 30Z" fill="#bee"/>
<path d="M50 7L85 -13L79 27A9.7 17.8 -55 1 1 50 7Z" fill="#eff"/><path d="M85 -13L79 27A9.7 17.8 -55 0 1 58 27Z" fill="#cee"/>
<path d="M-82 28L-52 -10L-65 34Z" fill="#dff"/><path d="M-48 39L-52 -10L-65 34Z" fill="#bee"/><path d="M-48 39A2.3 17.8 -73 1 0 -82 28 A2.3 17.8 -73 1 0 -48 39Z" fill="#799"/>
<path d="M24 117L39 73L59 115A5.7 17.8 -93 1 1 24 117Z" fill="#eff"/><path d="M39 73L59 115A5.7 17.8 -93 0 1 42 122Z" fill="#dee"/>
<path d="M66 -11L105 -35L95 9A6.3 17.8 -54 1 1 66 -11Z" fill="#eff"/><path d="M105 -35L95 9A6.3 17.8 -54 0 1 76 5Z" fill="#cee"/>
<path d="M-107 -37L-96 11L-72 -32A1.1 17.8 98 1 0 -107 -37Z" fill="#eff"/><path d="M-96 11L-72 -32A1.1 17.8 98 0 0 -89 -36Z" fill="#dee"/>
<path d="M-67 -39L-40 -67L-34 -29A10.7 17.8 -73 1 1 -67 -39Z" fill="#cff"/><path d="M-40 -67L-34 -29A10.7 17.8 -73 0 1 -54 -21Z" fill="#9ee"/>
<path d="M-47 -46L-23 -46L-44 -29Z" fill="#7ff"/><path d="M-29 -23L-23 -46L-44 -29Z" fill="#3ee"/><path d="M-33 -15A14.6 17.8 -38 1 0 -55 -43 A14.6 17.8 -38 1 0 -33 -15Z" fill="#3cc"/>
<path d="M-30 -22L-14 -69L5 -23A2.1 17.8 -92 1 1 -30 -22Z" fill="#fcc"/><path d="M-14 -69L5 -23A2.1 17.8 -92 0 1 -12 -21Z" fill="#e99"/>
<path d="M15 -86L18 -57L-1 -81Z" fill="#eff"/><path d="M-9 -66L18 -57L-1 -81Z" fill="#eee"/><path d="M-15 -69A13.5 17.8 51 1 0 13 -92 A13.5 17.8 51 1 0 -15 -69Z" fill="#eff"/>
<path d="M40 53L72 87L73 40A5.4 17.8 69 1 0 40 53Z" fill="#eff"/><path d="M72 87L73 40A5.4 17.8 69 0 0 55 40Z" fill="#dee"/>
<path d="M50 2L80 -36L84 13A3.9 17.8 -73 1 1 50 2Z" fill="#dff"/><path d="M80 -36L84 13A3.9 17.8 -73 0 1 66 11Z" fill="#bee"/>
<path d="M9 -45L21 -46L12 -29Z" fill="#aff"/><path d="M27 -36L21 -46L12 -29Z" fill="#8ee"/><path d="M28 -21A16.2 17.8 -64 1 0 -4 -37 A16.2 17.8 -64 1 0 28 -21Z" fill="#6cc"/>
<path d="M72 62L79 16L106 53A5.6 17.8 -104 1 1 72 62Z" fill="#fee"/><path d="M79 16L106 53A5.6 17.8 -104 0 1 90 64Z" fill="#edd"/>
<path d="M-74 -18L-80 -65L-43 -35A4.4 17.8 -119 1 1 -74 -18Z" fill="#cff"/><path d="M-80 -65L-43 -35A4.4 17.8 -119 0 1 -56 -22Z" fill="#9ee"/>
<path d="M-2 92L-7 52L27 74A9.5 17.8 -121 1 1 -2 92Z" fill="#eff"/><path d="M-7 52L27 74A9.5 17.8 -121 0 1 18 93Z" fill="#dee"/>
<path d="M14 -0L12 -33L41 -19A12.6 17.8 -124 1 1 14 -0Z" fill="#aff"/><path d="M12 -33L41 -19A12.6 17.8 -124 0 1 38 5Z" fill="#8ee"/>
<path d="M32 32L48 -15L50 32Z" fill="#dff"/><path d="M68 31L48 -15L50 32Z" fill="#bee"/>
<path d="M17 62L17 19L49 48A8.1 17.8 -113 1 1 17 62Z" fill="#fff"/><path d="M17 19L49 48A8.1 17.8 -113 0 1 37 64Z" fill="#eee"/>
<path d="M-65 66L-48 51L-36 69A14.8 17.8 -84 1 1 -65 66Z" fill="#eff"/><path d="M-48 51L-36 69A14.8 17.8 -84 0 1 -53 91Z" fill="#dee"/>
<path d="M-46 42L-25 25L-16 50A14 17.8 -76 1 1 -46 42Z" fill="#eff"/><path d="M-25 25L-16 50A14 17.8 -76 0 1 -36 66Z" fill="#cee"/>
<path d="M19 -22L44 -62L54 -16A5.4 17.8 -81 1 1 19 -22Z" fill="#fff"/><path d="M44 -62L54 -16A5.4 17.8 -81 0 1 36 -13Z" fill="#eee"/>
<path d="M-82 6L-61 -37L-47 9A4.7 17.8 -85 1 1 -82 6Z" fill="#dff"/><path d="M-61 -37L-47 9A4.7 17.8 -85 0 1 -65 12Z" fill="#bee"/>
<path d="M-60 -64L-42 -80L-30 -59A14.5 17.8 -81 1 1 -60 -64Z" fill="#dff"/><path d="M-42 -80L-30 -59A14.5 17.8 -81 0 1 -49 -40Z" fill="#bee"/>
<path d="M-33 88L-17 51L1 87A9.6 17.8 -92 1 1 -33 88Z" fill="#fff"/><path d="M-17 51L1 87A9.6 17.8 -92 0 1 -16 99Z" fill="#eee"/>
<path d="M-71 56L-45 20L-36 64A7.2 17.8 -78 1 1 -71 56Z" fill="#fff"/><path d="M-45 20L-36 64A7.2 17.8 -78 0 1 -55 68Z" fill="#eee"/>
<path d="M-35 42L-35 -5L-2 29A5.1 17.8 -113 1 1 -35 42Z" fill="#cff"/><path d="M-35 -5L-2 29A5.1 17.8 -113 0 1 -16 41Z" fill="#aee"/>
<path d="M-7 64L-5 21L26 52A7.9 17.8 -111 1 1 -7 64Z" fill="#eff"/><path d="M-5 21L26 52A7.9 17.8 -111 0 1 13 67Z" fill="#dee"/>
<path d="M11 4L22 39L-3 14Z" fill="#eff"/><path d="M-13 28L22 39L-3 14Z" fill="#cee"/><path d="M-16 26A11.3 17.8 45 1 0 9 1 A11.3 17.8 45 1 0 -16 26Z" fill="#cff"/>
<path d="M10 -17L-22 -20L-9 10A12.7 17.8 -144 1 0 10 -17Z" fill="#aff"/><path d="M-22 -20L-9 10A12.7 17.8 -144 0 0 15 7Z" fill="#7ee"/>
<path d="M8 24L33 -1L40 33A11.7 17.8 -73 1 1 8 24Z" fill="#eff"/><path d="M33 -1L40 33A11.7 17.8 -73 0 1 20 44Z" fill="#dee"/>
<path d="M56 8A16.9 17.8 -27 1 0 40 -23 A16.9 17.8 -27 1 0 56 8Z" fill="#cff"/>
<path d="M-40 11L-18 -29L-5 15A6.6 17.8 -84 1 1 -40 11Z" fill="#cff"/><path d="M-18 -29L-5 15A6.6 17.8 -84 0 1 -24 21Z" fill="#9ee"/>
</g>
<g transform="translate(2121,714)">
<path d="M-176 71L-185 40L-185 -4L-179 -27L-164 -40L-127 -57L-66 -77L10 -78L64 -75L95 -69L135 -54L183 -28L185 4L185 48L170 84L162 96L116 147L102 160L71 176L-21 190L-52 184L-106 159L-129 141L-145 122Z" fill="#eff"/>
<path d="M-87 -41L4 -55L58 -53L98 -37L131 2L125 25L87 41L-4 55L-58 53L-98 37L-131 -2L-125 -25Z" fill="#c00"/>
<path d="M-51 -86L-35 -50L-34 -88Z" fill="#fee"/><path d="M-17 -85L-35 -50L-34 -88Z" fill="#edd"/><path d="M-52 -89A10.1 17.7 92 1 0 -16 -88 A10.1 17.7 92 1 0 -52 -89Z" fill="#edd"/>
<path d="M26 -49L38 -94L61 -54A5.5 17.7 -97 1 1 26 -49Z" fill="#eff"/><path d="M38 -94L61 -54A5.5 17.7 -97 0 1 44 -45Z" fill="#dee"/>
<path d="M-71 -47L-54 -92L-36 -48A3.7 17.7 -91 1 1 -71 -47Z" fill="#fff"/><path d="M-54 -92L-36 -48A3.7 17.7 -91 0 1 -53 -44Z" fill="#eee"/>
<path d="M32 -59A16.7 17.7 -82 1 0 -3 -64 A16.7 17.7 -82 1 0 32 -59Z" fill="#dff"/>
<path d="M60 -51L77 -91L95 -51A8.1 17.7 -90 1 1 60 -51Z" fill="#fee"/><path d="M77 -91L95 -51A8.1 17.7 -90 0 1 78 -42Z" fill="#ecc"/>
<path d="M-105 -52L-77 -91L-71 -43A4.3 17.7 -75 1 1 -105 -52Z" fill="#fdd"/><path d="M-77 -91L-71 -43A4.3 17.7 -75 0 1 -89 -43Z" fill="#eaa"/>
<path d="M-16 -49L-5 -86L18 -54A10.2 17.7 -99 1 1 -16 -49Z" fill="#fdd"/><path d="M-5 -86L18 -54A10.2 17.7 -99 0 1 3 -39Z" fill="#ebb"/>
<path d="M29 -51L56 -88L63 -42A5.9 17.7 -76 1 1 29 -51Z" fill="#fff"/><path d="M56 -88L63 -42A5.9 17.7 -76 0 1 45 -40Z" fill="#eee"/>
<path d="M79 -47L107 -84L113 -38A5.8 17.7 -75 1 1 79 -47Z" fill="#fff"/><path d="M107 -84L113 -38A5.8 17.7 -75 0 1 94 -36Z" fill="#eee"/>
<path d="M23 -34L23 -79L55 -48A7.1 17.7 -114 1 1 23 -34Z" fill="#fff"/><path d="M23 -79L55 -48A7.1 17.7 -114 0 1 42 -34Z" fill="#eee"/>
<path d="M-37 -42L-33 -84L-4 -53A8.3 17.7 -109 1 1 -37 -42Z" fill="#fee"/><path d="M-33 -84L-4 -53A8.3 17.7 -109 0 1 -17 -38Z" fill="#ecc"/>
<path d="M-76 -44L-43 -78L-43 -31A5.2 17.7 -68 1 1 -76 -44Z" fill="#fdd"/><path d="M-43 -78L-43 -31A5.2 17.7 -68 0 1 -62 -32Z" fill="#ebb"/>
<path d="M56 -41L81 -80L91 -35A5.9 17.7 -81 1 1 56 -41Z" fill="#fff"/><path d="M81 -80L91 -35A5.9 17.7 -81 0 1 72 -32Z" fill="#eee"/>
<path d="M-147 -37L-131 -82L-112 -38A4.4 17.7 -91 1 1 -147 -37Z" fill="#fee"/><path d="M-131 -82L-112 -38A4.4 17.7 -91 0 1 -129 -32Z" fill="#ecc"/>
<path d="M21 -65L-15 -58L17 -41A6.2 12.6 -171 1 0 21 -65Z" fill="#f00"/><path d="M-15 -58L17 -41A6.2 12.6 -171 0 0 26 -52Z" fill="#b00"/>
<path d="M-95 -43L-62 -76L-63 -29A5.4 17.7 -66 1 1 -95 -43Z" fill="#fee"/><path d="M-62 -76L-63 -29A5.4 17.7 -66 0 1 -82 -30Z" fill="#ecc"/>
<path d="M95 -30L115 -73L130 -27A3.5 17.7 -87 1 1 95 -30Z" fill="#eff"/><path d="M115 -73L130 -27A3.5 17.7 -87 0 1 112 -25Z" fill="#cee"/>
<path d="M75 -62L39 -56L70 -38A6.5 12.6 -169 1 0 75 -62Z" fill="#f00"/><path d="M39 -56L70 -38A6.5 12.6 -169 0 0 80 -49Z" fill="#b00"/>
<path d="M-1 -61L-38 -56L-6 -37A6.2 12.6 -168 1 0 -1 -61Z" fill="#f00"/><path d="M-38 -56L-6 -37A6.2 12.6 -168 0 0 3 -47Z" fill="#b00"/>
<path d="M53 -59L15 -52L48 -34A6 12.6 -170 1 0 53 -59Z" fill="#f00"/><path d="M15 -52L48 -34A6 12.6 -170 0 0 57 -45Z" fill="#b00"/>
<path d="M-117 -36L-95 -69L-83 -31A9.9 17.7 -81 1 1 -117 -36Z" fill="#fdd"/><path d="M-95 -69L-83 -31A9.9 17.7 -81 0 1 -102 -21Z" fill="#ecc"/>
<path d="M-138 -37L-113 -60L-106 -27A12 17.7 -72 1 1 -138 -37Z" fill="#fff"/><path d="M-113 -60L-106 -27A12 17.7 -72 0 1 -127 -17Z" fill="#eee"/>
<path d="M-25 -58L-61 -51L-29 -34A6.5 12.6 -171 1 0 -25 -58Z" fill="#f00"/><path d="M-61 -51L-29 -34A6.5 12.6 -171 0 0 -19 -45Z" fill="#b00"/>
<path d="M130 -21L135 -67L164 -30A5.7 17.7 -106 1 1 130 -21Z" fill="#fee"/><path d="M135 -67L164 -30A5.7 17.7 -106 0 1 148 -19Z" fill="#edd"/>
<path d="M73 -31L88 -71L107 -33A8.5 17.7 -93 1 1 73 -31Z" fill="#fee"/><path d="M88 -71L107 -33A8.5 17.7 -93 0 1 91 -22Z" fill="#edd"/>
<path d="M29 -56L-7 -48L26 -31A6.1 12.6 -173 1 0 29 -56Z" fill="#f00"/><path d="M-7 -48L26 -31A6.1 12.6 -173 0 0 35 -43Z" fill="#b00"/>
<path d="M-161 -28L-132 -63L-128 -18A6.6 17.7 -73 1 1 -161 -28Z" fill="#fff"/><path d="M-132 -63L-128 -18A6.6 17.7 -73 0 1 -147 -16Z" fill="#eee"/>
<path d="M-47 -54L-84 -49L-52 -30A6.2 12.6 -169 1 0 -47 -54Z" fill="#f00"/><path d="M-84 -49L-52 -30A6.2 12.6 -169 0 0 -42 -40Z" fill="#b00"/>
<path d="M83 -53L47 -45L80 -29A6.2 12.6 -173 1 0 83 -53Z" fill="#f00"/><path d="M47 -45L80 -29A6.2 12.6 -173 0 0 89 -40Z" fill="#b00"/>
<path d="M7 -51L-30 -46L2 -27A6.1 12.6 -169 1 0 7 -51Z" fill="#f00"/><path d="M-30 -46L2 -27A6.1 12.6 -169 0 0 12 -38Z" fill="#b00"/>
<path d="M-71 -52L-107 -44L-74 -27A6.2 12.6 -173 1 0 -71 -52Z" fill="#f00"/><path d="M-107 -44L-74 -27A6.2 12.6 -173 0 0 -65 -38Z" fill="#b00"/>
<path d="M-180 -34L-164 -58L-148 -33A13.3 17.7 -89 1 1 -180 -34Z" fill="#fff"/><path d="M-164 -58L-148 -33A13.3 17.7 -89 0 1 -165 -14Z" fill="#eee"/>
<path d="M97 -34L131 -65L129 -19A5.9 17.7 -66 1 1 97 -34Z" fill="#fff"/><path d="M131 -65L129 -19A5.9 17.7 -66 0 1 110 -20Z" fill="#eee"/>
<path d="M61 -49L24 -43L56 -25A6.3 12.6 -169 1 0 61 -49Z" fill="#f00"/><path d="M24 -43L56 -25A6.3 12.6 -169 0 0 66 -35Z" fill="#b00"/>
<path d="M-127 -18L-113 -63L-92 -21A5 17.7 -95 1 1 -127 -18Z" fill="#eff"/><path d="M-113 -63L-92 -21A5 17.7 -95 0 1 -109 -14Z" fill="#eee"/>
<path d="M-16 -48L-53 -42L-21 -24A6.3 12.6 -170 1 0 -16 -48Z" fill="#f00"/><path d="M-53 -42L-21 -24A6.3 12.6 -170 0 0 -11 -35Z" fill="#b00"/>
<path d="M-193 19L-185 -25L-176 16Z" fill="#dff"/><path d="M-159 11L-185 -25L-176 16Z" fill="#bee"/><path d="M-159 12A7.2 17.7 -103 1 0 -193 20 A7.2 17.7 -103 1 0 -159 12Z" fill="#799"/>
<path d="M115 -46L78 -41L110 -22A6.1 12.6 -169 1 0 115 -46Z" fill="#f00"/><path d="M78 -41L110 -22A6.1 12.6 -169 0 0 119 -32Z" fill="#b00"/>
<path d="M38 -45L1 -40L33 -21A6.4 12.6 -169 1 0 38 -45Z" fill="#f00"/><path d="M1 -40L33 -21A6.4 12.6 -169 0 0 43 -32Z" fill="#b00"/>
<path d="M-40 -45L-75 -38L-43 -21A6.4 12.6 -171 1 0 -40 -45Z" fill="#f00"/><path d="M-75 -38L-43 -21A6.4 12.6 -171 0 0 -34 -32Z" fill="#b00"/>
<path d="M-152 119L-142 77L-118 113A8.1 17.7 -101 1 1 -152 119Z" fill="#fbb"/><path d="M-142 77L-118 113A8.1 17.7 -101 0 1 -133 126Z" fill="#e88"/>
<path d="M-137 140L-102 109L-105 155A5.3 17.7 -65 1 1 -137 140Z" fill="#fff"/><path d="M-102 109L-105 155A5.3 17.7 -65 0 1 -123 153Z" fill="#eee"/>
<path d="M128 114L138 83L161 107A12.4 17.7 -102 1 1 128 114Z" fill="#fcc"/><path d="M138 83L161 107A12.4 17.7 -102 0 1 148 127Z" fill="#eaa"/>
<path d="M-144 -16L-133 -56L-110 -21A8.8 17.7 -99 1 1 -144 -16Z" fill="#fee"/><path d="M-133 -56L-110 -21A8.8 17.7 -99 0 1 -126 -8Z" fill="#edd"/>
<path d="M-88 179L-86 130L-71 173Z" fill="#cff"/><path d="M-55 167L-86 130L-71 173Z" fill="#9ee"/><path d="M-55 168A2.4 17.7 -109 1 0 -88 179 A2.4 17.7 -109 1 0 -55 168Z" fill="#599"/>
<path d="M92 -43L55 -37L88 -18A5.9 12.6 -169 1 0 92 -43Z" fill="#f00"/><path d="M55 -37L88 -18A5.9 12.6 -169 0 0 97 -29Z" fill="#b00"/>
<path d="M131 -25L155 -56L164 -17A9.9 17.7 -77 1 1 131 -25Z" fill="#fbb"/><path d="M155 -56L164 -17A9.9 17.7 -77 0 1 145 -9Z" fill="#e77"/>
<path d="M98 112L130 77L131 125A4.3 17.7 -69 1 1 98 112Z" fill="#fff"/><path d="M130 77L131 125A4.3 17.7 -69 0 1 113 123Z" fill="#eee"/>
<path d="M-180 -19L-145 -54L-164 -12Z" fill="#eff"/><path d="M-148 -5L-145 -54L-164 -12Z" fill="#cee"/><path d="M-148 -5A1.9 17.7 -66 1 0 -180 -19 A1.9 17.7 -66 1 0 -148 -5Z" fill="#799"/>
<path d="M15 -42L-22 -36L11 -17A6 12.6 -169 1 0 15 -42Z" fill="#f00"/><path d="M-22 -36L11 -17A6 12.6 -169 0 0 20 -28Z" fill="#b00"/>
<path d="M-62 -41L-98 -35L-66 -17A6.1 12.6 -170 1 0 -62 -41Z" fill="#f00"/><path d="M-98 -35L-66 -17A6.1 12.6 -170 0 0 -57 -28Z" fill="#b00"/>
<path d="M-188 71L-171 26L-153 71A3.9 17.7 -90 1 1 -188 71Z" fill="#eff"/><path d="M-171 26L-153 71A3.9 17.7 -90 0 1 -171 75Z" fill="#cee"/>
<path d="M-167 110L-178 61L-138 90A0.6 17.7 -124 1 1 -167 110Z" fill="#eff"/><path d="M-178 61L-138 90A0.6 17.7 -124 0 1 -152 100Z" fill="#cee"/>
<path d="M116 -14L124 -59L150 -22A6.3 17.7 -102 1 1 116 -14Z" fill="#fdd"/><path d="M124 -59L150 -22A6.3 17.7 -102 0 1 135 -11Z" fill="#ebb"/>
<path d="M126 92L145 55L160 93A9.2 17.7 -88 1 1 126 92Z" fill="#fbb"/><path d="M145 55L160 93A9.2 17.7 -88 0 1 143 104Z" fill="#e77"/>
<path d="M69 -39L33 -34L64 -15A6.6 12.6 -169 1 0 69 -39Z" fill="#f00"/><path d="M33 -34L64 -15A6.6 12.6 -169 0 0 74 -26Z" fill="#b00"/>
<path d="M-9 -40L-44 -31L-11 -15A6.3 12.6 -173 1 0 -9 -40Z" fill="#f00"/><path d="M-44 -31L-11 -15A6.3 12.6 -173 0 0 -3 -26Z" fill="#b00"/>
<path d="M-121 124L-104 85L-87 124A8 17.7 -90 1 1 -121 124Z" fill="#fff"/><path d="M-104 85L-87 124A8 17.7 -90 0 1 -104 134Z" fill="#eee"/>
<path d="M-85 158L-90 116L-55 140A8.4 17.7 -121 1 1 -85 158Z" fill="#eff"/><path d="M-90 116L-55 140A8.4 17.7 -121 0 1 -65 158Z" fill="#cee"/>
<path d="M-85 -38L-121 -31L-89 -13A6.4 12.6 -171 1 0 -85 -38Z" fill="#f00"/><path d="M-121 -31L-89 -13A6.4 12.6 -171 0 0 -80 -25Z" fill="#b00"/>
<path d="M122 -38L86 -30L119 -13A6.3 12.6 -172 1 0 122 -38Z" fill="#f00"/><path d="M86 -30L119 -13A6.3 12.6 -172 0 0 128 -24Z" fill="#b00"/>
<path d="M170 -21L173 -46L196 -36A14.3 17.7 -119 1 1 170 -21Z" fill="#fdd"/><path d="M173 -46L196 -36A14.3 17.7 -119 0 1 194 -9Z" fill="#eaa"/>
<path d="M-190 -6L-185 -52L-157 -16A6.4 17.7 -106 1 1 -190 -6Z" fill="#fff"/><path d="M-185 -52L-157 -16A6.4 17.7 -106 0 1 -172 -4Z" fill="#eee"/>
<path d="M46 -36L10 -30L42 -12A6.4 12.6 -171 1 0 46 -36Z" fill="#f00"/><path d="M10 -30L42 -12A6.4 12.6 -171 0 0 51 -23Z" fill="#b00"/>
<path d="M4 187L-2 138L19 179Z" fill="#aff"/><path d="M35 171L-2 138L19 179Z" fill="#8ee"/><path d="M35 171A1.6 17.7 -118 1 0 4 187 A1.6 17.7 -118 1 0 35 171Z" fill="#599"/>
<path d="M-31 -35L-67 -28L-35 -11A6.4 12.6 -171 1 0 -31 -35Z" fill="#f00"/><path d="M-67 -28L-35 -11A6.4 12.6 -171 0 0 -26 -22Z" fill="#b00"/>
<path d="M-96 163L-48 152L-87 178Z" fill="#9ff"/><path d="M-76 192L-48 152L-87 178Z" fill="#7ee"/>
<path d="M142 -9L157 -51L177 -11A6.9 17.7 -93 1 1 142 -9Z" fill="#fcc"/><path d="M157 -51L177 -11A6.9 17.7 -93 0 1 159 -2Z" fill="#e99"/>
<path d="M-165 -40L-146 5L-147 -40Z" fill="#eff"/><path d="M-130 -41L-146 5L-147 -40Z" fill="#cee"/><path d="M-165 -40A3 17.7 88 1 0 -130 -41 A3 17.7 88 1 0 -165 -40Z" fill="#bdd"/>
<path d="M-108 -34L-144 -28L-112 -10A6.5 12.6 -170 1 0 -108 -34Z" fill="#f00"/><path d="M-144 -28L-112 -10A6.5 12.6 -170 0 0 -102 -21Z" fill="#b00"/>
<path d="M-190 20L-169 -21L-155 23A6.5 17.7 -85 1 1 -190 20Z" fill="#eff"/><path d="M-169 -21L-155 23A6.5 17.7 -85 0 1 -173 29Z" fill="#dee"/>
<path d="M-169 50A16.5 17.7 6 1 0 -165 14 A16.5 17.7 6 1 0 -169 50Z" fill="#ebb"/>
<path d="M-143 111L-130 64L-107 107A1.3 17.7 -97 1 1 -143 111Z" fill="#fff"/><path d="M-130 64L-107 107A1.3 17.7 -97 0 1 -125 111Z" fill="#eee"/>
<path d="M100 -34L64 -26L96 -9A6.3 12.6 -172 1 0 100 -34Z" fill="#f00"/><path d="M64 -26L96 -9A6.3 12.6 -172 0 0 105 -21Z" fill="#b00"/>
<path d="M113 127L130 81L148 127A1.2 17.7 -90 1 1 113 127Z" fill="#fff"/><path d="M130 81L148 127A1.2 17.7 -90 0 1 130 128Z" fill="#eee"/>
<path d="M127 -39L130 -2L144 -35Z" fill="#fcc"/><path d="M158 -25L130 -2L144 -35Z" fill="#eaa"/><path d="M128 -42A11 17.7 113 1 0 161 -28 A11 17.7 113 1 0 128 -42Z" fill="#d99"/>
<path d="M23 -33L-13 -26L19 -8A6.2 12.6 -171 1 0 23 -33Z" fill="#f00"/><path d="M-13 -26L19 -8A6.2 12.6 -171 0 0 28 -19Z" fill="#b00"/>
<path d="M-53 -31L-90 -26L-58 -7A5.8 12.6 -168 1 0 -53 -31Z" fill="#f00"/><path d="M-90 -26L-58 -7A5.8 12.6 -168 0 0 -49 -17Z" fill="#b00"/>
<path d="M70 164L87 119L105 164A2.6 17.7 -90 1 1 70 164Z" fill="#dff"/><path d="M87 119L105 164A2.6 17.7 -90 0 1 87 167Z" fill="#bee"/>
<path d="M78 -30L40 -23L74 -5A5.8 12.6 -171 1 0 78 -30Z" fill="#f00"/><path d="M40 -23L74 -5A5.8 12.6 -171 0 0 82 -17Z" fill="#b00"/>
<path d="M-86 161L-70 116L-51 160A3.8 17.7 -92 1 1 -86 161Z" fill="#cff"/><path d="M-70 116L-51 160A3.8 17.7 -92 0 1 -68 164Z" fill="#aee"/>
<path d="M-195 -4L-163 -41L-162 8A2 17.7 -70 1 1 -195 -4Z" fill="#dff"/><path d="M-163 -41L-162 8A2 17.7 -70 0 1 -179 4Z" fill="#bee"/>
<path d="M0 -30L-36 -22L-3 -5A6 12.6 -173 1 0 0 -30Z" fill="#f00"/><path d="M-36 -22L-3 -5A6 12.6 -173 0 0 6 -16Z" fill="#b00"/>
<path d="M-162 111L-160 66L-129 99A7 17.7 -110 1 1 -162 111Z" fill="#fee"/><path d="M-160 66L-129 99A7 17.7 -110 0 1 -143 112Z" fill="#edd"/>
<path d="M-76 -28L-113 -22L-81 -3A6.2 12.6 -170 1 0 -76 -28Z" fill="#f00"/><path d="M-113 -22L-81 -3A6.2 12.6 -170 0 0 -71 -14Z" fill="#b00"/>
<path d="M153 63L180 41L184 75A11.9 17.7 -68 1 1 153 63Z" fill="#fbb"/><path d="M180 41L184 75A11.9 17.7 -68 0 1 163 84Z" fill="#e77"/>
<path d="M131 -27L95 -21L127 -3A6.3 12.6 -171 1 0 131 -27Z" fill="#f00"/><path d="M95 -21L127 -3A6.3 12.6 -171 0 0 136 -14Z" fill="#b00"/>
<path d="M133 80L160 42L167 88A5 17.7 -77 1 1 133 80Z" fill="#fff"/><path d="M160 42L167 88A5 17.7 -77 0 1 149 90Z" fill="#eee"/>
<path d="M55 -26L18 -20L50 -2A6 12.6 -169 1 0 55 -26Z" fill="#f00"/><path d="M18 -20L50 -2A6 12.6 -169 0 0 59 -13Z" fill="#b00"/>
<path d="M157 -6L170 -34L189 -10A13 17.7 -97 1 1 157 -6Z" fill="#fdd"/><path d="M170 -34L189 -10A13 17.7 -97 0 1 176 10Z" fill="#eaa"/>
<path d="M166 61L171 14L200 51A5 17.7 -106 1 1 166 61Z" fill="#fff"/><path d="M171 14L200 51A5 17.7 -106 0 1 185 62Z" fill="#eee"/>
<path d="M-23 -26L-59 -18L-26 -1A6.1 12.6 -173 1 0 -23 -26Z" fill="#f00"/><path d="M-59 -18L-26 -1A6.1 12.6 -173 0 0 -17 -13Z" fill="#b00"/>
<path d="M-99 -25L-136 -18L-103 -0A6.2 12.6 -170 1 0 -99 -25Z" fill="#f00"/><path d="M-136 -18L-103 -0A6.2 12.6 -170 0 0 -94 -11Z" fill="#b00"/>
<path d="M-194 60L-199 18L-165 42A8.9 17.7 -120 1 1 -194 60Z" fill="#eff"/><path d="M-199 18L-165 42A8.9 17.7 -120 0 1 -174 60Z" fill="#cee"/>
<path d="M109 -24L71 -17L105 1A5.8 12.6 -172 1 0 109 -24Z" fill="#f00"/><path d="M71 -17L105 1A5.8 12.6 -172 0 0 113 -11Z" fill="#b00"/>
<path d="M32 -22L-5 -17L27 2A6.2 12.6 -168 1 0 32 -22Z" fill="#f00"/><path d="M-5 -17L27 2A6.2 12.6 -168 0 0 36 -9Z" fill="#b00"/>
<path d="M-160 137L-137 102L-126 142A8.9 17.7 -81 1 1 -160 137Z" fill="#fff"/><path d="M-137 102L-126 142A8.9 17.7 -81 0 1 -145 151Z" fill="#eee"/>
<path d="M120 6L150 -34L138 11Z" fill="#fdd"/><path d="M155 15L150 -34L138 11Z" fill="#eaa"/>
<path d="M-40 168L-77 160L-62 194A10.8 17.7 -141 1 0 -40 168Z" fill="#9ff"/><path d="M-77 160L-62 194A10.8 17.7 -141 0 0 -40 190Z" fill="#7ee"/>
<path d="M149 114L161 73L184 109A8.1 17.7 -98 1 1 149 114Z" fill="#fff"/><path d="M161 73L184 109A8.1 17.7 -98 0 1 168 121Z" fill="#eee"/>
<path d="M-129 118L-114 143L-113 113Z" fill="#eff"/><path d="M-97 120L-114 143L-113 113Z" fill="#dee"/><path d="M-130 112A13.5 17.7 92 1 0 -95 114 A13.5 17.7 92 1 0 -130 112Z" fill="#dee"/>
<path d="M25 194L55 156L41 199Z" fill="#aff"/><path d="M58 204L55 156L41 199Z" fill="#8ee"/><path d="M58 204A3.1 17.7 -73 1 0 24 194 A3.1 17.7 -73 1 0 58 204Z" fill="#599"/>
<path d="M-155 5L-134 -38L-120 8A3.4 17.7 -84 1 1 -155 5Z" fill="#fee"/><path d="M-134 -38L-120 8A3.4 17.7 -84 0 1 -138 10Z" fill="#ecc"/>
<path d="M-45 -22L-82 -15L-49 2A5.9 12.6 -171 1 0 -45 -22Z" fill="#f00"/><path d="M-82 -15L-49 2A5.9 12.6 -171 0 0 -40 -9Z" fill="#b00"/>
<path d="M-129 174L-127 125L-112 169Z" fill="#cff"/><path d="M-96 163L-127 125L-112 169Z" fill="#9ee"/>
<path d="M-175 83L-164 48L-142 77A11.2 17.7 -101 1 1 -175 83Z" fill="#fff"/><path d="M-164 48L-142 77A11.2 17.7 -101 0 1 -156 95Z" fill="#eee"/>
<path d="M49 181L72 159L80 190A12.5 17.7 -74 1 1 49 181Z" fill="#cff"/><path d="M72 159L80 190A12.5 17.7 -74 0 1 60 202Z" fill="#9ee"/>
<path d="M85 -21L49 -14L81 4A6.6 12.6 -171 1 0 85 -21Z" fill="#f00"/><path d="M49 -14L81 4A6.6 12.6 -171 0 0 91 -7Z" fill="#b00"/>
<path d="M-197 82L-171 43L-163 90A4.3 17.7 -78 1 1 -197 82Z" fill="#fff"/><path d="M-171 43L-163 90A4.3 17.7 -78 0 1 -181 91Z" fill="#eee"/>
<path d="M9 -19L-28 -13L5 5A5.8 12.6 -171 1 0 9 -19Z" fill="#f00"/><path d="M-28 -13L5 5A5.8 12.6 -171 0 0 14 -6Z" fill="#b00"/>
<path d="M100 134L127 105L132 144A10 17.7 -72 1 1 100 134Z" fill="#eff"/><path d="M127 105L132 144A10 17.7 -72 0 1 112 151Z" fill="#dee"/>
<path d="M-185 2L-150 -31L-153 17A3.8 17.7 -65 1 1 -185 2Z" fill="#dff"/><path d="M-150 -31L-153 17A3.8 17.7 -65 0 1 -170 13Z" fill="#aee"/>
<path d="M-47 200L-23 157L-30 202Z" fill="#aff"/><path d="M-12 204L-23 157L-30 202Z" fill="#7ee"/><path d="M-12 205A2.5 17.7 -82 1 0 -47 200 A2.5 17.7 -82 1 0 -12 205Z" fill="#499"/>
<path d="M-68 -19L-105 -12L-72 6A6.2 12.6 -171 1 0 -68 -19Z" fill="#f00"/><path d="M-105 -12L-72 6A6.2 12.6 -171 0 0 -63 -5Z" fill="#b00"/>
<path d="M72 150L104 136L99 171A11.7 17.7 -52 1 1 72 150Z" fill="#cff"/><path d="M104 136L99 171A11.7 17.7 -52 0 1 76 173Z" fill="#9ee"/>
<path d="M-198 41L-193 -6L-164 32A4.5 17.7 -105 1 1 -198 41Z" fill="#cff"/><path d="M-193 -6L-164 32A4.5 17.7 -105 0 1 -180 42Z" fill="#aee"/>
<path d="M52 175L63 127L87 171A0.9 17.7 -97 1 1 52 175Z" fill="#9ff"/><path d="M63 127L87 171A0.9 17.7 -97 0 1 69 174Z" fill="#6ee"/>
<path d="M144 90L174 51L179 100A2.4 17.7 -74 1 1 144 90Z" fill="#eff"/><path d="M174 51L179 100A2.4 17.7 -74 0 1 161 97Z" fill="#dee"/>
<path d="M-164 111L-133 75L-131 122A4.3 17.7 -71 1 1 -164 111Z" fill="#fee"/><path d="M-133 75L-131 122A4.3 17.7 -71 0 1 -149 121Z" fill="#edd"/>
<path d="M140 -17L103 -12L135 7A6.2 12.6 -169 1 0 140 -17Z" fill="#f00"/><path d="M103 -12L135 7A6.2 12.6 -169 0 0 144 -4Z" fill="#b00"/>
<path d="M-87 126L-64 169L-99 140Z" fill="#aff"/><path d="M-110 153L-64 169L-99 140Z" fill="#8ee"/><path d="M-110 153A3.1 17.7 40 1 0 -87 126 A3.1 17.7 40 1 0 -110 153Z" fill="#8ee"/>
<path d="M15 203L19 161L32 199Z" fill="#8ff"/><path d="M48 192L19 161L32 199Z" fill="#5ee"/><path d="M49 194A8.2 17.7 -109 1 0 15 205 A8.2 17.7 -109 1 0 49 194Z" fill="#399"/>
<path d="M117 114L141 79L151 120A8.2 17.7 -81 1 1 117 114Z" fill="#fff"/><path d="M141 79L151 120A8.2 17.7 -81 0 1 133 127Z" fill="#eee"/>
<path d="M-89 147L-45 134L-67 175A5.6 17.7 -39 1 1 -89 147Z" fill="#aff"/><path d="M-45 134L-67 175A5.6 17.7 -39 0 1 -83 165Z" fill="#8ee"/>
<path d="M63 -17L26 -10L58 8A6.1 12.6 -170 1 0 63 -17Z" fill="#f00"/><path d="M26 -10L58 8A6.1 12.6 -170 0 0 68 -3Z" fill="#b00"/>
<path d="M-202 39L-154 36L-188 71A3.5 17.7 -24 1 1 -202 39Z" fill="#dff"/><path d="M-154 36L-188 71A3.5 17.7 -24 0 1 -198 56Z" fill="#bee"/>
<path d="M-15 -16L-50 -9L-19 8A6.5 12.6 -171 1 0 -15 -16Z" fill="#f00"/><path d="M-50 -9L-19 8A6.5 12.6 -171 0 0 -9 -3Z" fill="#b00"/>
<path d="M-91 -15L-127 -9L-96 10A6.5 12.6 -170 1 0 -91 -15Z" fill="#f00"/><path d="M-127 -9L-96 10A6.5 12.6 -170 0 0 -86 -1Z" fill="#b00"/>
<path d="M-201 1L-182 -18L-170 7A13.9 17.7 -80 1 1 -201 1Z" fill="#eff"/><path d="M-182 -18L-170 7A13.9 17.7 -80 0 1 -189 24Z" fill="#cee"/>
<path d="M-153 155L-145 108L-119 148A3.4 17.7 -102 1 1 -153 155Z" fill="#fcc"/><path d="M-145 108L-119 148A3.4 17.7 -102 0 1 -135 155Z" fill="#e99"/>
<path d="M117 -15L80 -7L113 10A5.9 12.6 -172 1 0 117 -15Z" fill="#f00"/><path d="M80 -7L113 10A5.9 12.6 -172 0 0 122 -1Z" fill="#b00"/>
<path d="M155 1L184 -31L188 11A8.1 17.7 -72 1 1 155 1Z" fill="#fdd"/><path d="M184 -31L188 11A8.1 17.7 -72 0 1 168 15Z" fill="#ebb"/>
<path d="M167 52L192 28L199 62A11.9 17.7 -72 1 1 167 52Z" fill="#fff"/><path d="M192 28L199 62A11.9 17.7 -72 0 1 178 72Z" fill="#eee"/>
<path d="M-77 178L-29 164L-55 206A1 17.7 -38 1 1 -77 178Z" fill="#9ff"/><path d="M-29 164L-55 206A1 17.7 -38 0 1 -67 193Z" fill="#6ee"/>
<path d="M40 -13L3 -7L36 11A5.6 12.6 -170 1 0 40 -13Z" fill="#f00"/><path d="M3 -7L36 11A5.6 12.6 -170 0 0 45 0Z" fill="#b00"/>
<path d="M109 153L124 115L126 154Z" fill="#dff"/><path d="M143 150L124 115L126 154Z" fill="#bee"/><path d="M144 153A9.5 17.7 -94 1 0 109 155 A9.5 17.7 -94 1 0 144 153Z" fill="#799"/>
<path d="M-156 102L-149 55L-122 94A4.3 17.7 -103 1 1 -156 102Z" fill="#fff"/><path d="M-149 55L-122 94A4.3 17.7 -103 0 1 -138 103Z" fill="#eee"/>
<path d="M137 15L158 -27L173 18A5.2 17.7 -86 1 1 137 15Z" fill="#fff"/><path d="M158 -27L173 18A5.2 17.7 -86 0 1 155 22Z" fill="#eee"/>
<path d="M-37 -12L-73 -6L-42 12A6.3 12.6 -169 1 0 -37 -12Z" fill="#f00"/><path d="M-73 -6L-42 12A6.3 12.6 -169 0 0 -32 1Z" fill="#b00"/>
<path d="M165 44L188 2L200 49A4.2 17.7 -83 1 1 165 44Z" fill="#fff"/><path d="M188 2L200 49A4.2 17.7 -83 0 1 182 51Z" fill="#eee"/>
<path d="M-28 213L-31 166L-12 205Z" fill="#aff"/><path d="M4 197L-31 166L-12 205Z" fill="#7ee"/><path d="M4 197A5.6 17.7 -117 1 0 -27 214 A5.6 17.7 -117 1 0 4 197Z" fill="#499"/>
<path d="M-188 63L-170 103L-170 62Z" fill="#fff"/><path d="M-153 63L-170 103L-170 62Z" fill="#eee"/><path d="M-188 62A7.8 17.7 90 1 0 -153 62 A7.8 17.7 90 1 0 -188 62Z" fill="#eee"/>
<path d="M-119 181L-110 137L-85 175A6.9 17.7 -101 1 1 -119 181Z" fill="#9ff"/><path d="M-110 137L-85 175A6.9 17.7 -101 0 1 -100 186Z" fill="#6ee"/>
<path d="M-114 -11L-150 -5L-118 13A6.5 12.6 -170 1 0 -114 -11Z" fill="#f00"/><path d="M-150 -5L-118 13A6.5 12.6 -170 0 0 -109 2Z" fill="#b00"/>
<path d="M152 73L159 27L186 65A5.4 17.7 -104 1 1 152 73Z" fill="#eff"/><path d="M159 27L186 65A5.4 17.7 -104 0 1 170 75Z" fill="#eee"/>
<path d="M93 -11L58 -4L89 14A6.6 12.6 -171 1 0 93 -11Z" fill="#f00"/><path d="M58 -4L89 14A6.6 12.6 -171 0 0 99 2Z" fill="#b00"/>
<path d="M-16 205L9 167L19 211A6.8 17.7 -79 1 1 -16 205Z" fill="#cff"/><path d="M9 167L19 211A6.8 17.7 -79 0 1 0 216Z" fill="#9ee"/>
<path d="M-158 121L-132 82L-124 128A5.1 17.7 -78 1 1 -158 121Z" fill="#fff"/><path d="M-132 82L-124 128A5.1 17.7 -78 0 1 -142 130Z" fill="#eee"/>
<path d="M27 171L46 137L61 172A10.6 17.7 -88 1 1 27 171Z" fill="#aff"/><path d="M46 137L61 172A10.6 17.7 -88 0 1 44 185Z" fill="#8ee"/>
<path d="M7 172L31 134L42 177A7 17.7 -81 1 1 7 172Z" fill="#8ff"/><path d="M31 134L42 177A7 17.7 -81 0 1 23 182Z" fill="#5ee"/>
<path d="M17 -10L-19 -3L13 14A6.4 12.6 -172 1 0 17 -10Z" fill="#f00"/><path d="M-19 -3L13 14A6.4 12.6 -172 0 0 22 3Z" fill="#b00"/>
<path d="M86 156L111 150L110 176A14 17.7 -50 1 1 86 156Z" fill="#aff"/><path d="M111 150L110 176A14 17.7 -50 0 1 84 182Z" fill="#8ee"/>
<path d="M109 100L123 136L126 99Z" fill="#fff"/><path d="M143 103L123 136L126 99Z" fill="#eee"/><path d="M108 97A10.6 17.7 95 1 0 144 100 A10.6 17.7 95 1 0 108 97Z" fill="#edd"/>
<path d="M-60 -9L-96 -3L-64 16A6.2 12.6 -169 1 0 -60 -9Z" fill="#f00"/><path d="M-96 -3L-64 16A6.2 12.6 -169 0 0 -55 5Z" fill="#b00"/>
<path d="M-70 173L-42 135L-35 181A4.8 17.7 -77 1 1 -70 173Z" fill="#eff"/><path d="M-42 135L-35 181A4.8 17.7 -77 0 1 -54 183Z" fill="#cee"/>
<path d="M148 -8L111 -2L143 17A6.2 12.6 -169 1 0 148 -8Z" fill="#f00"/><path d="M111 -2L143 17A6.2 12.6 -169 0 0 153 6Z" fill="#b00"/>
<path d="M-189 45L-177 5L-155 40A8.7 17.7 -98 1 1 -189 45Z" fill="#eff"/><path d="M-177 5L-155 40A8.7 17.7 -98 0 1 -171 53Z" fill="#cee"/>
<path d="M138 133L136 93L168 117A9.5 17.7 -118 1 1 138 133Z" fill="#eff"/><path d="M136 93L168 117A9.5 17.7 -118 0 1 159 136Z" fill="#dee"/>
<path d="M71 -7L35 -0L67 17A6.3 12.6 -171 1 0 71 -7Z" fill="#f00"/><path d="M35 -0L67 17A6.3 12.6 -171 0 0 76 6Z" fill="#b00"/>
<path d="M68 185L66 142L99 169A8.6 17.7 -116 1 1 68 185Z" fill="#7ff"/><path d="M66 142L99 169A8.6 17.7 -116 0 1 88 186Z" fill="#4ee"/>
<path d="M168 25L181 -18L203 21A7 17.7 -96 1 1 168 25Z" fill="#fee"/><path d="M181 -18L203 21A7 17.7 -96 0 1 186 31Z" fill="#edd"/>
<path d="M154 99L165 62L187 94A10 17.7 -100 1 1 154 99Z" fill="#fff"/><path d="M165 62L187 94A10 17.7 -100 0 1 172 109Z" fill="#eee"/>
<path d="M-125 157L-105 116L-90 159A6.3 17.7 -87 1 1 -125 157Z" fill="#dff"/><path d="M-105 116L-90 159A6.3 17.7 -87 0 1 -108 165Z" fill="#bee"/>
<path d="M145 45L162 13L178 45A11.3 17.7 -90 1 1 145 45Z" fill="#fff"/><path d="M162 13L178 45A11.3 17.7 -90 0 1 162 60Z" fill="#eee"/>
<path d="M-6 -7L-42 1L-10 18A6.2 12.6 -172 1 0 -6 -7Z" fill="#f00"/><path d="M-42 1L-10 18A6.2 12.6 -172 0 0 -1 7Z" fill="#b00"/>
<path d="M127 93L162 65L158 110A7.1 17.7 -62 1 1 127 93Z" fill="#fff"/><path d="M162 65L158 110A7.1 17.7 -62 0 1 138 109Z" fill="#eee"/>
<path d="M-83 184L-78 141L-50 174A8.2 17.7 -107 1 1 -83 184Z" fill="#aff"/><path d="M-78 141L-50 174A8.2 17.7 -107 0 1 -64 188Z" fill="#7ee"/>
<path d="M-176 8L-150 -18L-144 19A11 17.7 -72 1 1 -176 8Z" fill="#dff"/><path d="M-150 -18L-144 19A11 17.7 -72 0 1 -164 27Z" fill="#bee"/>
<path d="M72 142L30 167L75 159Z" fill="#9ff"/><path d="M79 176L30 167L75 159Z" fill="#6ee"/>
<path d="M-83 -6L-119 1L-87 19A6.3 12.6 -171 1 0 -83 -6Z" fill="#f00"/><path d="M-119 1L-87 19A6.3 12.6 -171 0 0 -78 8Z" fill="#b00"/>
<path d="M86 143L101 115L118 142A12.7 17.7 -93 1 1 86 143Z" fill="#fdd"/><path d="M101 115L118 142A12.7 17.7 -93 0 1 103 160Z" fill="#ebb"/>
<path d="M125 -4L89 2L120 20A6.4 12.6 -170 1 0 125 -4Z" fill="#f00"/><path d="M89 2L120 20A6.4 12.6 -170 0 0 130 9Z" fill="#b00"/>
<path d="M-16 179L-8 154L14 170A14.1 17.7 -108 1 1 -16 179Z" fill="#aff"/><path d="M-8 154L14 170A14.1 17.7 -108 0 1 6 194Z" fill="#8ee"/>
<path d="M-32 188L-25 146L2 180A8 17.7 -104 1 1 -32 188Z" fill="#8ff"/><path d="M-25 146L2 180A8 17.7 -104 0 1 -12 193Z" fill="#5ee"/>
<path d="M49 -3L12 2L43 22A6.2 12.6 -167 1 0 49 -3Z" fill="#f00"/><path d="M12 2L43 22A6.2 12.6 -167 0 0 53 11Z" fill="#b00"/>
<path d="M-184 75L-179 33L-151 65A8.3 17.7 -107 1 1 -184 75Z" fill="#fff"/><path d="M-179 33L-151 65A8.3 17.7 -107 0 1 -165 80Z" fill="#eee"/>
<path d="M-187 23L-185 -18L-155 11A8.8 17.7 -111 1 1 -187 23Z" fill="#dff"/><path d="M-185 -18L-155 11A8.8 17.7 -111 0 1 -167 27Z" fill="#bee"/>
<path d="M-28 -2L-65 3L-34 22A6.3 12.6 -168 1 0 -28 -2Z" fill="#f00"/><path d="M-65 3L-34 22A6.3 12.6 -168 0 0 -24 12Z" fill="#b00"/>
<path d="M52 157L80 118L87 166A3.7 17.7 -77 1 1 52 157Z" fill="#dff"/><path d="M80 118L87 166A3.7 17.7 -77 0 1 68 165Z" fill="#aee"/>
<path d="M-106 -2L-142 5L-109 22A6 12.6 -172 1 0 -106 -2Z" fill="#f00"/><path d="M-142 5L-109 22A6 12.6 -172 0 0 -100 11Z" fill="#b00"/>
<path d="M-149 109L-141 63L-115 102A5.5 17.7 -102 1 1 -149 109Z" fill="#fff"/><path d="M-141 63L-115 102A5.5 17.7 -102 0 1 -130 111Z" fill="#eee"/>
<path d="M-85 161L-80 118L-52 152A7.5 17.7 -106 1 1 -85 161Z" fill="#cff"/><path d="M-80 118L-52 152A7.5 17.7 -106 0 1 -66 165Z" fill="#9ee"/>
<path d="M-138 157L-129 123L-106 150A11.4 17.7 -103 1 1 -138 157Z" fill="#dff"/><path d="M-129 123L-106 150A11.4 17.7 -103 0 1 -119 168Z" fill="#bee"/>
<path d="M102 -2L66 6L98 23A6.3 12.6 -173 1 0 102 -2Z" fill="#f00"/><path d="M66 6L98 23A6.3 12.6 -173 0 0 107 12Z" fill="#b00"/>
<path d="M32 192L25 151L61 173A9.1 17.7 -124 1 1 32 192Z" fill="#8ff"/><path d="M25 151L61 173A9.1 17.7 -124 0 1 52 192Z" fill="#6ee"/>
<path d="M25 -0L-11 7L22 24A6.1 12.6 -171 1 0 25 -0Z" fill="#f00"/><path d="M-11 7L22 24A6.1 12.6 -171 0 0 30 13Z" fill="#b00"/>
<path d="M160 75L164 44L190 63A12.8 17.7 -112 1 1 160 75Z" fill="#fff"/><path d="M164 44L190 63A12.8 17.7 -112 0 1 182 85Z" fill="#eee"/>
<path d="M-60 192L-44 148L-25 191A5.2 17.7 -91 1 1 -60 192Z" fill="#aff"/><path d="M-44 148L-25 191A5.2 17.7 -91 0 1 -42 197Z" fill="#8ee"/>
<path d="M148 20L167 -13L182 22A10.5 17.7 -86 1 1 148 20Z" fill="#fff"/><path d="M167 -13L182 22A10.5 17.7 -86 0 1 165 35Z" fill="#eee"/>
<path d="M155 54L169 10L190 51A5.9 17.7 -95 1 1 155 54Z" fill="#fff"/><path d="M169 10L190 51A5.9 17.7 -95 0 1 173 59Z" fill="#eee"/>
<path d="M-52 0L-88 8L-55 25A6.2 12.6 -172 1 0 -52 0Z" fill="#f00"/><path d="M-88 8L-55 25A6.2 12.6 -172 0 0 -46 14Z" fill="#b00"/>
<path d="M124 30L132 -7L157 21A10.6 17.7 -104 1 1 124 30Z" fill="#fff"/><path d="M132 -7L157 21A10.6 17.7 -104 0 1 144 39Z" fill="#eee"/>
<path d="M-119 161L-89 122L-102 166Z" fill="#cff"/><path d="M-85 171L-89 122L-102 166Z" fill="#9ee"/><path d="M-85 171A2.5 17.7 -74 1 0 -119 161 A2.5 17.7 -74 1 0 -85 171Z" fill="#599"/>
<path d="M-182 27L-151 29L-167 56A12.9 17.7 -29 1 1 -182 27Z" fill="#dff"/><path d="M-151 29L-167 56A12.9 17.7 -29 0 1 -190 50Z" fill="#bee"/>
<path d="M-72 151L-38 187L-80 167Z" fill="#9ff"/><path d="M-87 183L-38 187L-80 167Z" fill="#7ee"/><path d="M-87 183A1.9 17.7 25 1 0 -72 151 A1.9 17.7 25 1 0 -87 183Z" fill="#6dd"/>
<path d="M-151 130L-125 98L-117 138A9.3 17.7 -76 1 1 -151 130Z" fill="#fff"/><path d="M-125 98L-117 138A9.3 17.7 -76 0 1 -137 145Z" fill="#eee"/>
<path d="M-171 105L-161 74L-139 98A12.5 17.7 -103 1 1 -171 105Z" fill="#fbb"/><path d="M-161 74L-139 98A12.5 17.7 -103 0 1 -151 118Z" fill="#e88"/>
<path d="M81 140L103 153L76 156Z" fill="#aff"/><path d="M85 170L103 153L76 156Z" fill="#8ee"/><path d="M78 174A14.4 17.7 -7 1 0 74 138 A14.4 17.7 -7 1 0 78 174Z" fill="#8ee"/>
<path d="M-157 29L-149 -10L-123 21A9.6 17.7 -104 1 1 -157 29Z" fill="#dff"/><path d="M-149 -10L-123 21A9.6 17.7 -104 0 1 -137 37Z" fill="#aee"/>
<path d="M111 132L145 97L144 146A3.7 17.7 -67 1 1 111 132Z" fill="#eff"/><path d="M145 97L144 146A3.7 17.7 -67 0 1 126 143Z" fill="#cee"/>
<path d="M132 75L153 48L165 80A12.1 17.7 -82 1 1 132 75Z" fill="#fff"/><path d="M153 48L165 80A12.1 17.7 -82 0 1 146 94Z" fill="#eee"/>
<path d="M86 163L113 124L120 171A4 17.7 -76 1 1 86 163Z" fill="#9ff"/><path d="M113 124L120 171A4 17.7 -76 0 1 102 171Z" fill="#7ee"/>
<path d="M79 3L43 8L74 27A6.6 12.6 -168 1 0 79 3Z" fill="#f00"/><path d="M43 8L74 27A6.6 12.6 -168 0 0 84 17Z" fill="#b00"/>
<path d="M-12 187L22 155L20 201A5.7 17.7 -65 1 1 -12 187Z" fill="#9ff"/><path d="M22 155L20 201A5.7 17.7 -65 0 1 2 200Z" fill="#6ee"/>
<path d="M-194 15L-147 3L-174 43A3 17.7 -35 1 1 -194 15Z" fill="#dff"/><path d="M-147 3L-174 43A3 17.7 -35 0 1 -186 31Z" fill="#aee"/>
<path d="M3 3L-34 10L-1 28A5.9 12.6 -172 1 0 3 3Z" fill="#f00"/><path d="M-34 10L-1 28A5.9 12.6 -172 0 0 8 16Z" fill="#b00"/>
<path d="M-75 4L-111 12L-78 28A6.2 12.6 -173 1 0 -75 4Z" fill="#f00"/><path d="M-111 12L-78 28A6.2 12.6 -173 0 0 -69 17Z" fill="#b00"/>
<path d="M-179 82L-157 45L-145 86A8.4 17.7 -83 1 1 -179 82Z" fill="#fee"/><path d="M-157 45L-145 86A8.4 17.7 -83 0 1 -163 94Z" fill="#ecc"/>
<path d="M44 169L78 167L61 198A11.7 17.7 -32 1 1 44 169Z" fill="#6ff"/><path d="M78 167L61 198A11.7 17.7 -32 0 1 39 192Z" fill="#3ee"/>
<path d="M133 5L97 11L129 30A6.2 12.6 -170 1 0 133 5Z" fill="#f00"/><path d="M97 11L129 30A6.2 12.6 -170 0 0 138 19Z" fill="#b00"/>
<path d="M46 150L67 171L61 141Z" fill="#cff"/><path d="M78 143L67 171L61 141Z" fill="#9ee"/><path d="M44 144A13.2 17.7 79 1 0 78 138 A13.2 17.7 79 1 0 44 144Z" fill="#9ff"/>
<path d="M-181 42L-148 69L-166 32Z" fill="#fdd"/><path d="M-150 26L-148 69L-166 32Z" fill="#eaa"/><path d="M-182 40A8.4 17.7 64 1 0 -150 25 A8.4 17.7 64 1 0 -182 40Z" fill="#faa"/>
<path d="M56 5L20 13L53 30A6.3 12.6 -173 1 0 56 5Z" fill="#f00"/><path d="M20 13L53 30A6.3 12.6 -173 0 0 62 19Z" fill="#b00"/>
<path d="M139 109L153 76L172 105A11.5 17.7 -95 1 1 139 109Z" fill="#eff"/><path d="M153 76L172 105A11.5 17.7 -95 0 1 157 122Z" fill="#dee"/>
<path d="M-151 104L-115 74L-120 120A5.9 17.7 -62 1 1 -151 104Z" fill="#fff"/><path d="M-115 74L-120 120A5.9 17.7 -62 0 1 -138 118Z" fill="#eee"/>
<path d="M156 37L177 -3L191 40A6.9 17.7 -85 1 1 156 37Z" fill="#fbb"/><path d="M177 -3L191 40A6.9 17.7 -85 0 1 172 46Z" fill="#e88"/>
<path d="M-21 6L-57 14L-24 31A6.3 12.6 -173 1 0 -21 6Z" fill="#f00"/><path d="M-57 14L-24 31A6.3 12.6 -173 0 0 -15 19Z" fill="#b00"/>
<path d="M-111 141L-98 105L-77 137A10.5 17.7 -97 1 1 -111 141Z" fill="#fff"/><path d="M-98 105L-77 137A10.5 17.7 -97 0 1 -92 152Z" fill="#eee"/>
<path d="M-136 114L-120 147L-119 111Z" fill="#eff"/><path d="M-102 115L-120 147L-119 111Z" fill="#dee"/><path d="M-137 111A11.3 17.7 92 1 0 -101 112 A11.3 17.7 92 1 0 -137 111Z" fill="#dee"/>
<path d="M-97 7L-134 15L-100 32A5.7 12.6 -172 1 0 -97 7Z" fill="#f00"/><path d="M-134 15L-100 32A5.7 12.6 -172 0 0 -92 21Z" fill="#b00"/>
<path d="M-161 125L-166 77L-130 109A4.5 17.7 -117 1 1 -161 125Z" fill="#eff"/><path d="M-166 77L-130 109A4.5 17.7 -117 0 1 -143 121Z" fill="#dee"/>
<path d="M78 110L85 154L95 113Z" fill="#eff"/><path d="M112 118L85 154L95 113Z" fill="#dee"/><path d="M78 109A6.9 17.7 103 1 0 112 117 A6.9 17.7 103 1 0 78 109Z" fill="#cdd"/>
<path d="M142 98L155 51L159 96Z" fill="#eff"/><path d="M177 95L155 51L159 96Z" fill="#dee"/><path d="M177 95A2.2 17.7 -95 1 0 142 98 A2.2 17.7 -95 1 0 177 95Z" fill="#899"/>
<path d="M109 8L74 16L106 33A6.6 12.6 -173 1 0 109 8Z" fill="#f00"/><path d="M74 16L106 33A6.6 12.6 -173 0 0 116 21Z" fill="#b00"/>
<path d="M-4 164L-28 172L-13 193A14.2 17.7 -162 1 0 -4 164Z" fill="#8ff"/><path d="M-28 172L-13 193A14.2 17.7 -162 0 0 12 185Z" fill="#5ee"/>
<path d="M-7 189L38 169L6 202Z" fill="#7ff"/><path d="M18 214L38 169L6 202Z" fill="#4ee"/><path d="M18 214A1.6 17.7 -46 1 0 -7 189 A1.6 17.7 -46 1 0 18 214Z" fill="#399"/>
<path d="M99 152L101 106L132 140A5.9 17.7 -110 1 1 99 152Z" fill="#fff"/><path d="M101 106L132 140A5.9 17.7 -110 0 1 118 152Z" fill="#eee"/>
<path d="M33 9L-3 17L30 34A6 12.6 -173 1 0 33 9Z" fill="#f00"/><path d="M-3 17L30 34A6 12.6 -173 0 0 39 22Z" fill="#b00"/>
<path d="M119 115L139 76L153 118A7.4 17.7 -85 1 1 119 115Z" fill="#fee"/><path d="M139 76L153 118A7.4 17.7 -85 0 1 135 125Z" fill="#edd"/>
<path d="M134 43L142 -4L168 36A4 17.7 -101 1 1 134 43Z" fill="#fff"/><path d="M142 -4L168 36A4 17.7 -101 0 1 152 44Z" fill="#eee"/>
<path d="M50 156L16 191L58 172Z" fill="#7ff"/><path d="M65 188L16 191L58 172Z" fill="#4ee"/>
<path d="M52 145L55 166L36 150Z" fill="#aff"/><path d="M34 167L55 166L36 150Z" fill="#7ee"/><path d="M25 164A15 17.7 40 1 0 48 137 A15 17.7 40 1 0 25 164Z" fill="#7ff"/>
<path d="M-43 11L-80 16L-48 35A6.1 12.6 -169 1 0 -43 11Z" fill="#f00"/><path d="M-80 16L-48 35A6.1 12.6 -169 0 0 -38 24Z" fill="#b00"/>
<path d="M-151 36L-142 -1L-117 29A10.5 17.7 -103 1 1 -151 36Z" fill="#eff"/><path d="M-142 -1L-117 29A10.5 17.7 -103 0 1 -131 46Z" fill="#dee"/>
<path d="M-55 173L-34 138L-38 177Z" fill="#aff"/><path d="M-21 177L-34 138L-38 177Z" fill="#8ee"/><path d="M-21 179A9.4 17.7 -84 1 0 -56 175 A9.4 17.7 -84 1 0 -21 179Z" fill="#599"/>
<path d="M-87 157L-53 134L-57 175A9.5 17.7 -59 1 1 -87 157Z" fill="#cff"/><path d="M-53 134L-57 175A9.5 17.7 -59 0 1 -78 176Z" fill="#9ee"/>
<path d="M87 12L51 19L84 36A6.2 12.6 -172 1 0 87 12Z" fill="#f00"/><path d="M51 19L84 36A6.2 12.6 -172 0 0 93 25Z" fill="#b00"/>
<path d="M-53 183L-33 160L-21 188A13 17.7 -81 1 1 -53 183Z" fill="#eff"/><path d="M-33 160L-21 188A13 17.7 -81 0 1 -40 204Z" fill="#cee"/>
<path d="M183 10L190 43L168 18Z" fill="#fee"/><path d="M159 33L190 43L168 18Z" fill="#edd"/><path d="M155 30A12.3 17.7 47 1 0 181 6 A12.3 17.7 47 1 0 155 30Z" fill="#fee"/>
<path d="M11 13L-26 19L6 38A6.3 12.6 -170 1 0 11 13Z" fill="#f00"/><path d="M-26 19L6 38A6.3 12.6 -170 0 0 16 27Z" fill="#b00"/>
<path d="M-18 146L-27 155L-21 167A16 17.7 -173 1 0 -18 146Z" fill="#aff"/><path d="M-27 155L-21 167A16 17.7 -173 0 0 9 160Z" fill="#8ee"/>
<path d="M-66 14L-103 20L-70 39A6 12.6 -170 1 0 -66 14Z" fill="#f00"/><path d="M-103 20L-70 39A6 12.6 -170 0 0 -61 28Z" fill="#b00"/>
<path d="M164 65L179 32L197 63A11.3 17.7 -93 1 1 164 65Z" fill="#eff"/><path d="M179 32L197 63A11.3 17.7 -93 0 1 181 79Z" fill="#cee"/>
<path d="M-163 94L-159 55L-131 83A10.2 17.7 -110 1 1 -163 94Z" fill="#eff"/><path d="M-159 55L-131 83A10.2 17.7 -110 0 1 -142 101Z" fill="#dee"/>
<path d="M141 14L105 22L138 39A6.2 12.6 -172 1 0 141 14Z" fill="#f00"/><path d="M105 22L138 39A6.2 12.6 -172 0 0 147 28Z" fill="#b00"/>
<path d="M-184 32L-141 8L-157 54A1.8 17.7 -51 1 1 -184 32Z" fill="#eff"/><path d="M-141 8L-157 54A1.8 17.7 -51 0 1 -171 45Z" fill="#cee"/>
<path d="M113 92L136 53L147 97A6.4 17.7 -81 1 1 113 92Z" fill="#fee"/><path d="M136 53L147 97A6.4 17.7 -81 0 1 129 102Z" fill="#edd"/>
<path d="M149 78L149 32L181 65A6.1 17.7 -112 1 1 149 78Z" fill="#fff"/><path d="M149 32L181 65A6.1 17.7 -112 0 1 167 78Z" fill="#eee"/>
<path d="M-99 159L-94 145L-80 146A15.9 17.7 -123 1 1 -99 159Z" fill="#aff"/><path d="M-94 145L-80 146A15.9 17.7 -123 0 1 -74 176Z" fill="#8ee"/>
<path d="M65 16L28 22L61 40A6.1 12.6 -171 1 0 65 16Z" fill="#f00"/><path d="M28 22L61 40A6.1 12.6 -171 0 0 70 29Z" fill="#b00"/>
<path d="M-5 180L17 138L30 183A4.2 17.7 -85 1 1 -5 180Z" fill="#aff"/><path d="M17 138L30 183A4.2 17.7 -85 0 1 12 186Z" fill="#7ee"/>
<path d="M70 143L106 116L84 153Z" fill="#dff"/><path d="M100 160L106 116L84 153Z" fill="#cee"/><path d="M100 162A7.2 17.7 -60 1 0 69 144 A7.2 17.7 -60 1 0 100 162Z" fill="#799"/>
<path d="M-147 120L-124 83L-112 125A7.6 17.7 -82 1 1 -147 120Z" fill="#eff"/><path d="M-124 83L-112 125A7.6 17.7 -82 0 1 -131 132Z" fill="#dee"/>
<path d="M-12 17L-48 23L-16 41A6.3 12.6 -170 1 0 -12 17Z" fill="#f00"/><path d="M-48 23L-16 41A6.3 12.6 -170 0 0 -7 30Z" fill="#b00"/>
<path d="M167 94L119 107L163 129A0.7 17.7 -174 1 0 167 94Z" fill="#eff"/><path d="M119 107L163 129A0.7 17.7 -174 0 0 166 112Z" fill="#dee"/>
<path d="M94 150L124 111L127 160A2 17.7 -73 1 1 94 150Z" fill="#eff"/><path d="M124 111L127 160A2 17.7 -73 0 1 110 157Z" fill="#cee"/>
<path d="M-89 18L-125 23L-94 42A6.2 12.6 -168 1 0 -89 18Z" fill="#f00"/><path d="M-125 23L-94 42A6.2 12.6 -168 0 0 -84 32Z" fill="#b00"/>
<path d="M119 18L82 25L115 42A6.1 12.6 -172 1 0 119 18Z" fill="#f00"/><path d="M82 25L115 42A6.1 12.6 -172 0 0 124 31Z" fill="#b00"/>
<path d="M-162 111L-135 94L-133 126A12.7 17.7 -63 1 1 -162 111Z" fill="#eff"/><path d="M-135 94L-133 126A12.7 17.7 -63 0 1 -155 134Z" fill="#dee"/>
<path d="M-200 50L-187 6L-165 47A6.1 17.7 -96 1 1 -200 50Z" fill="#dff"/><path d="M-187 6L-165 47A6.1 17.7 -96 0 1 -181 55Z" fill="#bee"/>
<path d="M-130 162L-117 116L-95 158A4.8 17.7 -96 1 1 -130 162Z" fill="#dff"/><path d="M-117 116L-95 158A4.8 17.7 -96 0 1 -112 165Z" fill="#cee"/>
<path d="M-110 138L-87 112L-78 145A11.9 17.7 -77 1 1 -110 138Z" fill="#dff"/><path d="M-87 112L-78 145A11.9 17.7 -77 0 1 -97 157Z" fill="#bee"/>
<path d="M-170 74L-153 36L-135 73A9.3 17.7 -91 1 1 -170 74Z" fill="#eff"/><path d="M-153 36L-135 73A9.3 17.7 -91 0 1 -152 85Z" fill="#cee"/>
<path d="M42 19L6 26L38 44A6.4 12.6 -171 1 0 42 19Z" fill="#f00"/><path d="M6 26L38 44A6.4 12.6 -171 0 0 47 33Z" fill="#b00"/>
<path d="M-70 172A16.9 17.7 36 1 0 -49 143 A16.9 17.7 36 1 0 -70 172Z" fill="#8ff"/>
<path d="M146 40L155 20L174 32A14.7 17.7 -106 1 1 146 40Z" fill="#eff"/><path d="M155 20L174 32A14.7 17.7 -106 0 1 166 58Z" fill="#dee"/>
<path d="M-45 187L-27 145L-27 188Z" fill="#8ff"/><path d="M-10 187L-27 145L-27 188Z" fill="#6ee"/><path d="M-10 188A6.2 17.7 -90 1 0 -45 188 A6.2 17.7 -90 1 0 -10 188Z" fill="#399"/>
<path d="M-35 19L-72 27L-38 44A6 12.6 -173 1 0 -35 19Z" fill="#f00"/><path d="M-72 27L-38 44A6 12.6 -173 0 0 -30 33Z" fill="#b00"/>
<path d="M55 177L81 141L90 184A7.4 17.7 -78 1 1 55 177Z" fill="#aff"/><path d="M81 141L90 184A7.4 17.7 -78 0 1 71 189Z" fill="#8ee"/>
<path d="M36 186L45 139L53 183Z" fill="#9ff"/><path d="M71 179L45 139L53 183Z" fill="#7ee"/><path d="M71 180A4.1 17.7 -101 1 0 36 186 A4.1 17.7 -101 1 0 71 180Z" fill="#499"/>
<path d="M-149 50L-128 6L-114 53A3.4 17.7 -85 1 1 -149 50Z" fill="#eff"/><path d="M-128 6L-114 53A3.4 17.7 -85 0 1 -132 55Z" fill="#dee"/>
<path d="M126 113L134 65L160 106A2.7 17.7 -101 1 1 126 113Z" fill="#fff"/><path d="M134 65L160 106A2.7 17.7 -101 0 1 144 113Z" fill="#eee"/>
<path d="M116 48L139 5L151 52A1.5 17.7 -83 1 1 116 48Z" fill="#fff"/><path d="M139 5L151 52A1.5 17.7 -83 0 1 133 52Z" fill="#eee"/>
<path d="M-162 56L-151 8L-145 54Z" fill="#eff"/><path d="M-127 52L-151 8L-145 54Z" fill="#cee"/>
<path d="M96 21L59 29L93 46A5.7 12.6 -173 1 0 96 21Z" fill="#f00"/><path d="M59 29L93 46A5.7 12.6 -173 0 0 101 34Z" fill="#b00"/>
<path d="M-8 190L-16 148L20 170A8.5 17.7 -125 1 1 -8 190Z" fill="#cff"/><path d="M-16 148L20 170A8.5 17.7 -125 0 1 12 188Z" fill="#9ee"/>
<path d="M102 114L122 98L132 121A14.3 17.7 -76 1 1 102 114Z" fill="#eff"/><path d="M122 98L132 121A14.3 17.7 -76 0 1 112 139Z" fill="#cee"/>
<path d="M19 23L-17 29L15 47A6.3 12.6 -170 1 0 19 23Z" fill="#f00"/><path d="M-17 29L15 47A6.3 12.6 -170 0 0 24 36Z" fill="#b00"/>
<path d="M-58 23L-94 30L-62 48A6.3 12.6 -171 1 0 -58 23Z" fill="#f00"/><path d="M-94 30L-62 48A6.3 12.6 -171 0 0 -53 37Z" fill="#b00"/>
<path d="M54 162L75 125L88 165A8.4 17.7 -85 1 1 54 162Z" fill="#cff"/><path d="M75 125L88 165A8.4 17.7 -85 0 1 70 174Z" fill="#9ee"/>
<path d="M144 75L175 39L178 87A4.3 17.7 -71 1 1 144 75Z" fill="#eff"/><path d="M175 39L178 87A4.3 17.7 -71 0 1 159 85Z" fill="#dee"/>
<path d="M73 25L36 32L70 50A6.1 12.6 -172 1 0 73 25Z" fill="#f00"/><path d="M36 32L70 50A6.1 12.6 -172 0 0 78 38Z" fill="#b00"/>
<path d="M-104 161L-71 123L-70 173A0.6 17.7 -70 1 1 -104 161Z" fill="#dff"/><path d="M-71 123L-70 173A0.6 17.7 -70 0 1 -87 167Z" fill="#bee"/>
<path d="M-81 110L-128 100L-100 139A3.9 17.7 -147 1 0 -81 110Z" fill="#eff"/><path d="M-128 100L-100 139A3.9 17.7 -147 0 0 -87 127Z" fill="#dee"/>
<path d="M-20 162L-10 118L15 156A7 17.7 -100 1 1 -20 162Z" fill="#aff"/><path d="M-10 118L15 156A7 17.7 -100 0 1 -1 167Z" fill="#8ee"/>
<path d="M-4 26L-40 33L-8 50A6.3 12.6 -172 1 0 -4 26Z" fill="#f00"/><path d="M-40 33L-8 50A6.3 12.6 -172 0 0 1 39Z" fill="#b00"/>
<path d="M-165 100L-138 69L-132 109A9.5 17.7 -74 1 1 -165 100Z" fill="#fff"/><path d="M-138 69L-132 109A9.5 17.7 -74 0 1 -152 116Z" fill="#eee"/>
<path d="M-73 145L-59 128L-44 145A14.8 17.7 -92 1 1 -73 145Z" fill="#eff"/><path d="M-59 128L-44 145A14.8 17.7 -92 0 1 -58 168Z" fill="#dee"/>
<path d="M32 127L57 169L67 121A3.1 17.7 80 1 0 32 127Z" fill="#cff"/><path d="M57 169L67 121A3.1 17.7 80 0 0 49 121Z" fill="#8ee"/>
<path d="M-80 28L-117 33L-85 52A6.3 12.6 -168 1 0 -80 28Z" fill="#f00"/><path d="M-117 33L-85 52A6.3 12.6 -168 0 0 -76 41Z" fill="#b00"/>
<path d="M85 53L116 19L117 65A6.3 17.7 -69 1 1 85 53Z" fill="#fff"/><path d="M116 19L117 65A6.3 17.7 -69 0 1 98 66Z" fill="#eee"/>
<path d="M30 132L41 164L16 142Z" fill="#aff"/><path d="M9 157L41 164L16 142Z" fill="#8ee"/><path d="M4 155A12.3 17.7 41 1 0 27 128 A12.3 17.7 41 1 0 4 155Z" fill="#9ff"/>
<path d="M-162 81L-142 38L-127 83A4.5 17.7 -87 1 1 -162 81Z" fill="#fff"/><path d="M-142 38L-127 83A4.5 17.7 -87 0 1 -145 87Z" fill="#eee"/>
<path d="M101 109L120 65L136 110A3.9 17.7 -88 1 1 101 109Z" fill="#fff"/><path d="M120 65L136 110A3.9 17.7 -88 0 1 119 114Z" fill="#eee"/>
<path d="M-83 98L-92 145L-68 107Z" fill="#fee"/><path d="M-54 117L-92 145L-68 107Z" fill="#edd"/><path d="M-83 98A4.2 17.7 122 1 0 -53 117 A4.2 17.7 122 1 0 -83 98Z" fill="#baa"/>
<path d="M50 29L14 35L46 54A6.2 12.6 -169 1 0 50 29Z" fill="#f00"/><path d="M14 35L46 54A6.2 12.6 -169 0 0 55 43Z" fill="#b00"/>
<path d="M-52 151L-17 125L-21 168A8.3 17.7 -60 1 1 -52 151Z" fill="#cff"/><path d="M-17 125L-21 168A8.3 17.7 -60 0 1 -41 168Z" fill="#9ee"/>
<path d="M-134 112L-110 72L-99 117A6.3 17.7 -82 1 1 -134 112Z" fill="#fff"/><path d="M-110 72L-99 117A6.3 17.7 -82 0 1 -117 121Z" fill="#eee"/>
<path d="M-27 29L-63 37L-30 54A6 12.6 -172 1 0 -27 29Z" fill="#f00"/><path d="M-63 37L-30 54A6 12.6 -172 0 0 -21 43Z" fill="#b00"/>
<path d="M125 81L139 40L159 78A7.9 17.7 -95 1 1 125 81Z" fill="#eff"/><path d="M139 40L159 78A7.9 17.7 -95 0 1 143 89Z" fill="#eee"/>
<path d="M73 118L108 97L102 137A9.1 17.7 -56 1 1 73 118Z" fill="#eff"/><path d="M108 97L102 137A9.1 17.7 -56 0 1 81 137Z" fill="#dee"/>
<path d="M51 164L9 155L31 192A8.2 17.7 -145 1 0 51 164Z" fill="#8ff"/><path d="M9 155L31 192A8.2 17.7 -145 0 0 49 184Z" fill="#6ee"/>
<path d="M-141 56L-120 16L-106 58A7 17.7 -86 1 1 -141 56Z" fill="#fee"/><path d="M-120 16L-106 58A7 17.7 -86 0 1 -124 65Z" fill="#edd"/>
<path d="M-14 159L15 138L-1 170Z" fill="#cff"/><path d="M16 174L15 138L-1 170Z" fill="#9ee"/><path d="M15 178A11.4 17.7 -63 1 0 -17 162 A11.4 17.7 -63 1 0 15 178Z" fill="#7aa"/>
<path d="M59 133L74 100L93 130A11.6 17.7 -94 1 1 59 133Z" fill="#eff"/><path d="M74 100L93 130A11.6 17.7 -94 0 1 77 147Z" fill="#cee"/>
<path d="M119 55L153 22L152 70A4.1 17.7 -66 1 1 119 55Z" fill="#fee"/><path d="M153 22L152 70A4.1 17.7 -66 0 1 134 67Z" fill="#ecc"/>
<path d="M155 59L167 16L190 54A7.1 17.7 -98 1 1 155 59Z" fill="#fee"/><path d="M167 16L190 54A7.1 17.7 -98 0 1 173 65Z" fill="#edd"/>
<path d="M104 31L68 39L100 55A6.3 12.6 -173 1 0 104 31Z" fill="#f00"/><path d="M68 39L100 55A6.3 12.6 -173 0 0 109 44Z" fill="#b00"/>
<path d="M95 77L124 53L126 91A10.9 17.7 -66 1 1 95 77Z" fill="#eff"/><path d="M124 53L126 91A10.9 17.7 -66 0 1 105 97Z" fill="#dee"/>
<path d="M28 32L-9 39L23 57A6.1 12.6 -170 1 0 28 32Z" fill="#f00"/><path d="M-9 39L23 57A6.1 12.6 -170 0 0 32 46Z" fill="#b00"/>
<path d="M40 146L42 99L74 134A5.1 17.7 -110 1 1 40 146Z" fill="#fee"/><path d="M42 99L74 134A5.1 17.7 -110 0 1 59 146Z" fill="#ecc"/>
<path d="M-50 33L-86 40L-53 57A6.4 12.6 -172 1 0 -50 33Z" fill="#f00"/><path d="M-86 40L-53 57A6.4 12.6 -172 0 0 -44 46Z" fill="#b00"/>
<path d="M-154 114L-143 78L-120 108A10.8 17.7 -100 1 1 -154 114Z" fill="#fee"/><path d="M-143 78L-120 108A10.8 17.7 -100 0 1 -134 125Z" fill="#ecc"/>
<path d="M-155 66L-131 99L-139 61Z" fill="#eff"/><path d="M-122 60L-131 99L-139 61Z" fill="#dee"/><path d="M-156 64A9.5 17.7 79 1 0 -121 57 A9.5 17.7 79 1 0 -156 64Z" fill="#dee"/>
<path d="M-163 59L-138 24L-129 66A7.9 17.7 -78 1 1 -163 59Z" fill="#eff"/><path d="M-138 24L-129 66A7.9 17.7 -78 0 1 -148 72Z" fill="#dee"/>
<path d="M81 34L45 42L78 59A6.3 12.6 -173 1 0 81 34Z" fill="#f00"/><path d="M45 42L78 59A6.3 12.6 -173 0 0 87 48Z" fill="#b00"/>
<path d="M-124 138L-100 106L-90 145A9.7 17.7 -79 1 1 -124 138Z" fill="#fff"/><path d="M-100 106L-90 145A9.7 17.7 -79 0 1 -109 153Z" fill="#eee"/>
<path d="M5 36L-32 42L0 61A6.3 12.6 -170 1 0 5 36Z" fill="#f00"/><path d="M-32 42L0 61A6.3 12.6 -170 0 0 10 50Z" fill="#b00"/>
<path d="M-87 72L-96 120L-72 81Z" fill="#dff"/><path d="M-57 91L-96 120L-72 81Z" fill="#cee"/><path d="M-86 72A2.8 17.7 123 1 0 -57 91 A2.8 17.7 123 1 0 -86 72Z" fill="#9bb"/>
<path d="M-48 138L-59 145L-57 157A16 17.7 -155 1 0 -48 138Z" fill="#dff"/><path d="M-59 145L-57 157A16 17.7 -155 0 0 -26 160Z" fill="#aee"/>
<path d="M109 118L127 77L144 119A6.8 17.7 -89 1 1 109 118Z" fill="#fdd"/><path d="M127 77L144 119A6.8 17.7 -89 0 1 126 126Z" fill="#ebb"/>
<path d="M96 64L118 20L114 65Z" fill="#eff"/><path d="M131 67L118 20L114 65Z" fill="#dee"/><path d="M131 67A2.1 17.7 -85 1 0 96 64 A2.1 17.7 -85 1 0 131 67Z" fill="#899"/>
<path d="M-72 152L-54 106L-54 152Z" fill="#eff"/><path d="M-36 152L-54 106L-54 152Z" fill="#cee"/>
<path d="M55 142L81 101L89 149A2.8 17.7 -78 1 1 55 142Z" fill="#fff"/><path d="M81 101L89 149A2.8 17.7 -78 0 1 71 148Z" fill="#eee"/>
<path d="M84 144L99 106L118 142A9 17.7 -94 1 1 84 144Z" fill="#fee"/><path d="M99 106L118 142A9 17.7 -94 0 1 102 154Z" fill="#edd"/>
<path d="M-133 77L-105 49L-100 88A10.2 17.7 -72 1 1 -133 77Z" fill="#fff"/><path d="M-105 49L-100 88A10.2 17.7 -72 0 1 -121 95Z" fill="#eee"/>
<path d="M-111 49L-78 28L-81 66A10.2 17.7 -59 1 1 -111 49Z" fill="#fff"/><path d="M-78 28L-81 66A10.2 17.7 -59 0 1 -103 69Z" fill="#eee"/>
<path d="M58 38L22 45L55 63A6.1 12.6 -172 1 0 58 38Z" fill="#f00"/><path d="M22 45L55 63A6.1 12.6 -172 0 0 64 52Z" fill="#b00"/>
<path d="M74 69L103 29L108 78A1.6 17.7 -75 1 1 74 69Z" fill="#fff"/><path d="M103 29L108 78A1.6 17.7 -75 0 1 91 75Z" fill="#eee"/>
<path d="M-124 73L-120 33L-92 61A9.8 17.7 -110 1 1 -124 73Z" fill="#fee"/><path d="M-120 33L-92 61A9.8 17.7 -110 0 1 -104 79Z" fill="#edd"/>
<path d="M-18 39L-55 46L-22 64A5.7 12.6 -171 1 0 -18 39Z" fill="#f00"/><path d="M-55 46L-22 64A5.7 12.6 -171 0 0 -13 52Z" fill="#b00"/>
<path d="M-30 174L-22 133L4 166A9.2 17.7 -104 1 1 -30 174Z" fill="#dff"/><path d="M-22 133L4 166A9.2 17.7 -104 0 1 -10 181Z" fill="#bee"/>
<path d="M-114 134L-111 86L-80 122A4.3 17.7 -109 1 1 -114 134Z" fill="#fff"/><path d="M-111 86L-80 122A4.3 17.7 -109 0 1 -96 133Z" fill="#eee"/>
<path d="M11 126L25 107L40 124A14.7 17.7 -94 1 1 11 126Z" fill="#fbb"/><path d="M25 107L40 124A14.7 17.7 -94 0 1 27 148Z" fill="#e77"/>
<path d="M-17 144L14 108L16 155A5.1 17.7 -71 1 1 -17 144Z" fill="#eff"/><path d="M14 108L16 155A5.1 17.7 -71 0 1 -3 155Z" fill="#cee"/>
<path d="M35 42L-1 49L32 66A6.3 12.6 -172 1 0 35 42Z" fill="#f00"/><path d="M-1 49L32 66A6.3 12.6 -172 0 0 41 55Z" fill="#b00"/>
<path d="M90 124L101 86L124 118A10 17.7 -100 1 1 90 124Z" fill="#fff"/><path d="M101 86L124 118A10 17.7 -100 0 1 109 133Z" fill="#eee"/>
<path d="M109 90L138 59L143 101A8.3 17.7 -72 1 1 109 90Z" fill="#eff"/><path d="M138 59L143 101A8.3 17.7 -72 0 1 123 105Z" fill="#dee"/>
<path d="M-36 148L-19 114L-2 149A10.3 17.7 -89 1 1 -36 148Z" fill="#dff"/><path d="M-19 114L-2 149A10.3 17.7 -89 0 1 -20 162Z" fill="#bee"/>
<path d="M73 80L76 129L107 91A0.6 17.7 107 1 0 73 80Z" fill="#eff"/><path d="M76 129L107 91A0.6 17.7 107 0 0 90 85Z" fill="#dee"/>
<path d="M-41 43L-77 49L-46 68A6.3 12.6 -169 1 0 -41 43Z" fill="#f00"/><path d="M-77 49L-46 68A6.3 12.6 -169 0 0 -36 57Z" fill="#b00"/>
<path d="M-94 128L-60 109L-66 148A10 17.7 -56 1 1 -94 128Z" fill="#dff"/><path d="M-60 109L-66 148A10 17.7 -56 0 1 -87 148Z" fill="#bee"/>
<path d="M36 148L61 118L69 157A10 17.7 -76 1 1 36 148Z" fill="#eff"/><path d="M61 118L69 157A10 17.7 -76 0 1 50 165Z" fill="#cee"/>
<path d="M-155 72L-137 35L-121 73A9.1 17.7 -88 1 1 -155 72Z" fill="#fdd"/><path d="M-137 35L-121 73A9.1 17.7 -88 0 1 -138 84Z" fill="#ebb"/>
<path d="M-65 113L-43 82L-31 118A10.8 17.7 -82 1 1 -65 113Z" fill="#eff"/><path d="M-43 82L-31 118A10.8 17.7 -82 0 1 -50 129Z" fill="#eee"/>
<path d="M-66 136L-21 124L-57 150Z" fill="#dff"/><path d="M-46 164L-21 124L-57 150Z" fill="#bee"/><path d="M-46 165A5.2 17.7 -36 1 0 -67 136 A5.2 17.7 -36 1 0 -46 165Z" fill="#8aa"/>
<path d="M57 137L16 114L30 159A4.8 17.7 -130 1 0 57 137Z" fill="#dff"/><path d="M16 114L30 159A4.8 17.7 -130 0 0 47 152Z" fill="#bee"/>
<path d="M13 46L-24 52L9 70A6 12.6 -170 1 0 13 46Z" fill="#f00"/><path d="M-24 52L9 70A6 12.6 -170 0 0 18 59Z" fill="#b00"/>
<path d="M-124 97L-104 63L-90 100A10 17.7 -85 1 1 -124 97Z" fill="#fff"/><path d="M-104 63L-90 100A10 17.7 -85 0 1 -108 111Z" fill="#eee"/>
<path d="M84 99L105 65L118 102A10.1 17.7 -84 1 1 84 99Z" fill="#fff"/><path d="M105 65L118 102A10.1 17.7 -84 0 1 100 113Z" fill="#eee"/>
<path d="M-102 61L-71 39L-72 77A10.5 17.7 -61 1 1 -102 61Z" fill="#fff"/><path d="M-71 39L-72 77A10.5 17.7 -61 0 1 -94 81Z" fill="#eee"/>
<path d="M57 65L72 34L90 64A11.7 17.7 -92 1 1 57 65Z" fill="#fff"/><path d="M72 34L90 64A11.7 17.7 -92 0 1 74 80Z" fill="#eee"/>
<path d="M-38 126L-18 85L-3 128A6.6 17.7 -87 1 1 -38 126Z" fill="#eff"/><path d="M-18 85L-3 128A6.6 17.7 -87 0 1 -21 134Z" fill="#dee"/>
<path d="M117 77L122 28L134 73Z" fill="#fff"/><path d="M151 68L122 28L134 73Z" fill="#eee"/>
<path d="M9 80L38 40L26 84Z" fill="#eff"/><path d="M43 89L38 40L26 84Z" fill="#cee"/>
<path d="M35 125L66 88L68 136A3.9 17.7 -71 1 1 35 125Z" fill="#fff"/><path d="M66 88L68 136A3.9 17.7 -71 0 1 50 135Z" fill="#eee"/>
<path d="M-111 87L-115 40L-79 71A4.7 17.7 -118 1 1 -111 87Z" fill="#fee"/><path d="M-115 40L-79 71A4.7 17.7 -118 0 1 -92 83Z" fill="#edd"/>
<path d="M-78 132L-85 87L-48 114A6.6 17.7 -121 1 1 -78 132Z" fill="#fff"/><path d="M-85 87L-48 114A6.6 17.7 -121 0 1 -59 130Z" fill="#eee"/>
<path d="M-7 162L9 116L28 160A2.2 17.7 -93 1 1 -7 162Z" fill="#cff"/><path d="M9 116L28 160A2.2 17.7 -93 0 1 11 164Z" fill="#9ee"/>
<path d="M-84 109L-69 66L-49 107A6.4 17.7 -94 1 1 -84 109Z" fill="#fee"/><path d="M-69 66L-49 107A6.4 17.7 -94 0 1 -66 115Z" fill="#edd"/>
<path d="M36 75L49 39L70 71A10.3 17.7 -97 1 1 36 75Z" fill="#fff"/><path d="M49 39L70 71A10.3 17.7 -97 0 1 54 86Z" fill="#eee"/>
<path d="M-48 68L-20 35L-15 78A7.8 17.7 -74 1 1 -48 68Z" fill="#fff"/><path d="M-20 35L-15 78A7.8 17.7 -74 0 1 -34 82Z" fill="#eee"/>
<path d="M65 86L85 71L94 94A14.3 17.7 -74 1 1 65 86Z" fill="#dff"/><path d="M85 71L94 94A14.3 17.7 -74 0 1 74 111Z" fill="#cee"/>
<path d="M83 82L103 37L118 84A1.2 17.7 -86 1 1 83 82Z" fill="#fee"/><path d="M103 37L118 84A1.2 17.7 -86 0 1 100 84Z" fill="#edd"/>
<path d="M-65 128L-41 97L-31 135A10.2 17.7 -79 1 1 -65 128Z" fill="#fff"/><path d="M-41 97L-31 135A10.2 17.7 -79 0 1 -50 144Z" fill="#eee"/>
<path d="M42 111L60 65L78 111A2.4 17.7 -90 1 1 42 111Z" fill="#fee"/><path d="M60 65L78 111A2.4 17.7 -90 0 1 60 114Z" fill="#edd"/>
<path d="M29 141L22 95L59 122A6 17.7 -121 1 1 29 141Z" fill="#fee"/><path d="M22 95L59 122A6 17.7 -121 0 1 47 137Z" fill="#edd"/>
<path d="M-70 71L-40 42L-38 84A8.8 17.7 -68 1 1 -70 71Z" fill="#fff"/><path d="M-40 42L-38 84A8.8 17.7 -68 0 1 -58 88Z" fill="#eee"/>
<path d="M64 85L81 41L100 84A5.6 17.7 -92 1 1 64 85Z" fill="#fff"/><path d="M81 41L100 84A5.6 17.7 -92 0 1 82 90Z" fill="#eee"/>
<path d="M14 106L39 72L47 114A8.2 17.7 -77 1 1 14 106Z" fill="#eff"/><path d="M39 72L47 114A8.2 17.7 -77 0 1 28 120Z" fill="#dee"/>
<path d="M-8 102L12 147L10 101Z" fill="#fff"/><path d="M27 100L12 147L10 101Z" fill="#eee"/><path d="M-8 102A2 17.7 87 1 0 27 100 A2 17.7 87 1 0 -8 102Z" fill="#cdd"/>
<path d="M-34 104L-22 70L-0 99A11.4 17.7 -98 1 1 -34 104Z" fill="#eff"/><path d="M-22 70L-0 99A11.4 17.7 -98 0 1 -15 116Z" fill="#dee"/>
<path d="M-24 148L-13 100L11 142A2.5 17.7 -99 1 1 -24 148Z" fill="#fff"/><path d="M-13 100L11 142A2.5 17.7 -99 0 1 -6 148Z" fill="#eee"/>
<path d="M-6 79L9 42L28 77A9.7 17.7 -93 1 1 -6 79Z" fill="#eff"/><path d="M9 42L28 77A9.7 17.7 -93 0 1 12 90Z" fill="#dee"/>
<path d="M-110 106L-94 67L-75 104A8.8 17.7 -93 1 1 -110 106Z" fill="#fff"/><path d="M-94 67L-75 104A8.8 17.7 -93 0 1 -92 116Z" fill="#eee"/>
<path d="M-109 91L-94 47L-74 89A5.8 17.7 -93 1 1 -109 91Z" fill="#fee"/><path d="M-94 47L-74 89A5.8 17.7 -93 0 1 -91 97Z" fill="#edd"/>
<path d="M42 81L64 41L76 85A6.4 17.7 -84 1 1 42 81Z" fill="#fff"/><path d="M64 41L76 85A6.4 17.7 -84 0 1 58 90Z" fill="#eee"/>
<path d="M-6 112L12 68L29 112A5.1 17.7 -90 1 1 -6 112Z" fill="#fff"/><path d="M12 68L29 112A5.1 17.7 -90 0 1 11 117Z" fill="#eee"/>
<path d="M17 57L43 95L34 53Z" fill="#fee"/><path d="M52 50L43 95L34 53Z" fill="#edd"/><path d="M17 56A6.6 17.7 79 1 0 52 49 A6.6 17.7 79 1 0 17 56Z" fill="#ecc"/>
<path d="M-94 84L-79 46L-59 82A9.2 17.7 -94 1 1 -94 84Z" fill="#fee"/><path d="M-79 46L-59 82A9.2 17.7 -94 0 1 -76 94Z" fill="#ecc"/>
<path d="M-65 102L-37 83L-35 116A12.2 17.7 -64 1 1 -65 102Z" fill="#fff"/><path d="M-37 83L-35 116A12.2 17.7 -64 0 1 -57 124Z" fill="#eee"/>
<path d="M-30 85L-20 45L4 78A9.1 17.7 -101 1 1 -30 85Z" fill="#fff"/><path d="M-20 45L4 78A9.1 17.7 -101 0 1 -11 92Z" fill="#eee"/>
<path d="M-68 82L-29 53L-39 101A2.5 17.7 -57 1 1 -68 82Z" fill="#fff"/><path d="M-29 53L-39 101A2.5 17.7 -57 0 1 -55 94Z" fill="#eee"/>
<path d="M-84 115L-68 74L-49 114A7.2 17.7 -92 1 1 -84 115Z" fill="#eff"/><path d="M-68 74L-49 114A7.2 17.7 -92 0 1 -66 123Z" fill="#dee"/>
<path d="M-32 118L-12 77L3 120A6.5 17.7 -86 1 1 -32 118Z" fill="#fff"/><path d="M-12 77L3 120A6.5 17.7 -86 0 1 -15 127Z" fill="#eee"/>
<path d="M57 58L61 94L74 61Z" fill="#fff"/><path d="M89 70L61 94L74 61Z" fill="#eee"/><path d="M58 54A11.2 17.7 112 1 0 91 67 A11.2 17.7 112 1 0 58 54Z" fill="#ddd"/>
<path d="M-8 92L17 53L27 98A5.7 17.7 -80 1 1 -8 92Z" fill="#fee"/><path d="M17 53L27 98A5.7 17.7 -80 0 1 9 102Z" fill="#ecc"/>
<path d="M-81 97L-72 54L-46 90A7.6 17.7 -102 1 1 -81 97Z" fill="#fff"/><path d="M-72 54L-46 90A7.6 17.7 -102 0 1 -62 103Z" fill="#eee"/>
<path d="M-30 94L-7 55L4 99A6.2 17.7 -82 1 1 -30 94Z" fill="#fee"/><path d="M-7 55L4 99A6.2 17.7 -82 0 1 -14 104Z" fill="#edd"/>
</g>
<g transform="translate(2127,1107)">
<path d="M-116 133L-153 76L-161 46L-169 -5L-169 -26L-155 -38L-120 -54L-63 -73L10 -74L61 -71L90 -66L128 -51L173 -27L175 4L175 46L153 91L110 139L96 152L67 167L-20 180L-49 174L-100 151Z" fill="#eff"/>
<path d="M51 107L-51 102L-102 58L-110 28L-118 -23L-83 -39L4 -52L55 -50L92 -35L124 2L124 43L81 92Z" fill="#c00"/>
<path d="M-58 -54L-32 -91L-25 -46A3.7 16.8 -77 1 1 -58 -54Z" fill="#fee"/><path d="M-32 -91L-25 -46A3.7 16.8 -77 0 1 -42 -46Z" fill="#edd"/>
<path d="M23 -55L39 -93L56 -54A7.1 16.8 -90 1 1 23 -55Z" fill="#fff"/><path d="M39 -93L56 -54A7.1 16.8 -90 0 1 39 -46Z" fill="#eee"/>
<path d="M-70 -86L-63 -40L-54 -82Z" fill="#fff"/><path d="M-37 -79L-63 -40L-54 -82Z" fill="#eee"/><path d="M-70 -86A1.9 16.8 102 1 0 -37 -79 A1.9 16.8 102 1 0 -70 -86Z" fill="#cbb"/>
<path d="M3 -49L17 -83L35 -50A9.4 16.8 -93 1 1 3 -49Z" fill="#fff"/><path d="M17 -83L35 -50A9.4 16.8 -93 0 1 20 -38Z" fill="#eee"/>
<path d="M-14 -46L-15 -76L12 -63A12 16.8 -123 1 1 -14 -46Z" fill="#eff"/><path d="M-15 -76L12 -63A12 16.8 -123 0 1 8 -41Z" fill="#dee"/>
<path d="M51 -48L71 -84L84 -45A7.8 16.8 -85 1 1 51 -48Z" fill="#fee"/><path d="M71 -84L84 -45A7.8 16.8 -85 0 1 67 -37Z" fill="#ecc"/>
<path d="M26 -75L51 -35L59 -81A1.6 16.8 79 1 0 26 -75Z" fill="#fff"/><path d="M51 -35L59 -81A1.6 16.8 79 0 0 42 -80Z" fill="#eee"/>
<path d="M-89 -38L-81 -80L-56 -45A6.4 16.8 -102 1 1 -89 -38Z" fill="#fdd"/><path d="M-81 -80L-56 -45A6.4 16.8 -102 0 1 -71 -34Z" fill="#ebb"/>
<path d="M-40 -49L-22 -83L-8 -47A8.7 16.8 -87 1 1 -40 -49Z" fill="#fee"/><path d="M-22 -83L-8 -47A8.7 16.8 -87 0 1 -24 -37Z" fill="#ecc"/>
<path d="M10 -42L30 -80L43 -39A6 16.8 -86 1 1 10 -42Z" fill="#fee"/><path d="M30 -80L43 -39A6 16.8 -86 0 1 26 -34Z" fill="#edd"/>
<path d="M85 -39L99 -79L118 -42A7.2 16.8 -93 1 1 85 -39Z" fill="#dff"/><path d="M99 -79L118 -42A7.2 16.8 -93 0 1 102 -32Z" fill="#bee"/>
<path d="M-61 -38L-51 -74L-29 -44A9.4 16.8 -100 1 1 -61 -38Z" fill="#eff"/><path d="M-51 -74L-29 -44A9.4 16.8 -100 0 1 -43 -30Z" fill="#cee"/>
<path d="M59 -51L84 -72L88 -40A11.1 16.8 -69 1 1 59 -51Z" fill="#fff"/><path d="M84 -72L88 -40A11.1 16.8 -69 0 1 68 -31Z" fill="#eee"/>
<path d="M-132 -55L-111 -73L-103 -47A12.6 16.8 -74 1 1 -132 -55Z" fill="#fcc"/><path d="M-111 -73L-103 -47A12.6 16.8 -74 0 1 -122 -33Z" fill="#eaa"/>
<path d="M-88 -42L-65 -75L-56 -36A7.7 16.8 -79 1 1 -88 -42Z" fill="#fee"/><path d="M-65 -75L-56 -36A7.7 16.8 -79 0 1 -74 -30Z" fill="#ecc"/>
<path d="M18 -58L-9 -61L4 -37A10.1 13.8 -145 1 0 18 -58Z" fill="#f00"/><path d="M-9 -61L4 -37A10.1 13.8 -145 0 0 22 -39Z" fill="#b00"/>
<path d="M69 -56L42 -58L55 -34A10.1 13.8 -147 1 0 69 -56Z" fill="#f00"/><path d="M42 -58L55 -34A10.1 13.8 -147 0 0 74 -37Z" fill="#b00"/>
<path d="M-110 -29L-89 -71L-93 -27Z" fill="#fee"/><path d="M-77 -26L-89 -71L-93 -27Z" fill="#ecc"/>
<path d="M-4 -55L-30 -57L-18 -34A10.2 13.8 -148 1 0 -4 -55Z" fill="#f00"/><path d="M-30 -57L-18 -34A10.2 13.8 -148 0 0 1 -37Z" fill="#b00"/>
<path d="M-125 -27L-112 -62L-93 -29A9.3 16.8 -95 1 1 -125 -27Z" fill="#fee"/><path d="M-112 -62L-93 -29A9.3 16.8 -95 0 1 -108 -16Z" fill="#ecc"/>
<path d="M100 -21L104 -66L132 -30A2.8 16.8 -107 1 1 100 -21Z" fill="#fff"/><path d="M104 -66L132 -30A2.8 16.8 -107 0 1 117 -22Z" fill="#eee"/>
<path d="M47 -53L21 -54L33 -31A10.3 13.8 -148 1 0 47 -53Z" fill="#f00"/><path d="M21 -54L33 -31A10.3 13.8 -148 0 0 52 -35Z" fill="#b00"/>
<path d="M-25 -52L-52 -54L-39 -30A10.1 13.8 -146 1 0 -25 -52Z" fill="#f00"/><path d="M-52 -54L-39 -30A10.1 13.8 -146 0 0 -21 -33Z" fill="#b00"/>
<path d="M64 -36L93 -64L94 -23A7.9 16.8 -68 1 1 64 -36Z" fill="#fee"/><path d="M93 -64L94 -23A7.9 16.8 -68 0 1 75 -21Z" fill="#ecc"/>
<path d="M27 -48L-0 -53L11 -28A10 13.8 -142 1 0 27 -48Z" fill="#f00"/><path d="M-0 -53L11 -28A10 13.8 -142 0 0 29 -29Z" fill="#b00"/>
<path d="M113 -35L139 -61L143 -24A9.5 16.8 -70 1 1 113 -35Z" fill="#fcc"/><path d="M139 -61L143 -24A9.5 16.8 -70 0 1 124 -18Z" fill="#eaa"/>
<path d="M-47 -48L-73 -51L-62 -27A10.4 13.8 -144 1 0 -47 -48Z" fill="#f00"/><path d="M-73 -51L-62 -27A10.4 13.8 -144 0 0 -43 -29Z" fill="#b00"/>
<path d="M-146 -38L-136 -54L-121 -44A14.3 16.8 -103 1 1 -146 -38Z" fill="#fee"/><path d="M-136 -54L-121 -44A14.3 16.8 -103 0 1 -128 -18Z" fill="#ecc"/>
<path d="M95 -25L110 -67L128 -26A4.2 16.8 -92 1 1 95 -25Z" fill="#fee"/><path d="M110 -67L128 -26A4.2 16.8 -92 0 1 112 -20Z" fill="#edd"/>
<path d="M77 -47L50 -49L63 -25A10.2 13.8 -148 1 0 77 -47Z" fill="#f00"/><path d="M50 -49L63 -25A10.2 13.8 -148 0 0 82 -29Z" fill="#b00"/>
<path d="M-87 139L-90 93L-72 132Z" fill="#dff"/><path d="M-57 125L-90 93L-72 132Z" fill="#bee"/><path d="M-57 125A1.7 16.8 -115 1 0 -87 139 A1.7 16.8 -115 1 0 -57 125Z" fill="#699"/>
<path d="M5 -45L-22 -49L-10 -24A10 13.8 -146 1 0 5 -45Z" fill="#f00"/><path d="M-22 -49L-10 -24A10 13.8 -146 0 0 9 -27Z" fill="#b00"/>
<path d="M-121 -16L-112 -58L-88 -22A5.8 16.8 -100 1 1 -121 -16Z" fill="#fff"/><path d="M-112 -58L-88 -22A5.8 16.8 -100 0 1 -104 -12Z" fill="#eee"/>
<path d="M-68 -44L-94 -48L-84 -24A10.2 13.8 -142 1 0 -68 -44Z" fill="#f00"/><path d="M-94 -48L-84 -24A10.2 13.8 -142 0 0 -65 -25Z" fill="#b00"/>
<path d="M-126 105L-103 69L-93 111A6 16.8 -80 1 1 -126 105Z" fill="#fee"/><path d="M-103 69L-93 111A6 16.8 -80 0 1 -111 115Z" fill="#ecc"/>
<path d="M-164 -18L-158 -55L-133 -27A9.2 16.8 -106 1 1 -164 -18Z" fill="#fcc"/><path d="M-158 -55L-133 -27A9.2 16.8 -106 0 1 -145 -11Z" fill="#e99"/>
<path d="M56 -43L29 -46L41 -22A10.1 13.8 -146 1 0 56 -43Z" fill="#f00"/><path d="M29 -46L41 -22A10.1 13.8 -146 0 0 60 -25Z" fill="#b00"/>
<path d="M-51 109L-19 138L-37 101Z" fill="#dff"/><path d="M-22 95L-19 138L-37 101Z" fill="#cee"/><path d="M-52 109A6 16.8 64 1 0 -22 94 A6 16.8 64 1 0 -52 109Z" fill="#cee"/>
<path d="M-18 -43L-44 -45L-32 -21A10.3 13.8 -147 1 0 -18 -43Z" fill="#f00"/><path d="M-44 -45L-32 -21A10.3 13.8 -147 0 0 -13 -24Z" fill="#b00"/>
<path d="M-144 -15L-123 -56L-111 -12A2.5 16.8 -84 1 1 -144 -15Z" fill="#fee"/><path d="M-123 -56L-111 -12A2.5 16.8 -84 0 1 -128 -11Z" fill="#ecc"/>
<path d="M106 -41L80 -43L92 -20A10.3 13.8 -145 1 0 106 -41Z" fill="#f00"/><path d="M80 -43L92 -20A10.3 13.8 -145 0 0 111 -22Z" fill="#b00"/>
<path d="M117 110L136 72L150 113A6.2 16.8 -86 1 1 117 110Z" fill="#fff"/><path d="M136 72L150 113A6.2 16.8 -86 0 1 133 118Z" fill="#eee"/>
<path d="M-44 88L-71 83L-59 109A9.8 13.8 -143 1 0 -44 88Z" fill="#f00"/><path d="M-71 83L-59 109A9.8 13.8 -143 0 0 -41 106Z" fill="#b00"/>
<path d="M9 143L13 98L25 138Z" fill="#dff"/><path d="M41 133L13 98L25 138Z" fill="#aee"/><path d="M41 134A4.2 16.8 -107 1 0 9 143 A4.2 16.8 -107 1 0 41 134Z" fill="#699"/>
<path d="M34 -39L8 -43L19 -19A10.1 13.8 -143 1 0 34 -39Z" fill="#f00"/><path d="M8 -43L19 -19A10.1 13.8 -143 0 0 37 -20Z" fill="#b00"/>
<path d="M-110 138L-109 108L-83 123A11.9 16.8 -118 1 1 -110 138Z" fill="#dff"/><path d="M-109 108L-83 123A11.9 16.8 -118 0 1 -88 145Z" fill="#bee"/>
<path d="M-87 158L-66 121L-54 161A6.3 16.8 -85 1 1 -87 158Z" fill="#9ff"/><path d="M-66 121L-54 161A6.3 16.8 -85 0 1 -71 167Z" fill="#7ee"/>
<path d="M-40 -39L-65 -41L-54 -18A10.4 13.8 -146 1 0 -40 -39Z" fill="#f00"/><path d="M-65 -41L-54 -18A10.4 13.8 -146 0 0 -35 -21Z" fill="#b00"/>
<path d="M-168 -11L-146 -43L-136 -5A8.5 16.8 -80 1 1 -168 -11Z" fill="#fcc"/><path d="M-146 -43L-136 -5A8.5 16.8 -80 0 1 -154 2Z" fill="#e99"/>
<path d="M-152 93L-118 83L-129 116A10.4 16.8 -45 1 1 -152 93Z" fill="#dff"/><path d="M-118 83L-129 116A10.4 16.8 -45 0 1 -150 114Z" fill="#bee"/>
<path d="M125 -11L141 -49L158 -11A7.5 16.8 -90 1 1 125 -11Z" fill="#fcc"/><path d="M141 -49L158 -11A7.5 16.8 -90 0 1 142 -2Z" fill="#eaa"/>
<path d="M-124 91L-114 50L-92 85A6.9 16.8 -99 1 1 -124 91Z" fill="#fdd"/><path d="M-114 50L-92 85A6.9 16.8 -99 0 1 -107 96Z" fill="#ebb"/>
<path d="M-89 107L-76 76L-57 104A10.8 16.8 -96 1 1 -89 107Z" fill="#fee"/><path d="M-76 76L-57 104A10.8 16.8 -96 0 1 -72 120Z" fill="#edd"/>
<path d="M7 90L-21 86L-7 111A9.7 13.8 -147 1 0 7 90Z" fill="#f00"/><path d="M-21 86L-7 111A9.7 13.8 -147 0 0 11 108Z" fill="#b00"/>
<path d="M86 -37L58 -40L71 -16A9.8 13.8 -146 1 0 86 -37Z" fill="#f00"/><path d="M58 -40L71 -16A9.8 13.8 -146 0 0 89 -19Z" fill="#b00"/>
<path d="M-176 67L-169 29L-144 58A8.9 16.8 -104 1 1 -176 67Z" fill="#fee"/><path d="M-169 29L-144 58A8.9 16.8 -104 0 1 -157 73Z" fill="#edd"/>
<path d="M-134 98L-143 53L-105 80A2.3 16.8 -122 1 1 -134 98Z" fill="#eff"/><path d="M-143 53L-105 80A2.3 16.8 -122 0 1 -118 91Z" fill="#dee"/>
<path d="M12 -37L-14 -39L-2 -15A10.1 13.8 -146 1 0 12 -37Z" fill="#f00"/><path d="M-14 -39L-2 -15A10.1 13.8 -146 0 0 17 -18Z" fill="#b00"/>
<path d="M-122 68L-118 24L-90 59A5.2 16.8 -106 1 1 -122 68Z" fill="#fff"/><path d="M-118 24L-90 59A5.2 16.8 -106 0 1 -105 69Z" fill="#eee"/>
<path d="M125 93L137 48L159 89A2 16.8 -96 1 1 125 93Z" fill="#eff"/><path d="M137 48L159 89A2 16.8 -96 0 1 142 93Z" fill="#dee"/>
<path d="M-185 3L-161 -19L-155 13A11.2 16.8 -72 1 1 -185 3Z" fill="#fdd"/><path d="M-161 -19L-155 13A11.2 16.8 -72 0 1 -175 22Z" fill="#ebb"/>
<path d="M-61 -36L-87 -38L-75 -15A10.2 13.8 -147 1 0 -61 -36Z" fill="#f00"/><path d="M-87 -38L-75 -15A10.2 13.8 -147 0 0 -56 -18Z" fill="#b00"/>
<path d="M-45 65L-72 64L-59 87A10.2 13.8 -148 1 0 -45 65Z" fill="#f00"/><path d="M-72 64L-59 87A10.2 13.8 -148 0 0 -40 84Z" fill="#b00"/>
<path d="M-118 112L-100 79L-85 114A9.3 16.8 -87 1 1 -118 112Z" fill="#eff"/><path d="M-100 79L-85 114A9.3 16.8 -87 0 1 -102 125Z" fill="#dee"/>
<path d="M-17 139L-1 100L16 139A6.5 16.8 -90 1 1 -17 139Z" fill="#dff"/><path d="M-1 100L16 139A6.5 16.8 -90 0 1 -0 147Z" fill="#aee"/>
<path d="M57 91L31 89L43 113A10.1 13.8 -147 1 0 57 91Z" fill="#f00"/><path d="M31 89L43 113A10.1 13.8 -147 0 0 62 110Z" fill="#b00"/>
<path d="M-89 149L-72 106L-56 150A1.5 16.8 -89 1 1 -89 149Z" fill="#dff"/><path d="M-72 106L-56 150A1.5 16.8 -89 0 1 -72 151Z" fill="#aee"/>
<path d="M-65 132L-46 103L-34 136A10.5 16.8 -84 1 1 -65 132Z" fill="#dff"/><path d="M-46 103L-34 136A10.5 16.8 -84 0 1 -51 148Z" fill="#aee"/>
<path d="M-178 -3L-175 -49L-162 -8Z" fill="#fdd"/><path d="M-146 -13L-175 -49L-162 -8Z" fill="#ebb"/><path d="M-146 -13A1.6 16.8 -108 1 0 -178 -2 A1.6 16.8 -108 1 0 -146 -13Z" fill="#977"/>
<path d="M153 -8L172 -44L186 -6A7.8 16.8 -86 1 1 153 -8Z" fill="#fbb"/><path d="M172 -44L186 -6A7.8 16.8 -86 0 1 169 2Z" fill="#e88"/>
<path d="M-15 93L-42 90L-30 114A10.1 13.8 -145 1 0 -15 93Z" fill="#f00"/><path d="M-42 90L-30 114A10.1 13.8 -145 0 0 -11 111Z" fill="#b00"/>
<path d="M98 111L111 75L130 108A9.1 16.8 -95 1 1 98 111Z" fill="#eff"/><path d="M111 75L130 108A9.1 16.8 -95 0 1 115 120Z" fill="#dee"/>
<path d="M64 -34L36 -37L50 -13A9.9 13.8 -147 1 0 64 -34Z" fill="#f00"/><path d="M36 -37L50 -13A9.9 13.8 -147 0 0 68 -16Z" fill="#b00"/>
<path d="M-121 99L-102 58L-87 100A4.2 16.8 -88 1 1 -121 99Z" fill="#fff"/><path d="M-102 58L-87 100A4.2 16.8 -88 0 1 -104 104Z" fill="#eee"/>
<path d="M104 -15L121 -48L137 -15A9.8 16.8 -89 1 1 104 -15Z" fill="#fdd"/><path d="M121 -48L137 -15A9.8 16.8 -89 0 1 120 -3Z" fill="#ebb"/>
<path d="M-8 -33L-37 -36L-23 -11A9.7 13.8 -146 1 0 -8 -33Z" fill="#f00"/><path d="M-37 -36L-23 -11A9.7 13.8 -146 0 0 -5 -15Z" fill="#b00"/>
<path d="M-147 40L-146 62L-162 44Z" fill="#fee"/><path d="M-167 59L-146 62L-162 44Z" fill="#edd"/><path d="M-175 55A13.9 16.8 47 1 0 -150 32 A13.9 16.8 47 1 0 -175 55Z" fill="#fdd"/>
<path d="M-114 146L-90 113L-98 151Z" fill="#dff"/><path d="M-82 153L-90 113L-98 151Z" fill="#bee"/><path d="M-82 154A7.8 16.8 -78 1 0 -115 147 A7.8 16.8 -78 1 0 -82 154Z" fill="#799"/>
<path d="M6 69L-20 66L-8 90A10.1 13.8 -145 1 0 6 69Z" fill="#f00"/><path d="M-20 66L-8 90A10.1 13.8 -145 0 0 10 87Z" fill="#b00"/>
<path d="M-82 -32L-109 -35L-96 -11A10 13.8 -146 1 0 -82 -32Z" fill="#f00"/><path d="M-109 -35L-96 -11A10 13.8 -146 0 0 -78 -14Z" fill="#b00"/>
<path d="M-67 69L-93 67L-81 90A10.2 13.8 -147 1 0 -67 69Z" fill="#f00"/><path d="M-93 67L-81 90A10.2 13.8 -147 0 0 -62 87Z" fill="#b00"/>
<path d="M-155 36L-128 73L-139 31Z" fill="#fee"/><path d="M-122 27L-128 73L-139 31Z" fill="#ecc"/><path d="M-155 35A3.4 16.8 76 1 0 -122 27 A3.4 16.8 76 1 0 -155 35Z" fill="#ecc"/>
<path d="M36 95L9 92L21 116A10.2 13.8 -145 1 0 36 95Z" fill="#f00"/><path d="M9 92L21 116A10.2 13.8 -145 0 0 40 114Z" fill="#b00"/>
<path d="M-175 37L-158 10L-144 38A11.6 16.8 -88 1 1 -175 37Z" fill="#fdd"/><path d="M-158 10L-144 38A11.6 16.8 -88 0 1 -160 53Z" fill="#eaa"/>
<path d="M114 -32L88 -34L100 -11A10.2 13.8 -146 1 0 114 -32Z" fill="#f00"/><path d="M88 -34L100 -11A10.2 13.8 -146 0 0 119 -13Z" fill="#b00"/>
<path d="M-172 84L-151 57L-141 89A10.7 16.8 -80 1 1 -172 84Z" fill="#fff"/><path d="M-151 57L-141 89A10.7 16.8 -80 0 1 -159 100Z" fill="#eee"/>
<path d="M130 -10L155 -41L161 -1A8.2 16.8 -74 1 1 130 -10Z" fill="#fcc"/><path d="M155 -41L161 -1A8.2 16.8 -74 0 1 143 4Z" fill="#e99"/>
<path d="M60 126L69 80L77 123Z" fill="#fff"/><path d="M93 120L69 80L77 123Z" fill="#eee"/><path d="M93 120A1.6 16.8 -101 1 0 60 126 A1.6 16.8 -101 1 0 93 120Z" fill="#899"/>
<path d="M-44 45L-72 42L-59 67A10 13.8 -145 1 0 -44 45Z" fill="#f00"/><path d="M-72 42L-59 67A10 13.8 -145 0 0 -40 64Z" fill="#b00"/>
<path d="M-32 136L-29 111L-6 123A13.2 16.8 -118 1 1 -32 136Z" fill="#cff"/><path d="M-29 111L-6 123A13.2 16.8 -118 0 1 -10 147Z" fill="#9ee"/>
<path d="M-38 95L-64 95L-50 117A10.3 13.8 -151 1 0 -38 95Z" fill="#f00"/><path d="M-64 95L-50 117A10.3 13.8 -151 0 0 -32 113Z" fill="#b00"/>
<path d="M43 -30L15 -34L28 -9A9.8 13.8 -144 1 0 43 -30Z" fill="#f00"/><path d="M15 -34L28 -9A9.8 13.8 -144 0 0 46 -12Z" fill="#b00"/>
<path d="M32 135L41 113L60 129A13.4 16.8 -103 1 1 32 135Z" fill="#cff"/><path d="M41 113L60 129A13.4 16.8 -103 0 1 50 152Z" fill="#aee"/>
<path d="M57 71L32 68L42 91A10.5 13.8 -143 1 0 57 71Z" fill="#f00"/><path d="M32 68L42 91A10.5 13.8 -143 0 0 61 90Z" fill="#b00"/>
<path d="M-88 156L-43 146L-79 170Z" fill="#7ff"/><path d="M-70 184L-43 146L-79 170Z" fill="#4ee"/>
<path d="M-31 -30L-58 -32L-45 -9A10.1 13.8 -147 1 0 -31 -30Z" fill="#f00"/><path d="M-58 -32L-45 -9A10.1 13.8 -147 0 0 -26 -12Z" fill="#b00"/>
<path d="M-15 72L-43 69L-28 94A9.8 13.8 -148 1 0 -15 72Z" fill="#f00"/><path d="M-43 69L-28 94A9.8 13.8 -148 0 0 -10 90Z" fill="#b00"/>
<path d="M-179 23L-159 -18L-145 25A4.2 16.8 -86 1 1 -179 23Z" fill="#fdd"/><path d="M-159 -18L-145 25A4.2 16.8 -86 0 1 -162 29Z" fill="#ecc"/>
<path d="M90 148L98 103L123 142A3.3 16.8 -101 1 1 90 148Z" fill="#fff"/><path d="M98 103L123 142A3.3 16.8 -101 0 1 107 148Z" fill="#eee"/>
<path d="M-43 161L-51 115L-29 152Z" fill="#9ff"/><path d="M-15 143L-51 115L-29 152Z" fill="#7ee"/><path d="M-15 143A2.9 16.8 -122 1 0 -43 161 A2.9 16.8 -122 1 0 -15 143Z" fill="#499"/>
<path d="M-103 -29L-130 -32L-118 -8A10 13.8 -144 1 0 -103 -29Z" fill="#f00"/><path d="M-130 -32L-118 -8A10 13.8 -144 0 0 -100 -10Z" fill="#b00"/>
<path d="M-6 172L0 131L26 164A7.2 16.8 -105 1 1 -6 172Z" fill="#8ff"/><path d="M0 131L26 164A7.2 16.8 -105 0 1 12 177Z" fill="#5ee"/>
<path d="M-95 22L-123 19L-110 44A9.8 13.8 -146 1 0 -95 22Z" fill="#f00"/><path d="M-123 19L-110 44A9.8 13.8 -146 0 0 -91 40Z" fill="#b00"/>
<path d="M7 48L-21 45L-7 69A9.9 13.8 -146 1 0 7 48Z" fill="#f00"/><path d="M-21 45L-7 69A9.9 13.8 -146 0 0 11 66Z" fill="#b00"/>
<path d="M14 98L-13 96L0 120A10 13.8 -147 1 0 14 98Z" fill="#f00"/><path d="M-13 96L0 120A10 13.8 -147 0 0 19 117Z" fill="#b00"/>
<path d="M92 -28L67 -31L77 -8A10.5 13.8 -145 1 0 92 -28Z" fill="#f00"/><path d="M67 -31L77 -8A10.5 13.8 -145 0 0 97 -10Z" fill="#b00"/>
<path d="M9 131L36 118L35 147A12.1 16.8 -58 1 1 9 131Z" fill="#cff"/><path d="M36 118L35 147A12.1 16.8 -58 0 1 14 154Z" fill="#aee"/>
<path d="M-67 48L-93 46L-81 69A10.4 13.8 -145 1 0 -67 48Z" fill="#f00"/><path d="M-93 46L-81 69A10.4 13.8 -145 0 0 -62 67Z" fill="#b00"/>
<path d="M81 100L105 123L95 92Z" fill="#eff"/><path d="M111 91L105 123L95 92Z" fill="#dee"/><path d="M79 97A11.3 16.8 72 1 0 111 87 A11.3 16.8 72 1 0 79 97Z" fill="#dff"/>
<path d="M20 -27L-6 -30L5 -6A10.2 13.8 -146 1 0 20 -27Z" fill="#f00"/><path d="M-6 -30L5 -6A10.2 13.8 -146 0 0 24 -9Z" fill="#b00"/>
<path d="M-158 -17L-135 -36L-129 -7A12.1 16.8 -72 1 1 -158 -17Z" fill="#fcc"/><path d="M-135 -36L-129 -7A12.1 16.8 -72 0 1 -149 4Z" fill="#e99"/>
<path d="M36 75L9 71L21 95A10.1 13.8 -144 1 0 36 75Z" fill="#f00"/><path d="M9 71L21 95A10.1 13.8 -144 0 0 40 93Z" fill="#b00"/>
<path d="M64 151L84 109L97 154A0.6 16.8 -86 1 1 64 151Z" fill="#fee"/><path d="M84 109L97 154A0.6 16.8 -86 0 1 81 153Z" fill="#edd"/>
<path d="M152 63L176 39L183 72A10.9 16.8 -73 1 1 152 63Z" fill="#fff"/><path d="M176 39L183 72A10.9 16.8 -73 0 1 164 81Z" fill="#eee"/>
<path d="M117 -1L127 -39L149 -7A8.9 16.8 -101 1 1 117 -1Z" fill="#fee"/><path d="M127 -39L149 -7A8.9 16.8 -101 0 1 135 6Z" fill="#edd"/>
<path d="M-52 -26L-79 -30L-67 -5A10 13.8 -144 1 0 -52 -26Z" fill="#f00"/><path d="M-79 -30L-67 -5A10 13.8 -144 0 0 -49 -8Z" fill="#b00"/>
<path d="M-44 25L-71 21L-59 46A10.1 13.8 -144 1 0 -44 25Z" fill="#f00"/><path d="M-71 21L-59 46A10.1 13.8 -144 0 0 -41 43Z" fill="#b00"/>
<path d="M-37 76L-63 72L-52 96A10.2 13.8 -143 1 0 -37 76Z" fill="#f00"/><path d="M-63 72L-52 96A10.2 13.8 -143 0 0 -33 94Z" fill="#b00"/>
<path d="M58 51L31 47L43 71A10.1 13.8 -144 1 0 58 51Z" fill="#f00"/><path d="M31 47L43 71A10.1 13.8 -144 0 0 61 69Z" fill="#b00"/>
<path d="M66 102L39 98L51 122A10 13.8 -143 1 0 66 102Z" fill="#f00"/><path d="M39 98L51 122A10 13.8 -143 0 0 69 120Z" fill="#b00"/>
<path d="M111 115L127 85L143 115A10.6 16.8 -90 1 1 111 115Z" fill="#fff"/><path d="M127 85L143 115A10.6 16.8 -90 0 1 127 129Z" fill="#eee"/>
<path d="M32 134L74 118L43 147Z" fill="#9ff"/><path d="M54 159L74 118L43 147Z" fill="#6ee"/><path d="M54 159A4.5 16.8 -43 1 0 31 134 A4.5 16.8 -43 1 0 54 159Z" fill="#4aa"/>
<path d="M-124 158L-121 115L-93 147A6.3 16.8 -108 1 1 -124 158Z" fill="#cff"/><path d="M-121 115L-93 147A6.3 16.8 -108 0 1 -106 159Z" fill="#9ee"/>
<path d="M-140 47L-140 11L-111 33A10 16.8 -115 1 1 -140 47Z" fill="#fdd"/><path d="M-140 11L-111 33A10 16.8 -115 0 1 -120 52Z" fill="#ecc"/>
<path d="M-181 4L-166 -38L-147 3A4.9 16.8 -93 1 1 -181 4Z" fill="#fdd"/><path d="M-166 -38L-147 3A4.9 16.8 -93 0 1 -164 9Z" fill="#ebb"/>
<path d="M-16 50L-41 49L-30 71A10.5 13.8 -146 1 0 -16 50Z" fill="#f00"/><path d="M-41 49L-30 71A10.5 13.8 -146 0 0 -11 69Z" fill="#b00"/>
<path d="M71 -25L45 -28L57 -4A10.1 13.8 -145 1 0 71 -25Z" fill="#f00"/><path d="M45 -28L57 -4A10.1 13.8 -145 0 0 75 -6Z" fill="#b00"/>
<path d="M87 77L61 74L71 97A10.4 13.8 -143 1 0 87 77Z" fill="#f00"/><path d="M61 74L71 97A10.4 13.8 -143 0 0 91 96Z" fill="#b00"/>
<path d="M-96 1L-122 -2L-110 22A10.1 13.8 -145 1 0 -96 1Z" fill="#f00"/><path d="M-122 -2L-110 22A10.1 13.8 -145 0 0 -92 20Z" fill="#b00"/>
<path d="M-89 51L-115 50L-102 73A10.3 13.8 -149 1 0 -89 51Z" fill="#f00"/><path d="M-115 50L-102 73A10.3 13.8 -149 0 0 -83 69Z" fill="#b00"/>
<path d="M-1 -24L-29 -27L-15 -2A9.9 13.8 -146 1 0 -1 -24Z" fill="#f00"/><path d="M-29 -27L-15 -2A9.9 13.8 -146 0 0 3 -6Z" fill="#b00"/>
<path d="M7 27L-20 24L-8 48A10.1 13.8 -146 1 0 7 27Z" fill="#f00"/><path d="M-20 24L-8 48A10.1 13.8 -146 0 0 11 45Z" fill="#b00"/>
<path d="M14 78L-12 75L-1 98A10.4 13.8 -144 1 0 14 78Z" fill="#f00"/><path d="M-12 75L-1 98A10.4 13.8 -144 0 0 18 96Z" fill="#b00"/>
<path d="M-7 148L4 118L24 143A11.5 16.8 -99 1 1 -7 148Z" fill="#aff"/><path d="M4 118L24 143A11.5 16.8 -99 0 1 11 161Z" fill="#8ee"/>
<path d="M108 105L127 65L141 108A4.4 16.8 -86 1 1 108 105Z" fill="#fee"/><path d="M127 65L141 108A4.4 16.8 -86 0 1 124 111Z" fill="#edd"/>
<path d="M-73 -22L-101 -27L-89 -2A9.9 13.8 -142 1 0 -73 -22Z" fill="#f00"/><path d="M-101 -27L-89 -2A9.9 13.8 -142 0 0 -71 -4Z" fill="#b00"/>
<path d="M-66 27L-94 25L-80 49A9.8 13.8 -148 1 0 -66 27Z" fill="#f00"/><path d="M-94 25L-80 49A9.8 13.8 -148 0 0 -62 45Z" fill="#b00"/>
<path d="M-165 56L-159 14L-133 48A6.6 16.8 -104 1 1 -165 56Z" fill="#fcc"/><path d="M-159 14L-133 48A6.6 16.8 -104 0 1 -148 59Z" fill="#e99"/>
<path d="M-84 141L-59 116L-53 150A10.3 16.8 -74 1 1 -84 141Z" fill="#9ff"/><path d="M-59 116L-53 150A10.3 16.8 -74 0 1 -72 159Z" fill="#7ee"/>
<path d="M36 54L10 51L21 74A10.2 13.8 -144 1 0 36 54Z" fill="#f00"/><path d="M10 51L21 74A10.2 13.8 -144 0 0 40 72Z" fill="#b00"/>
<path d="M-146 20L-124 -12L-114 26A8.7 16.8 -81 1 1 -146 20Z" fill="#fee"/><path d="M-124 -12L-114 26A8.7 16.8 -81 0 1 -132 34Z" fill="#edd"/>
<path d="M122 -22L96 -25L108 -1A10.2 13.8 -146 1 0 122 -22Z" fill="#f00"/><path d="M96 -25L108 -1A10.2 13.8 -146 0 0 127 -4Z" fill="#b00"/>
<path d="M0 128L-29 124L-18 152A12.1 16.8 -142 1 0 0 128Z" fill="#cff"/><path d="M-29 124L-18 152A12.1 16.8 -142 0 0 4 150Z" fill="#8ee"/>
<path d="M-36 55L-64 51L-51 76A9.9 13.8 -144 1 0 -36 55Z" fill="#f00"/><path d="M-64 51L-51 76A9.9 13.8 -144 0 0 -33 73Z" fill="#b00"/>
<path d="M-45 4L-71 0L-60 24A10.3 13.8 -143 1 0 -45 4Z" fill="#f00"/><path d="M-71 0L-60 24A10.3 13.8 -143 0 0 -41 23Z" fill="#b00"/>
<path d="M144 47L177 15L174 62A2 16.8 -64 1 1 144 47Z" fill="#fee"/><path d="M177 15L174 62A2 16.8 -64 0 1 158 56Z" fill="#ecc"/>
<path d="M50 -21L22 -25L36 0A9.8 13.8 -146 1 0 50 -21Z" fill="#f00"/><path d="M22 -25L36 0A9.8 13.8 -146 0 0 54 -3Z" fill="#b00"/>
<path d="M57 29L31 27L43 50A10.2 13.8 -146 1 0 57 29Z" fill="#f00"/><path d="M31 27L43 50A10.2 13.8 -146 0 0 62 48Z" fill="#b00"/>
<path d="M-66 192L-71 146L-51 185Z" fill="#7ff"/><path d="M-36 177L-71 146L-51 185Z" fill="#4ee"/>
<path d="M65 80L38 78L51 101A10.1 13.8 -147 1 0 65 80Z" fill="#f00"/><path d="M38 78L51 101A10.1 13.8 -147 0 0 70 98Z" fill="#b00"/>
<path d="M110 169L100 126L137 150A4.9 16.8 -125 1 1 110 169Z" fill="#eff"/><path d="M100 126L137 150A4.9 16.8 -125 0 1 127 164Z" fill="#dee"/>
<path d="M-48 167L-44 121L-32 162Z" fill="#dff"/><path d="M-16 157L-44 121L-32 162Z" fill="#aee"/><path d="M-15 157A3.4 16.8 -107 1 0 -48 167 A3.4 16.8 -107 1 0 -15 157Z" fill="#699"/>
<path d="M112 86L118 40L144 78A0.6 16.8 -103 1 1 112 86Z" fill="#fee"/><path d="M118 40L144 78A0.6 16.8 -103 0 1 128 82Z" fill="#ecc"/>
<path d="M147 6L154 -32L178 -1A8.9 16.8 -103 1 1 147 6Z" fill="#fbb"/><path d="M154 -32L178 -1A8.9 16.8 -103 0 1 165 13Z" fill="#e88"/>
<path d="M-23 -21L-50 -23L-37 0A10.1 13.8 -147 1 0 -23 -21Z" fill="#f00"/><path d="M-50 -23L-37 0A10.1 13.8 -147 0 0 -19 -3Z" fill="#b00"/>
<path d="M-16 30L-42 28L-30 51A10.3 13.8 -145 1 0 -16 30Z" fill="#f00"/><path d="M-42 28L-30 51A10.3 13.8 -145 0 0 -11 49Z" fill="#b00"/>
<path d="M87 56L60 53L73 77A10.2 13.8 -146 1 0 87 56Z" fill="#f00"/><path d="M60 53L73 77A10.2 13.8 -146 0 0 91 74Z" fill="#b00"/>
<path d="M129 74L146 40L162 75A9.3 16.8 -88 1 1 129 74Z" fill="#eff"/><path d="M146 40L162 75A9.3 16.8 -88 0 1 145 86Z" fill="#dee"/>
<path d="M-177 23L-152 -4L-146 33A9.4 16.8 -74 1 1 -177 23Z" fill="#fee"/><path d="M-152 -4L-146 33A9.4 16.8 -74 0 1 -165 39Z" fill="#ecc"/>
<path d="M-96 -20L-122 -23L-110 1A10.2 13.8 -146 1 0 -96 -20Z" fill="#f00"/><path d="M-122 -23L-110 1A10.2 13.8 -146 0 0 -92 -1Z" fill="#b00"/>
<path d="M-106 153L-81 119L-74 160A7.2 16.8 -76 1 1 -106 153Z" fill="#9ff"/><path d="M-81 119L-74 160A7.2 16.8 -76 0 1 -92 165Z" fill="#6ee"/>
<path d="M-88 31L-114 28L-103 52A10.2 13.8 -146 1 0 -88 31Z" fill="#f00"/><path d="M-114 28L-103 52A10.2 13.8 -146 0 0 -84 49Z" fill="#b00"/>
<path d="M24 127L-0 142L29 142Z" fill="#aff"/><path d="M24 157L-0 142L29 142Z" fill="#8ee"/><path d="M29 125A12.4 16.8 179 1 0 30 158 A12.4 16.8 179 1 0 29 125Z" fill="#5aa"/>
<path d="M138 109L154 70L171 108A7 16.8 -92 1 1 138 109Z" fill="#fee"/><path d="M154 70L171 108A7 16.8 -92 0 1 155 117Z" fill="#edd"/>
<path d="M6 6L-20 3L-8 27A10.3 13.8 -146 1 0 6 6Z" fill="#f00"/><path d="M-20 3L-8 27A10.3 13.8 -146 0 0 11 24Z" fill="#b00"/>
<path d="M14 57L-12 54L-1 78A10.2 13.8 -144 1 0 14 57Z" fill="#f00"/><path d="M-12 54L-1 78A10.2 13.8 -144 0 0 18 76Z" fill="#b00"/>
<path d="M93 101L103 73L123 95A12 16.8 -103 1 1 93 101Z" fill="#eff"/><path d="M103 73L123 95A12 16.8 -103 0 1 112 114Z" fill="#dee"/>
<path d="M101 -19L74 -22L87 2A9.9 13.8 -145 1 0 101 -19Z" fill="#f00"/><path d="M74 -22L87 2A9.9 13.8 -145 0 0 105 -0Z" fill="#b00"/>
<path d="M115 136L130 92L149 134A2 16.8 -93 1 1 115 136Z" fill="#eff"/><path d="M130 92L149 134A2 16.8 -93 0 1 132 137Z" fill="#dee"/>
<path d="M125 5L142 -35L158 5A5.6 16.8 -89 1 1 125 5Z" fill="#fee"/><path d="M142 -35L158 5A5.6 16.8 -89 0 1 142 12Z" fill="#edd"/>
<path d="M67 125L77 98L97 120A12.3 16.8 -101 1 1 67 125Z" fill="#fee"/><path d="M77 98L97 120A12.3 16.8 -101 0 1 85 140Z" fill="#edd"/>
<path d="M-67 6L-93 5L-80 28A10.3 13.8 -148 1 0 -67 6Z" fill="#f00"/><path d="M-93 5L-80 28A10.3 13.8 -148 0 0 -62 24Z" fill="#b00"/>
<path d="M44 181L75 150L75 194A5.5 16.8 -68 1 1 44 181Z" fill="#eff"/><path d="M75 150L75 194A5.5 16.8 -68 0 1 57 193Z" fill="#dee"/>
<path d="M67 158L89 121L100 163A5.7 16.8 -82 1 1 67 158Z" fill="#eff"/><path d="M89 121L100 163A5.7 16.8 -82 0 1 82 167Z" fill="#dee"/>
<path d="M28 -18L2 -21L13 3A10.1 13.8 -144 1 0 28 -18Z" fill="#f00"/><path d="M2 -21L13 3A10.1 13.8 -144 0 0 32 1Z" fill="#b00"/>
<path d="M36 32L9 30L22 54A10.1 13.8 -146 1 0 36 32Z" fill="#f00"/><path d="M9 30L22 54A10.1 13.8 -146 0 0 40 51Z" fill="#b00"/>
<path d="M17 151L45 120L48 162A7.2 16.8 -72 1 1 17 151Z" fill="#dff"/><path d="M45 120L48 162A7.2 16.8 -72 0 1 30 165Z" fill="#bee"/>
<path d="M-72 165L-67 122L-55 161Z" fill="#8ff"/><path d="M-40 156L-67 122L-55 161Z" fill="#5ee"/><path d="M-39 157A5.6 16.8 -106 1 0 -72 166 A5.6 16.8 -106 1 0 -39 157Z" fill="#399"/>
<path d="M-44 -17L-72 -20L-59 4A10 13.8 -145 1 0 -44 -17Z" fill="#f00"/><path d="M-72 -20L-59 4A10 13.8 -145 0 0 -41 1Z" fill="#b00"/>
<path d="M-36 34L-64 30L-51 55A9.9 13.8 -144 1 0 -36 34Z" fill="#f00"/><path d="M-64 30L-51 55A9.9 13.8 -144 0 0 -33 52Z" fill="#b00"/>
<path d="M-124 157L-111 115L-91 153A5.8 16.8 -96 1 1 -124 157Z" fill="#cff"/><path d="M-111 115L-91 153A5.8 16.8 -96 0 1 -107 162Z" fill="#aee"/>
<path d="M58 9L30 6L44 30A9.6 13.8 -147 1 0 58 9Z" fill="#f00"/><path d="M30 6L44 30A9.6 13.8 -147 0 0 62 27Z" fill="#b00"/>
<path d="M65 59L39 57L51 80A10.3 13.8 -147 1 0 65 59Z" fill="#f00"/><path d="M39 57L51 80A10.3 13.8 -147 0 0 70 77Z" fill="#b00"/>
<path d="M-149 -1L-125 -29L-117 7A9.6 16.8 -76 1 1 -149 -1Z" fill="#fdd"/><path d="M-125 -29L-117 7A9.6 16.8 -76 0 1 -136 15Z" fill="#ecc"/>
<path d="M-15 10L-42 6L-30 31A9.9 13.8 -144 1 0 -15 10Z" fill="#f00"/><path d="M-42 6L-30 31A9.9 13.8 -144 0 0 -11 28Z" fill="#b00"/>
<path d="M80 -15L52 -19L64 6A10 13.8 -144 1 0 80 -15Z" fill="#f00"/><path d="M52 -19L64 6A10 13.8 -144 0 0 83 3Z" fill="#b00"/>
<path d="M87 35L60 32L72 56A10 13.8 -145 1 0 87 35Z" fill="#f00"/><path d="M60 32L72 56A10 13.8 -145 0 0 91 54Z" fill="#b00"/>
<path d="M95 86L69 83L80 107A10.2 13.8 -143 1 0 95 86Z" fill="#f00"/><path d="M69 83L80 107A10.2 13.8 -143 0 0 99 105Z" fill="#b00"/>
<path d="M135 53L158 94L169 49A0.7 16.8 83 1 0 135 53Z" fill="#fff"/><path d="M158 94L169 49A0.7 16.8 83 0 0 152 50Z" fill="#eee"/>
<path d="M-88 11L-114 7L-103 31A10.1 13.8 -143 1 0 -88 11Z" fill="#f00"/><path d="M-114 7L-103 31A10.1 13.8 -143 0 0 -84 30Z" fill="#b00"/>
<path d="M121 114L126 72L153 106A6.2 16.8 -106 1 1 121 114Z" fill="#eff"/><path d="M126 72L153 106A6.2 16.8 -106 0 1 138 117Z" fill="#dee"/>
<path d="M-169 9L-154 -33L-136 8A5 16.8 -93 1 1 -169 9Z" fill="#fcc"/><path d="M-154 -33L-136 8A5 16.8 -93 0 1 -152 14Z" fill="#eaa"/>
<path d="M6 -15L-20 -18L-9 6A10.3 13.8 -144 1 0 6 -15Z" fill="#f00"/><path d="M-20 -18L-9 6A10.3 13.8 -144 0 0 10 4Z" fill="#b00"/>
<path d="M34 187L40 150L65 178A9.3 16.8 -106 1 1 34 187Z" fill="#7ff"/><path d="M40 150L65 178A9.3 16.8 -106 0 1 53 194Z" fill="#4ee"/>
<path d="M14 36L-12 33L-1 57A10.3 13.8 -144 1 0 14 36Z" fill="#f00"/><path d="M-12 33L-1 57A10.3 13.8 -144 0 0 18 55Z" fill="#b00"/>
<path d="M116 62L90 59L102 83A10.3 13.8 -145 1 0 116 62Z" fill="#f00"/><path d="M90 59L102 83A10.3 13.8 -145 0 0 120 80Z" fill="#b00"/>
<path d="M15 194L20 149L31 191Z" fill="#aff"/><path d="M47 186L20 149L31 191Z" fill="#8ee"/><path d="M47 186A3.1 16.8 -104 1 0 15 195 A3.1 16.8 -104 1 0 47 186Z" fill="#599"/>
<path d="M-66 -14L-93 -17L-81 7A10.2 13.8 -146 1 0 -66 -14Z" fill="#f00"/><path d="M-93 -17L-81 7A10.2 13.8 -146 0 0 -62 4Z" fill="#b00"/>
<path d="M36 12L9 9L22 33A9.9 13.8 -145 1 0 36 12Z" fill="#f00"/><path d="M9 9L22 33A9.9 13.8 -145 0 0 40 30Z" fill="#b00"/>
<path d="M-21 166L-7 123L13 164A4.7 16.8 -94 1 1 -21 166Z" fill="#aff"/><path d="M-7 123L13 164A4.7 16.8 -94 0 1 -4 170Z" fill="#8ee"/>
<path d="M129 -14L104 -15L116 7A10.4 13.8 -148 1 0 129 -14Z" fill="#f00"/><path d="M104 -15L116 7A10.4 13.8 -148 0 0 135 4Z" fill="#b00"/>
<path d="M138 38L112 35L123 58A10.3 13.8 -145 1 0 138 38Z" fill="#f00"/><path d="M112 35L123 58A10.3 13.8 -145 0 0 142 56Z" fill="#b00"/>
<path d="M153 16L163 -26L186 11A5.7 16.8 -99 1 1 153 16Z" fill="#fff"/><path d="M163 -26L186 11A5.7 16.8 -99 0 1 170 20Z" fill="#eee"/>
<path d="M-37 13L-62 10L-53 33A10.5 13.8 -142 1 0 -37 13Z" fill="#f00"/><path d="M-62 10L-53 33A10.5 13.8 -142 0 0 -34 32Z" fill="#b00"/>
<path d="M28 169L49 127L61 172A0.6 16.8 -85 1 1 28 169Z" fill="#aff"/><path d="M49 127L61 172A0.6 16.8 -85 0 1 45 171Z" fill="#7ee"/>
<path d="M-44 179L-16 156L-15 192A10 16.8 -65 1 1 -44 179Z" fill="#8ff"/><path d="M-16 156L-15 192A10 16.8 -65 0 1 -35 197Z" fill="#5ee"/>
<path d="M55 168L60 128L86 159A7.9 16.8 -107 1 1 55 168Z" fill="#dff"/><path d="M60 128L86 159A7.9 16.8 -107 0 1 73 173Z" fill="#aee"/>
<path d="M58 -12L31 -15L43 9A10.2 13.8 -144 1 0 58 -12Z" fill="#f00"/><path d="M31 -15L43 9A10.2 13.8 -144 0 0 61 6Z" fill="#b00"/>
<path d="M66 38L38 36L51 60A10 13.8 -146 1 0 66 38Z" fill="#f00"/><path d="M38 36L51 60A10 13.8 -146 0 0 70 57Z" fill="#b00"/>
<path d="M160 62L179 28L192 65A8.5 16.8 -85 1 1 160 62Z" fill="#fff"/><path d="M179 28L192 65A8.5 16.8 -85 0 1 175 74Z" fill="#eee"/>
<path d="M-81 175L-88 129L-52 159A1.9 16.8 -120 1 1 -81 175Z" fill="#8ff"/><path d="M-88 129L-52 159A1.9 16.8 -120 0 1 -66 169Z" fill="#5ee"/>
<path d="M-16 -12L-42 -14L-30 9A10.4 13.8 -145 1 0 -16 -12Z" fill="#f00"/><path d="M-42 -14L-30 9A10.4 13.8 -145 0 0 -11 7Z" fill="#b00"/>
<path d="M13 168L20 134L29 167Z" fill="#8ff"/><path d="M44 160L20 134L29 167Z" fill="#5ee"/><path d="M45 162A10.3 16.8 -106 1 0 13 172 A10.3 16.8 -106 1 0 45 162Z" fill="#399"/>
<path d="M87 14L60 12L72 35A10.2 13.8 -146 1 0 87 14Z" fill="#f00"/><path d="M60 12L72 35A10.2 13.8 -146 0 0 91 33Z" fill="#b00"/>
<path d="M95 66L68 62L80 86A10.1 13.8 -143 1 0 95 66Z" fill="#f00"/><path d="M68 62L80 86A10.1 13.8 -143 0 0 99 84Z" fill="#b00"/>
<path d="M-125 159L-95 123L-109 164Z" fill="#aff"/><path d="M-93 170L-95 123L-109 164Z" fill="#7ee"/>
<path d="M-25 174L-68 161L-46 200A4.8 16.8 -142 1 0 -25 174Z" fill="#9ff"/><path d="M-68 161L-46 200A4.8 16.8 -142 0 0 -32 190Z" fill="#6ee"/>
<path d="M-88 -10L-114 -14L-104 10A10.4 13.8 -143 1 0 -88 -10Z" fill="#f00"/><path d="M-114 -14L-104 10A10.4 13.8 -143 0 0 -84 8Z" fill="#b00"/>
<path d="M110 85L136 54L142 94A8 16.8 -74 1 1 110 85Z" fill="#eff"/><path d="M136 54L142 94A8 16.8 -74 0 1 123 99Z" fill="#dee"/>
<path d="M14 15L-13 12L0 36A10 13.8 -147 1 0 14 15Z" fill="#f00"/><path d="M-13 12L0 36A10 13.8 -147 0 0 19 33Z" fill="#b00"/>
<path d="M109 -10L82 -13L94 11A10.1 13.8 -145 1 0 109 -10Z" fill="#f00"/><path d="M82 -13L94 11A10.1 13.8 -145 0 0 113 9Z" fill="#b00"/>
<path d="M117 41L90 38L102 62A10.1 13.8 -145 1 0 117 41Z" fill="#f00"/><path d="M90 38L102 62A10.1 13.8 -145 0 0 121 59Z" fill="#b00"/>
<path d="M133 65L145 25L166 61A6.5 16.8 -97 1 1 133 65Z" fill="#fff"/><path d="M145 25L166 61A6.5 16.8 -97 0 1 151 71Z" fill="#eee"/>
<path d="M36 -9L10 -12L21 12A10.3 13.8 -144 1 0 36 -9Z" fill="#f00"/><path d="M10 -12L21 12A10.3 13.8 -144 0 0 40 10Z" fill="#b00"/>
<path d="M138 17L111 14L124 38A10.1 13.8 -145 1 0 138 17Z" fill="#f00"/><path d="M111 14L124 38A10.1 13.8 -145 0 0 142 35Z" fill="#b00"/>
<path d="M-37 -8L-64 -11L-51 13A10.2 13.8 -146 1 0 -37 -8Z" fill="#f00"/><path d="M-64 -11L-51 13A10.2 13.8 -146 0 0 -32 10Z" fill="#b00"/>
<path d="M-7 196L-10 163L20 179A11 16.8 -124 1 1 -7 196Z" fill="#8ff"/><path d="M-10 163L20 179A11 16.8 -124 0 1 14 200Z" fill="#4ee"/>
<path d="M-21 135L-44 149L-22 165A12.8 16.8 -177 1 0 -21 135Z" fill="#9ff"/><path d="M-44 149L-22 165A12.8 16.8 -177 0 0 -3 151Z" fill="#6ee"/>
<path d="M65 18L39 15L50 38A10.3 13.8 -143 1 0 65 18Z" fill="#f00"/><path d="M39 15L50 38A10.3 13.8 -143 0 0 69 37Z" fill="#b00"/>
<path d="M124 11L150 -21L156 19A7.8 16.8 -75 1 1 124 11Z" fill="#fdd"/><path d="M150 -21L156 19A7.8 16.8 -75 0 1 138 24Z" fill="#eaa"/>
<path d="M3 179L-37 163L-19 203A5.9 16.8 -137 1 0 3 179Z" fill="#8ff"/><path d="M-37 163L-19 203A5.9 16.8 -137 0 0 -3 195Z" fill="#5ee"/>
<path d="M87 -7L60 -9L73 15A10.1 13.8 -146 1 0 87 -7Z" fill="#f00"/><path d="M60 -9L73 15A10.1 13.8 -146 0 0 91 12Z" fill="#b00"/>
<path d="M61 170L71 140L92 164A11.4 16.8 -102 1 1 61 170Z" fill="#dff"/><path d="M71 140L92 164A11.4 16.8 -102 0 1 80 182Z" fill="#cee"/>
<path d="M95 44L68 42L81 66A10 13.8 -148 1 0 95 44Z" fill="#f00"/><path d="M68 42L81 66A10 13.8 -148 0 0 100 62Z" fill="#b00"/>
<path d="M-60 168L-50 131L-28 162A9.1 16.8 -100 1 1 -60 168Z" fill="#8ff"/><path d="M-50 131L-28 162A9.1 16.8 -100 0 1 -43 176Z" fill="#5ee"/>
<path d="M85 172L85 134L114 159A9.1 16.8 -114 1 1 85 172Z" fill="#fee"/><path d="M85 134L114 159A9.1 16.8 -114 0 1 104 176Z" fill="#edd"/>
<path d="M14 -6L-12 -8L-0 15A10.2 13.8 -146 1 0 14 -6Z" fill="#f00"/><path d="M-12 -8L-0 15A10.2 13.8 -146 0 0 19 13Z" fill="#b00"/>
<path d="M116 20L90 18L102 41A10.3 13.8 -146 1 0 116 20Z" fill="#f00"/><path d="M90 18L102 41A10.3 13.8 -146 0 0 121 38Z" fill="#b00"/>
<path d="M157 29L175 3L188 32A11.3 16.8 -85 1 1 157 29Z" fill="#fee"/><path d="M175 3L188 32A11.3 16.8 -85 0 1 171 46Z" fill="#edd"/>
<path d="M117 64L137 36L149 69A10.4 16.8 -81 1 1 117 64Z" fill="#fee"/><path d="M137 36L149 69A10.4 16.8 -81 0 1 131 80Z" fill="#edd"/>
<path d="M133 47L153 7L166 50A5 16.8 -85 1 1 133 47Z" fill="#fee"/><path d="M153 7L166 50A5 16.8 -85 0 1 149 54Z" fill="#edd"/>
<path d="M138 -4L111 -7L123 17A10.2 13.8 -145 1 0 138 -4Z" fill="#f00"/><path d="M111 -7L123 17A10.2 13.8 -145 0 0 142 14Z" fill="#b00"/>
<path d="M-43 164L-4 139L-29 173Z" fill="#9ff"/><path d="M-16 183L-4 139L-29 173Z" fill="#6ee"/><path d="M-16 183A3.1 16.8 -54 1 0 -43 164 A3.1 16.8 -54 1 0 -16 183Z" fill="#499"/>
<path d="M65 -4L38 -6L51 18A10 13.8 -147 1 0 65 -4Z" fill="#f00"/><path d="M38 -6L51 18A10 13.8 -147 0 0 70 15Z" fill="#b00"/>
<path d="M19 149L-11 142L-2 172A11.8 16.8 -137 1 0 19 149Z" fill="#9ff"/><path d="M-11 142L-2 172A11.8 16.8 -137 0 0 20 171Z" fill="#6ee"/>
<path d="M31 158L69 140L56 180A7.3 16.8 -48 1 1 31 158Z" fill="#8ff"/><path d="M69 140L56 180A7.3 16.8 -48 0 1 38 175Z" fill="#5ee"/>
<path d="M95 23L68 21L80 44A10.2 13.8 -145 1 0 95 23Z" fill="#f00"/><path d="M68 21L80 44A10.2 13.8 -145 0 0 99 42Z" fill="#b00"/>
<path d="M-91 155L-55 144L-69 179A9.1 16.8 -42 1 1 -91 155Z" fill="#7ff"/><path d="M-55 144L-69 179A9.1 16.8 -42 0 1 -89 175Z" fill="#4ee"/>
<path d="M162 19L170 -16L193 12A10 16.8 -103 1 1 162 19Z" fill="#fdd"/><path d="M170 -16L193 12A10 16.8 -103 0 1 180 28Z" fill="#ebb"/>
<path d="M117 -1L89 -4L102 21A10 13.8 -146 1 0 117 -1Z" fill="#f00"/><path d="M89 -4L102 21A10 13.8 -146 0 0 121 17Z" fill="#b00"/>
<path d="M140 13L155 -12L171 13A12.2 16.8 -90 1 1 140 13Z" fill="#fdd"/><path d="M155 -12L171 13A12.2 16.8 -90 0 1 155 30Z" fill="#ebb"/>
<path d="M108 42L135 7L140 52A5 16.8 -74 1 1 108 42Z" fill="#fff"/><path d="M135 7L140 52A5 16.8 -74 0 1 122 52Z" fill="#eee"/>
<path d="M95 2L68 -0L80 24A10.2 13.8 -146 1 0 95 2Z" fill="#f00"/><path d="M68 -0L80 24A10.2 13.8 -146 0 0 99 21Z" fill="#b00"/>
<path d="M117 27L127 -7L149 21A10.2 16.8 -101 1 1 117 27Z" fill="#fee"/><path d="M127 -7L149 21A10.2 16.8 -101 0 1 135 37Z" fill="#edd"/>
<path d="M-1 188L1 142L15 182Z" fill="#7ff"/><path d="M31 177L1 142L15 182Z" fill="#4ee"/><path d="M31 177A3.1 16.8 -109 1 0 -1 188 A3.1 16.8 -109 1 0 31 177Z" fill="#399"/>
<path d="M16 163L33 145L44 167A13.2 16.8 -81 1 1 16 163Z" fill="#8ff"/><path d="M33 145L44 167A13.2 16.8 -81 0 1 27 185Z" fill="#5ee"/>
<path d="M-60 164L-37 150L-33 177A12.9 16.8 -65 1 1 -60 164Z" fill="#8ff"/><path d="M-37 150L-33 177A12.9 16.8 -65 0 1 -55 187Z" fill="#5ee"/>
<path d="M-83 179L-57 140L-67 183Z" fill="#6ff"/><path d="M-50 187L-57 140L-67 183Z" fill="#2ee"/>
<path d="M55 190L48 149L83 173A6.7 16.8 -122 1 1 55 190Z" fill="#7ff"/><path d="M48 149L83 173A6.7 16.8 -122 0 1 74 188Z" fill="#4ee"/>
<path d="M13 175L-29 154L1 186Z" fill="#8ff"/><path d="M-11 198L-29 154L1 186Z" fill="#5ee"/>
<path d="M-49 186L-30 143L-16 188A0.6 16.8 -87 1 1 -49 186Z" fill="#9ff"/><path d="M-30 143L-16 188A0.6 16.8 -87 0 1 -32 187Z" fill="#6ee"/>
<path d="M7 198L16 153L23 195Z" fill="#8ff"/><path d="M40 192L16 153L23 195Z" fill="#5ee"/><path d="M40 192A3.5 16.8 -101 1 0 7 198 A3.5 16.8 -101 1 0 40 192Z" fill="#399"/>
<path d="M28 158L55 163L40 186A12.8 16.8 -23 1 1 28 158Z" fill="#7ff"/><path d="M55 163L40 186A12.8 16.8 -23 0 1 17 179Z" fill="#4ee"/>
</g>
</g>
<path d="M1041.40 62.95V1327.50M244.70 683.45H1812.60" stroke="#000" stroke-width="4.1" fill="none"/>
<g id="curves" clip-path="url(#plotclip)">
<path d="M1802.5 102.8L1771.2 101.3M1747.3 101.9L1715.9 104.9M1692.0 106.8L1660.7 108.8M1636.8 110.9L1605.4 114.4M1581.6 117.1L1550.2 120.6M1526.3 123.3L1494.9 126.8M1471.2 130.1L1439.6 135.1M1416.0 139.5L1384.2 146.1M1360.7 150.9L1329.0 157.3M1305.8 163.2L1273.5 173.3M1250.7 180.9L1245.7 182.6M1223.6 191.8L1217.6 194.7M1195.9 205.1L1189.9 208.0M1168.7 219.2L1161.9 223.1M1141.8 236.2L1133.5 242.4M1114.9 257.5L1107.4 264.3M980.6 456.7L962.3 506.5M954.6 529.2L934.0 597.5M927.1 620.5L906.2 692.2M899.5 715.3L878.6 787.0M871.7 810.0L851.2 875.6M843.7 898.4L823.9 956.3M815.0 978.5L769.8 1076.3M757.5 1096.7L716.8 1150.2M699.6 1166.6L664.1 1191.1M644.0 1204.1L609.2 1225.3M587.2 1233.8L555.5 1239.9M531.8 1243.7L500.4 1247.7M476.6 1250.6L445.2 1254.1M421.3 1256.2L390.0 1258.2M366.1 1260.1L334.7 1263.1M310.8 1264.5L279.5 1265.0M279.5 1265.0L310.8 1264.5M334.7 1263.1L366.1 1260.1M390.0 1258.2L421.3 1256.2M445.2 1254.1L476.6 1250.6M500.4 1247.9L531.8 1244.4M555.7 1241.7L587.1 1238.2M610.8 1234.9L642.4 1229.9M666.0 1225.5L697.8 1218.9M721.3 1214.1L753.0 1207.7M776.2 1201.8L808.5 1191.7M831.3 1184.1L836.3 1182.4M858.4 1173.2L864.4 1170.3M886.1 1159.9L892.1 1157.0M913.3 1145.8L920.1 1141.9M940.2 1128.8L948.5 1122.6M967.1 1107.5L974.6 1100.7M1101.4 908.3L1119.7 858.5M1127.4 835.8L1148.0 767.5M1154.9 744.5L1175.8 672.8M1182.5 649.7L1203.4 578.0M1210.3 555.0L1230.8 489.4M1238.3 466.6L1258.1 408.7M1267.0 386.5L1312.2 288.7M1324.5 268.3L1365.2 214.8M1382.4 198.4L1417.9 173.9M1438.0 160.9L1472.8 139.7M1494.8 131.2L1526.5 125.1M1550.2 121.3L1581.6 117.3M1605.4 114.4L1636.8 110.9M1660.7 108.8L1692.0 106.8M1715.9 104.9L1747.3 101.9M1771.2 100.5L1802.5 100.0" stroke="#0000ff" stroke-width="6.1" fill="none"/>
<g fill="url(#g10K)">
<circle cx="1814.5" cy="103.4" r="9.4"/>
<circle cx="1759.2" cy="100.7" r="9.4"/>
<circle cx="1704.0" cy="106.0" r="9.4"/>
<circle cx="1648.8" cy="109.6" r="9.4"/>
<circle cx="1593.5" cy="115.8" r="9.4"/>
<circle cx="1538.2" cy="122.0" r="9.4"/>
<circle cx="1483.0" cy="128.2" r="9.4"/>
<circle cx="1427.8" cy="137.0" r="9.4"/>
<circle cx="1372.5" cy="148.5" r="9.4"/>
<circle cx="1317.2" cy="159.6" r="9.4"/>
<circle cx="1262.0" cy="176.9" r="9.4"/>
<circle cx="1234.4" cy="186.6" r="9.4"/>
<circle cx="1206.8" cy="199.9" r="9.4"/>
<circle cx="1179.1" cy="213.2" r="9.4"/>
<circle cx="1151.5" cy="229.1" r="9.4"/>
<circle cx="1123.9" cy="249.5" r="9.4"/>
<circle cx="1098.5" cy="272.3" r="9.4"/>
<circle cx="1093.0" cy="277.1" r="9.4"/>
<circle cx="1087.6" cy="281.8" r="9.4"/>
<circle cx="1082.2" cy="286.5" r="9.4"/>
<circle cx="1076.8" cy="291.3" r="9.4"/>
<circle cx="1071.4" cy="296.4" r="9.4"/>
<circle cx="1066.0" cy="301.7" r="9.4"/>
<circle cx="1060.6" cy="307.2" r="9.4"/>
<circle cx="1055.1" cy="312.9" r="9.4"/>
<circle cx="1049.7" cy="319.0" r="9.4"/>
<circle cx="1044.3" cy="325.6" r="9.4"/>
<circle cx="1038.9" cy="333.1" r="9.4"/>
<circle cx="1033.5" cy="341.8" r="9.4"/>
<circle cx="1028.1" cy="351.6" r="9.4"/>
<circle cx="1022.7" cy="361.9" r="9.4"/>
<circle cx="1017.2" cy="372.3" r="9.4"/>
<circle cx="1011.8" cy="382.5" r="9.4"/>
<circle cx="1006.4" cy="392.8" r="9.4"/>
<circle cx="1001.0" cy="403.7" r="9.4"/>
<circle cx="995.6" cy="415.5" r="9.4"/>
<circle cx="990.2" cy="429.6" r="9.4"/>
<circle cx="984.8" cy="445.4" r="9.4"/>
<circle cx="958.1" cy="517.7" r="9.4"/>
<circle cx="930.5" cy="609.0" r="9.4"/>
<circle cx="902.9" cy="703.8" r="9.4"/>
<circle cx="875.2" cy="798.5" r="9.4"/>
<circle cx="847.6" cy="887.1" r="9.4"/>
<circle cx="820.0" cy="967.6" r="9.4"/>
<circle cx="764.8" cy="1087.2" r="9.4"/>
<circle cx="709.5" cy="1159.8" r="9.4"/>
<circle cx="654.2" cy="1197.9" r="9.4"/>
<circle cx="599.0" cy="1231.5" r="9.4"/>
<circle cx="543.8" cy="1242.1" r="9.4"/>
<circle cx="488.5" cy="1249.2" r="9.4"/>
<circle cx="433.2" cy="1255.4" r="9.4"/>
<circle cx="378.0" cy="1259.0" r="9.4"/>
<circle cx="322.8" cy="1264.3" r="9.4"/>
<circle cx="267.5" cy="1265.2" r="9.4"/>
<circle cx="322.8" cy="1264.3" r="9.4"/>
<circle cx="378.0" cy="1259.0" r="9.4"/>
<circle cx="433.2" cy="1255.4" r="9.4"/>
<circle cx="488.5" cy="1249.2" r="9.4"/>
<circle cx="543.8" cy="1243.0" r="9.4"/>
<circle cx="599.0" cy="1236.8" r="9.4"/>
<circle cx="654.2" cy="1228.0" r="9.4"/>
<circle cx="709.5" cy="1216.5" r="9.4"/>
<circle cx="764.8" cy="1205.4" r="9.4"/>
<circle cx="820.0" cy="1188.1" r="9.4"/>
<circle cx="847.6" cy="1178.4" r="9.4"/>
<circle cx="875.2" cy="1165.1" r="9.4"/>
<circle cx="902.9" cy="1151.8" r="9.4"/>
<circle cx="930.5" cy="1135.9" r="9.4"/>
<circle cx="958.1" cy="1115.5" r="9.4"/>
<circle cx="983.5" cy="1092.7" r="9.4"/>
<circle cx="989.0" cy="1087.9" r="9.4"/>
<circle cx="994.4" cy="1083.2" r="9.4"/>
<circle cx="999.8" cy="1078.5" r="9.4"/>
<circle cx="1005.2" cy="1073.7" r="9.4"/>
<circle cx="1010.6" cy="1068.6" r="9.4"/>
<circle cx="1016.0" cy="1063.3" r="9.4"/>
<circle cx="1021.4" cy="1057.8" r="9.4"/>
<circle cx="1026.9" cy="1052.1" r="9.4"/>
<circle cx="1032.3" cy="1046.0" r="9.4"/>
<circle cx="1037.7" cy="1039.4" r="9.4"/>
<circle cx="1043.1" cy="1031.9" r="9.4"/>
<circle cx="1048.5" cy="1023.2" r="9.4"/>
<circle cx="1053.9" cy="1013.4" r="9.4"/>
<circle cx="1059.3" cy="1003.1" r="9.4"/>
<circle cx="1064.8" cy="992.7" r="9.4"/>
<circle cx="1070.2" cy="982.5" r="9.4"/>
<circle cx="1075.6" cy="972.2" r="9.4"/>
<circle cx="1081.0" cy="961.3" r="9.4"/>
<circle cx="1086.4" cy="949.5" r="9.4"/>
<circle cx="1091.8" cy="935.4" r="9.4"/>
<circle cx="1097.2" cy="919.6" r="9.4"/>
<circle cx="1123.9" cy="847.3" r="9.4"/>
<circle cx="1151.5" cy="756.0" r="9.4"/>
<circle cx="1179.1" cy="661.2" r="9.4"/>
<circle cx="1206.8" cy="566.5" r="9.4"/>
<circle cx="1234.4" cy="477.9" r="9.4"/>
<circle cx="1262.0" cy="397.4" r="9.4"/>
<circle cx="1317.2" cy="277.8" r="9.4"/>
<circle cx="1372.5" cy="205.2" r="9.4"/>
<circle cx="1427.8" cy="167.1" r="9.4"/>
<circle cx="1483.0" cy="133.5" r="9.4"/>
<circle cx="1538.2" cy="122.9" r="9.4"/>
<circle cx="1593.5" cy="115.8" r="9.4"/>
<circle cx="1648.8" cy="109.6" r="9.4"/>
<circle cx="1704.0" cy="106.0" r="9.4"/>
<circle cx="1759.2" cy="100.7" r="9.4"/>
<circle cx="1814.5" cy="99.8" r="9.4"/>
</g>
<path d="M1802.5 106.3L1771.2 104.8M1747.3 105.4L1715.9 108.4M1692.0 110.3L1660.7 112.4M1636.8 114.5L1605.4 118.0M1581.6 120.7L1550.2 124.2M1526.3 126.9L1494.9 130.4M1471.2 133.6L1439.6 138.7M1416.0 143.0L1384.2 149.6M1360.8 154.5L1329.0 161.1M1305.8 167.3L1273.4 177.6M1250.8 185.6L1245.6 187.6M1223.8 197.7L1217.3 201.2M1196.4 213.0L1189.5 216.9M1169.2 229.6L1161.5 234.8M1142.4 249.4L1132.9 257.6M1115.2 273.7L1107.1 281.5M981.4 500.0L961.5 569.0M954.9 592.1L933.7 669.6M927.3 692.7L906.1 768.8M899.5 791.9L878.6 863.1M871.5 886.1L851.4 947.4M843.2 969.9L824.5 1016.7M814.0 1038.3L770.7 1114.0M756.1 1132.7L718.1 1169.2M698.8 1182.8L665.0 1199.6M643.3 1209.9L609.9 1224.8M587.2 1231.8L555.6 1237.4M531.8 1240.8L500.4 1244.3M476.6 1247.0L445.2 1250.5M421.3 1252.6L390.0 1254.7M366.1 1256.6L334.7 1259.6M310.8 1260.7L279.5 1260.7M279.5 1260.7L310.8 1260.7M334.7 1259.6L366.1 1256.6M390.0 1254.7L421.3 1252.6M445.2 1250.5L476.6 1247.0M500.4 1244.3L531.8 1240.8M555.7 1238.1L587.1 1234.6M610.8 1231.4L642.4 1226.3M666.0 1222.0L697.8 1215.4M721.2 1210.5L753.0 1203.9M776.2 1197.7L808.6 1187.4M831.2 1179.4L836.4 1177.4M858.2 1167.3L864.7 1163.8M885.6 1152.0L892.5 1148.1M912.8 1135.4L920.5 1130.2M939.6 1115.6L949.1 1107.4M966.8 1091.3L974.9 1083.5M1100.6 865.0L1120.5 796.0M1127.1 772.9L1148.3 695.4M1154.7 672.3L1175.9 596.2M1182.5 573.1L1203.4 501.9M1210.5 478.9L1230.6 417.6M1238.8 395.1L1257.5 348.3M1268.0 326.7L1311.3 251.0M1325.9 232.3L1363.9 195.8M1383.2 182.2L1417.0 165.4M1438.7 155.1L1472.1 140.2M1494.8 133.2L1526.4 127.6M1550.2 124.2L1581.6 120.7M1605.4 118.0L1636.8 114.5M1660.7 112.4L1692.0 110.3M1709.4 98.9L1753.8 11.4M1764.9 11.3L1808.9 93.7" stroke="#008000" stroke-width="6.1" fill="none"/>
<g fill="url(#g20K)">
<circle cx="1814.5" cy="106.9" r="9.4"/>
<circle cx="1759.2" cy="104.3" r="9.4"/>
<circle cx="1704.0" cy="109.6" r="9.4"/>
<circle cx="1648.8" cy="113.1" r="9.4"/>
<circle cx="1593.5" cy="119.3" r="9.4"/>
<circle cx="1538.2" cy="125.5" r="9.4"/>
<circle cx="1483.0" cy="131.7" r="9.4"/>
<circle cx="1427.8" cy="140.6" r="9.4"/>
<circle cx="1372.5" cy="152.1" r="9.4"/>
<circle cx="1317.2" cy="163.6" r="9.4"/>
<circle cx="1262.0" cy="181.3" r="9.4"/>
<circle cx="1234.4" cy="191.9" r="9.4"/>
<circle cx="1206.8" cy="207.0" r="9.4"/>
<circle cx="1179.1" cy="222.9" r="9.4"/>
<circle cx="1151.5" cy="241.5" r="9.4"/>
<circle cx="1123.9" cy="265.4" r="9.4"/>
<circle cx="1098.5" cy="289.8" r="9.4"/>
<circle cx="1093.0" cy="295.1" r="9.4"/>
<circle cx="1087.6" cy="300.2" r="9.4"/>
<circle cx="1082.2" cy="305.4" r="9.4"/>
<circle cx="1076.8" cy="310.7" r="9.4"/>
<circle cx="1071.4" cy="316.4" r="9.4"/>
<circle cx="1066.0" cy="322.5" r="9.4"/>
<circle cx="1060.6" cy="329.0" r="9.4"/>
<circle cx="1055.1" cy="335.8" r="9.4"/>
<circle cx="1049.7" cy="343.2" r="9.4"/>
<circle cx="1044.3" cy="351.3" r="9.4"/>
<circle cx="1038.9" cy="360.3" r="9.4"/>
<circle cx="1033.5" cy="371.2" r="9.4"/>
<circle cx="1028.1" cy="383.1" r="9.4"/>
<circle cx="1022.7" cy="394.6" r="9.4"/>
<circle cx="1017.2" cy="406.2" r="9.4"/>
<circle cx="1011.8" cy="418.5" r="9.4"/>
<circle cx="1006.4" cy="431.5" r="9.4"/>
<circle cx="1001.0" cy="446.3" r="9.4"/>
<circle cx="995.6" cy="462.0" r="9.4"/>
<circle cx="990.2" cy="475.4" r="9.4"/>
<circle cx="984.8" cy="488.5" r="9.4"/>
<circle cx="958.1" cy="580.5" r="9.4"/>
<circle cx="930.5" cy="681.2" r="9.4"/>
<circle cx="902.9" cy="780.3" r="9.4"/>
<circle cx="875.2" cy="874.7" r="9.4"/>
<circle cx="847.6" cy="958.8" r="9.4"/>
<circle cx="820.0" cy="1027.8" r="9.4"/>
<circle cx="764.8" cy="1124.4" r="9.4"/>
<circle cx="709.5" cy="1177.5" r="9.4"/>
<circle cx="654.2" cy="1204.9" r="9.4"/>
<circle cx="599.0" cy="1229.7" r="9.4"/>
<circle cx="543.8" cy="1239.5" r="9.4"/>
<circle cx="488.5" cy="1245.7" r="9.4"/>
<circle cx="433.2" cy="1251.9" r="9.4"/>
<circle cx="378.0" cy="1255.4" r="9.4"/>
<circle cx="322.8" cy="1260.7" r="9.4"/>
<circle cx="267.5" cy="1260.7" r="9.4"/>
<circle cx="322.8" cy="1260.7" r="9.4"/>
<circle cx="378.0" cy="1255.4" r="9.4"/>
<circle cx="433.2" cy="1251.9" r="9.4"/>
<circle cx="488.5" cy="1245.7" r="9.4"/>
<circle cx="543.8" cy="1239.5" r="9.4"/>
<circle cx="599.0" cy="1233.3" r="9.4"/>
<circle cx="654.2" cy="1224.4" r="9.4"/>
<circle cx="709.5" cy="1212.9" r="9.4"/>
<circle cx="764.8" cy="1201.4" r="9.4"/>
<circle cx="820.0" cy="1183.7" r="9.4"/>
<circle cx="847.6" cy="1173.1" r="9.4"/>
<circle cx="875.2" cy="1158.0" r="9.4"/>
<circle cx="902.9" cy="1142.1" r="9.4"/>
<circle cx="930.5" cy="1123.5" r="9.4"/>
<circle cx="958.1" cy="1099.6" r="9.4"/>
<circle cx="983.5" cy="1075.2" r="9.4"/>
<circle cx="989.0" cy="1069.9" r="9.4"/>
<circle cx="994.4" cy="1064.8" r="9.4"/>
<circle cx="999.8" cy="1059.6" r="9.4"/>
<circle cx="1005.2" cy="1054.3" r="9.4"/>
<circle cx="1010.6" cy="1048.6" r="9.4"/>
<circle cx="1016.0" cy="1042.5" r="9.4"/>
<circle cx="1021.4" cy="1036.0" r="9.4"/>
<circle cx="1026.9" cy="1029.2" r="9.4"/>
<circle cx="1032.3" cy="1021.8" r="9.4"/>
<circle cx="1037.7" cy="1013.7" r="9.4"/>
<circle cx="1043.1" cy="1004.7" r="9.4"/>
<circle cx="1048.5" cy="993.8" r="9.4"/>
<circle cx="1053.9" cy="981.9" r="9.4"/>
<circle cx="1059.3" cy="970.4" r="9.4"/>
<circle cx="1064.8" cy="958.8" r="9.4"/>
<circle cx="1070.2" cy="946.5" r="9.4"/>
<circle cx="1075.6" cy="933.5" r="9.4"/>
<circle cx="1081.0" cy="918.7" r="9.4"/>
<circle cx="1086.4" cy="903.0" r="9.4"/>
<circle cx="1091.8" cy="889.6" r="9.4"/>
<circle cx="1097.2" cy="876.5" r="9.4"/>
<circle cx="1123.9" cy="784.5" r="9.4"/>
<circle cx="1151.5" cy="683.8" r="9.4"/>
<circle cx="1179.1" cy="584.7" r="9.4"/>
<circle cx="1206.8" cy="490.3" r="9.4"/>
<circle cx="1234.4" cy="406.2" r="9.4"/>
<circle cx="1262.0" cy="337.2" r="9.4"/>
<circle cx="1317.2" cy="240.6" r="9.4"/>
<circle cx="1372.5" cy="187.5" r="9.4"/>
<circle cx="1427.8" cy="160.1" r="9.4"/>
<circle cx="1483.0" cy="135.3" r="9.4"/>
<circle cx="1538.2" cy="125.5" r="9.4"/>
<circle cx="1593.5" cy="119.3" r="9.4"/>
<circle cx="1648.8" cy="113.1" r="9.4"/>
<circle cx="1704.0" cy="109.6" r="9.4"/>
<circle cx="1759.2" cy="0.7" r="9.4"/>
<circle cx="1814.5" cy="104.3" r="9.4"/>
</g>
<path d="M1802.5 110.1L1771.2 109.1M1747.3 109.8L1715.9 112.9M1692.0 114.8L1660.7 116.8M1636.8 118.9L1605.4 122.4M1581.6 125.1L1550.2 128.6M1526.3 131.3L1494.9 134.8M1471.2 138.0L1439.6 143.1M1416.0 147.4L1384.2 154.1M1360.8 159.3L1328.9 167.0M1305.9 173.6L1273.4 184.6M1250.8 192.7L1245.6 194.7M1224.0 205.0L1217.1 209.0M1196.6 221.4L1189.2 226.2M1169.5 239.8L1161.2 245.9M1142.6 261.0L1132.8 269.8M1116.5 287.3L1105.8 300.9M982.0 628.6L960.9 717.2M955.3 740.5L933.4 829.4M927.3 852.6L906.1 929.5M899.1 952.4L879.1 1012.0M870.1 1034.2L852.8 1070.2M841.2 1091.1L826.4 1114.2M810.9 1132.1L773.9 1163.5M754.1 1176.9L720.1 1194.9M702.2 1210.1L661.5 1263.6M644.9 1265.6L608.4 1236.4M587.1 1230.2L555.7 1233.7M531.8 1236.4L500.4 1239.9M476.6 1242.6L445.2 1246.1M421.3 1248.2L390.0 1250.2M366.1 1252.1L334.7 1255.2M310.8 1256.5L279.5 1257.0M279.5 1257.0L310.8 1256.5M334.7 1255.2L366.1 1252.1M390.0 1250.2L421.3 1248.2M445.2 1246.1L476.6 1242.6M500.4 1239.9L531.8 1236.4M555.7 1233.7L587.1 1230.2M610.8 1227.0L642.4 1221.9M666.0 1217.6L697.8 1210.9M721.2 1205.7L753.1 1198.0M776.1 1191.4L808.6 1180.4M831.2 1172.3L836.4 1170.3M858.0 1160.0L864.9 1156.0M885.4 1143.6L892.8 1138.8M912.5 1125.2L920.8 1119.1M939.4 1104.0L949.2 1095.2M965.5 1077.7L976.2 1064.1M1100.0 736.4L1121.1 647.8M1126.7 624.5L1148.6 535.6M1154.7 512.4L1175.9 435.5M1182.9 412.6L1202.9 353.0M1209.4 329.9L1231.8 229.3M1243.6 225.3L1252.8 233.0M1271.1 232.9L1308.1 201.5M1327.9 188.1L1361.9 170.1M1383.9 160.8L1416.3 150.4M1439.5 144.5L1471.2 138.4M1494.9 134.8L1526.3 131.3M1550.2 128.6L1581.6 125.1M1605.4 122.4L1636.8 118.9M1660.7 116.8L1692.0 114.8M1715.9 112.9L1747.3 109.8M1771.2 108.5L1802.5 108.0" stroke="#f08a2c" stroke-width="6.1" fill="none"/>
<g fill="url(#g50K)">
<circle cx="1814.5" cy="110.5" r="9.4"/>
<circle cx="1759.2" cy="108.7" r="9.4"/>
<circle cx="1704.0" cy="114.0" r="9.4"/>
<circle cx="1648.8" cy="117.6" r="9.4"/>
<circle cx="1593.5" cy="123.7" r="9.4"/>
<circle cx="1538.2" cy="129.9" r="9.4"/>
<circle cx="1483.0" cy="136.1" r="9.4"/>
<circle cx="1427.8" cy="145.0" r="9.4"/>
<circle cx="1372.5" cy="156.5" r="9.4"/>
<circle cx="1317.2" cy="169.8" r="9.4"/>
<circle cx="1262.0" cy="188.4" r="9.4"/>
<circle cx="1234.4" cy="199.0" r="9.4"/>
<circle cx="1206.8" cy="215.0" r="9.4"/>
<circle cx="1179.1" cy="232.7" r="9.4"/>
<circle cx="1151.5" cy="253.0" r="9.4"/>
<circle cx="1123.9" cy="277.8" r="9.4"/>
<circle cx="1098.5" cy="310.3" r="9.4"/>
<circle cx="1093.0" cy="317.3" r="9.4"/>
<circle cx="1087.6" cy="324.0" r="9.4"/>
<circle cx="1082.2" cy="330.8" r="9.4"/>
<circle cx="1076.8" cy="337.8" r="9.4"/>
<circle cx="1071.4" cy="345.4" r="9.4"/>
<circle cx="1066.0" cy="353.8" r="9.4"/>
<circle cx="1060.6" cy="363.4" r="9.4"/>
<circle cx="1055.1" cy="373.8" r="9.4"/>
<circle cx="1049.7" cy="385.1" r="9.4"/>
<circle cx="1044.3" cy="397.5" r="9.4"/>
<circle cx="1038.9" cy="411.1" r="9.4"/>
<circle cx="1033.5" cy="425.9" r="9.4"/>
<circle cx="1028.1" cy="445.8" r="9.4"/>
<circle cx="1022.7" cy="468.5" r="9.4"/>
<circle cx="1017.2" cy="488.2" r="9.4"/>
<circle cx="1011.8" cy="508.0" r="9.4"/>
<circle cx="1006.4" cy="529.0" r="9.4"/>
<circle cx="1001.0" cy="550.6" r="9.4"/>
<circle cx="995.6" cy="572.9" r="9.4"/>
<circle cx="990.2" cy="595.3" r="9.4"/>
<circle cx="984.8" cy="617.0" r="9.4"/>
<circle cx="958.1" cy="728.9" r="9.4"/>
<circle cx="930.5" cy="841.0" r="9.4"/>
<circle cx="902.9" cy="941.1" r="9.4"/>
<circle cx="875.2" cy="1023.4" r="9.4"/>
<circle cx="847.6" cy="1081.0" r="9.4"/>
<circle cx="820.0" cy="1124.4" r="9.4"/>
<circle cx="764.8" cy="1171.3" r="9.4"/>
<circle cx="709.5" cy="1200.5" r="9.4"/>
<circle cx="654.2" cy="1273.1" r="9.4"/>
<circle cx="599.0" cy="1228.9" r="9.4"/>
<circle cx="543.8" cy="1235.1" r="9.4"/>
<circle cx="488.5" cy="1241.3" r="9.4"/>
<circle cx="433.2" cy="1247.4" r="9.4"/>
<circle cx="378.0" cy="1251.0" r="9.4"/>
<circle cx="322.8" cy="1256.3" r="9.4"/>
<circle cx="267.5" cy="1257.2" r="9.4"/>
<circle cx="322.8" cy="1256.3" r="9.4"/>
<circle cx="378.0" cy="1251.0" r="9.4"/>
<circle cx="433.2" cy="1247.4" r="9.4"/>
<circle cx="488.5" cy="1241.3" r="9.4"/>
<circle cx="543.8" cy="1235.1" r="9.4"/>
<circle cx="599.0" cy="1228.9" r="9.4"/>
<circle cx="654.2" cy="1220.0" r="9.4"/>
<circle cx="709.5" cy="1208.5" r="9.4"/>
<circle cx="764.8" cy="1195.2" r="9.4"/>
<circle cx="820.0" cy="1176.6" r="9.4"/>
<circle cx="847.6" cy="1166.0" r="9.4"/>
<circle cx="875.2" cy="1150.0" r="9.4"/>
<circle cx="902.9" cy="1132.3" r="9.4"/>
<circle cx="930.5" cy="1112.0" r="9.4"/>
<circle cx="958.1" cy="1087.2" r="9.4"/>
<circle cx="983.5" cy="1054.7" r="9.4"/>
<circle cx="989.0" cy="1047.7" r="9.4"/>
<circle cx="994.4" cy="1041.0" r="9.4"/>
<circle cx="999.8" cy="1034.2" r="9.4"/>
<circle cx="1005.2" cy="1027.2" r="9.4"/>
<circle cx="1010.6" cy="1019.6" r="9.4"/>
<circle cx="1016.0" cy="1011.2" r="9.4"/>
<circle cx="1021.4" cy="1001.6" r="9.4"/>
<circle cx="1026.9" cy="991.2" r="9.4"/>
<circle cx="1032.3" cy="979.9" r="9.4"/>
<circle cx="1037.7" cy="967.5" r="9.4"/>
<circle cx="1043.1" cy="953.9" r="9.4"/>
<circle cx="1048.5" cy="939.1" r="9.4"/>
<circle cx="1053.9" cy="919.2" r="9.4"/>
<circle cx="1059.3" cy="896.5" r="9.4"/>
<circle cx="1064.8" cy="876.8" r="9.4"/>
<circle cx="1070.2" cy="857.0" r="9.4"/>
<circle cx="1075.6" cy="836.0" r="9.4"/>
<circle cx="1081.0" cy="814.4" r="9.4"/>
<circle cx="1086.4" cy="792.1" r="9.4"/>
<circle cx="1091.8" cy="769.7" r="9.4"/>
<circle cx="1097.2" cy="748.0" r="9.4"/>
<circle cx="1123.9" cy="636.1" r="9.4"/>
<circle cx="1151.5" cy="524.0" r="9.4"/>
<circle cx="1179.1" cy="423.9" r="9.4"/>
<circle cx="1206.8" cy="341.6" r="9.4"/>
<circle cx="1234.4" cy="217.6" r="9.4"/>
<circle cx="1262.0" cy="240.6" r="9.4"/>
<circle cx="1317.2" cy="193.7" r="9.4"/>
<circle cx="1372.5" cy="164.5" r="9.4"/>
<circle cx="1427.8" cy="146.8" r="9.4"/>
<circle cx="1483.0" cy="136.1" r="9.4"/>
<circle cx="1538.2" cy="129.9" r="9.4"/>
<circle cx="1593.5" cy="123.7" r="9.4"/>
<circle cx="1648.8" cy="117.6" r="9.4"/>
<circle cx="1704.0" cy="114.0" r="9.4"/>
<circle cx="1759.2" cy="108.7" r="9.4"/>
<circle cx="1814.5" cy="107.8" r="9.4"/>
</g>
<path d="M1802.5 112.9L1771.2 112.4M1747.3 113.6L1715.9 117.1M1692.1 119.6L1660.7 122.6M1636.8 124.7L1605.5 127.2M1581.6 129.5L1550.2 133.0M1526.3 135.9L1494.9 139.9M1471.1 143.2L1439.6 147.7M1416.0 151.9L1384.2 158.5M1361.0 164.3L1328.8 173.6M1306.0 181.0L1273.3 193.1M1250.6 200.9L1245.8 202.4M1223.8 211.8L1217.3 215.4M1196.8 227.9L1189.1 233.0M1169.8 247.3L1160.9 254.4M1143.1 270.5L1132.3 281.6M1116.0 299.2L1106.4 310.2M1052.7 412.2L1052.2 414.3M1047.5 437.9L1046.5 442.8M1043.1 466.6L1040.1 494.9M1037.1 518.7L1035.3 530.7M1032.1 554.5L1029.5 575.6M1026.1 599.3L1024.6 608.7M1021.0 632.5L1018.9 646.9M1015.0 670.6L1014.1 675.0M1009.8 698.6L1008.4 706.9M1003.9 730.5L1003.5 732.2M999.1 755.7L997.5 765.1M993.1 788.7L992.7 790.3M988.0 813.8L986.9 819.8M981.9 843.3L961.0 928.5M954.3 951.6L934.3 1012.0M925.4 1034.3L908.0 1071.0M895.7 1091.5L882.4 1109.4M866.3 1127.1L856.6 1135.8M837.1 1149.6L830.5 1153.2M809.0 1163.7L775.8 1178.0M753.2 1186.1L721.0 1195.4M697.8 1201.2L666.0 1207.8M642.4 1212.0L610.9 1216.5M587.1 1219.8L555.7 1223.8M531.8 1226.6L500.4 1230.2M476.5 1232.5L445.2 1235.0M421.3 1237.1L389.9 1240.1M366.1 1242.6L334.7 1246.1M310.8 1247.6L279.5 1248.1M279.5 1249.3L310.8 1251.8M334.7 1251.4L366.1 1247.9M389.9 1245.4L421.3 1242.4M445.2 1240.3L476.5 1237.8M500.4 1235.5L531.8 1232.0M555.7 1229.1L587.1 1225.1M610.9 1221.8L642.4 1217.3M666.0 1213.1L697.8 1206.5M721.0 1200.7L753.2 1191.4M776.0 1184.0L808.7 1171.9M831.4 1164.1L836.2 1162.6M858.2 1153.2L864.7 1149.6M885.2 1137.1L892.9 1132.0M912.2 1117.7L921.1 1110.6M938.9 1094.5L949.7 1083.4M966.0 1065.8L975.6 1054.8M1029.3 952.8L1029.8 950.7M1034.5 927.1L1035.5 922.2M1038.9 898.4L1041.9 870.1M1044.9 846.3L1046.7 834.3M1049.9 810.5L1052.5 789.4M1055.9 765.7L1057.4 756.3M1061.0 732.5L1063.1 718.1M1067.0 694.4L1067.9 690.0M1072.2 666.4L1073.6 658.1M1078.1 634.5L1078.5 632.8M1082.9 609.3L1084.5 599.9M1088.9 576.3L1089.3 574.7M1094.0 551.2L1095.1 545.2M1100.1 521.7L1121.0 436.5M1127.7 413.4L1147.7 353.0M1156.6 330.7L1174.0 294.0M1186.3 273.5L1199.6 255.6M1215.7 237.9L1225.4 229.2M1244.9 215.4L1251.5 211.8M1273.0 201.3L1306.2 187.0M1328.8 178.9L1361.0 169.6M1384.2 163.8L1416.0 157.2M1439.6 153.0L1471.1 148.5M1494.9 145.2L1526.3 141.2M1550.2 138.4L1581.6 134.8M1605.5 132.5L1636.8 130.0M1660.7 127.9L1692.1 124.9M1715.9 122.4L1747.3 118.9M1771.2 117.4L1802.5 116.9" stroke="#ff0000" stroke-width="6.1" fill="none"/>
<g fill="url(#g100K)">
<circle cx="1814.5" cy="113.1" r="9.4"/>
<circle cx="1759.2" cy="112.2" r="9.4"/>
<circle cx="1704.0" cy="118.4" r="9.4"/>
<circle cx="1648.8" cy="123.7" r="9.4"/>
<circle cx="1593.5" cy="128.2" r="9.4"/>
<circle cx="1538.2" cy="134.4" r="9.4"/>
<circle cx="1483.0" cy="141.5" r="9.4"/>
<circle cx="1427.8" cy="149.4" r="9.4"/>
<circle cx="1372.5" cy="160.9" r="9.4"/>
<circle cx="1317.2" cy="176.9" r="9.4"/>
<circle cx="1262.0" cy="197.2" r="9.4"/>
<circle cx="1234.4" cy="206.1" r="9.4"/>
<circle cx="1206.8" cy="221.2" r="9.4"/>
<circle cx="1179.1" cy="239.8" r="9.4"/>
<circle cx="1151.5" cy="261.9" r="9.4"/>
<circle cx="1123.9" cy="290.2" r="9.4"/>
<circle cx="1098.5" cy="319.2" r="9.4"/>
<circle cx="1093.0" cy="326.5" r="9.4"/>
<circle cx="1087.6" cy="334.7" r="9.4"/>
<circle cx="1082.2" cy="343.5" r="9.4"/>
<circle cx="1076.8" cy="352.6" r="9.4"/>
<circle cx="1071.4" cy="361.8" r="9.4"/>
<circle cx="1066.0" cy="372.0" r="9.4"/>
<circle cx="1060.6" cy="383.9" r="9.4"/>
<circle cx="1055.1" cy="400.5" r="9.4"/>
<circle cx="1049.7" cy="426.1" r="9.4"/>
<circle cx="1044.3" cy="454.6" r="9.4"/>
<circle cx="1038.9" cy="506.8" r="9.4"/>
<circle cx="1033.5" cy="542.5" r="9.4"/>
<circle cx="1028.1" cy="587.5" r="9.4"/>
<circle cx="1022.7" cy="620.6" r="9.4"/>
<circle cx="1017.2" cy="658.8" r="9.4"/>
<circle cx="1011.8" cy="686.8" r="9.4"/>
<circle cx="1006.4" cy="718.7" r="9.4"/>
<circle cx="1001.0" cy="743.9" r="9.4"/>
<circle cx="995.6" cy="776.9" r="9.4"/>
<circle cx="990.2" cy="802.0" r="9.4"/>
<circle cx="984.8" cy="831.6" r="9.4"/>
<circle cx="958.1" cy="940.2" r="9.4"/>
<circle cx="930.5" cy="1023.4" r="9.4"/>
<circle cx="902.9" cy="1081.9" r="9.4"/>
<circle cx="875.2" cy="1119.1" r="9.4"/>
<circle cx="847.6" cy="1143.8" r="9.4"/>
<circle cx="820.0" cy="1158.9" r="9.4"/>
<circle cx="764.8" cy="1182.8" r="9.4"/>
<circle cx="709.5" cy="1198.7" r="9.4"/>
<circle cx="654.2" cy="1210.3" r="9.4"/>
<circle cx="599.0" cy="1218.2" r="9.4"/>
<circle cx="543.8" cy="1225.3" r="9.4"/>
<circle cx="488.5" cy="1231.5" r="9.4"/>
<circle cx="433.2" cy="1235.9" r="9.4"/>
<circle cx="378.0" cy="1241.3" r="9.4"/>
<circle cx="322.8" cy="1247.4" r="9.4"/>
<circle cx="267.5" cy="1248.3" r="9.4"/>
<circle cx="322.8" cy="1252.8" r="9.4"/>
<circle cx="378.0" cy="1246.6" r="9.4"/>
<circle cx="433.2" cy="1241.3" r="9.4"/>
<circle cx="488.5" cy="1236.8" r="9.4"/>
<circle cx="543.8" cy="1230.6" r="9.4"/>
<circle cx="599.0" cy="1223.5" r="9.4"/>
<circle cx="654.2" cy="1215.6" r="9.4"/>
<circle cx="709.5" cy="1204.1" r="9.4"/>
<circle cx="764.8" cy="1188.1" r="9.4"/>
<circle cx="820.0" cy="1167.8" r="9.4"/>
<circle cx="847.6" cy="1158.9" r="9.4"/>
<circle cx="875.2" cy="1143.8" r="9.4"/>
<circle cx="902.9" cy="1125.2" r="9.4"/>
<circle cx="930.5" cy="1103.1" r="9.4"/>
<circle cx="958.1" cy="1074.8" r="9.4"/>
<circle cx="983.5" cy="1045.8" r="9.4"/>
<circle cx="989.0" cy="1038.5" r="9.4"/>
<circle cx="994.4" cy="1030.3" r="9.4"/>
<circle cx="999.8" cy="1021.5" r="9.4"/>
<circle cx="1005.2" cy="1012.4" r="9.4"/>
<circle cx="1010.6" cy="1003.2" r="9.4"/>
<circle cx="1016.0" cy="993.0" r="9.4"/>
<circle cx="1021.4" cy="981.1" r="9.4"/>
<circle cx="1026.9" cy="964.5" r="9.4"/>
<circle cx="1032.3" cy="938.9" r="9.4"/>
<circle cx="1037.7" cy="910.4" r="9.4"/>
<circle cx="1043.1" cy="858.2" r="9.4"/>
<circle cx="1048.5" cy="822.5" r="9.4"/>
<circle cx="1053.9" cy="777.5" r="9.4"/>
<circle cx="1059.3" cy="744.4" r="9.4"/>
<circle cx="1064.8" cy="706.2" r="9.4"/>
<circle cx="1070.2" cy="678.2" r="9.4"/>
<circle cx="1075.6" cy="646.3" r="9.4"/>
<circle cx="1081.0" cy="621.1" r="9.4"/>
<circle cx="1086.4" cy="588.1" r="9.4"/>
<circle cx="1091.8" cy="563.0" r="9.4"/>
<circle cx="1097.2" cy="533.4" r="9.4"/>
<circle cx="1123.9" cy="424.8" r="9.4"/>
<circle cx="1151.5" cy="341.6" r="9.4"/>
<circle cx="1179.1" cy="283.1" r="9.4"/>
<circle cx="1206.8" cy="245.9" r="9.4"/>
<circle cx="1234.4" cy="221.2" r="9.4"/>
<circle cx="1262.0" cy="206.1" r="9.4"/>
<circle cx="1317.2" cy="182.2" r="9.4"/>
<circle cx="1372.5" cy="166.3" r="9.4"/>
<circle cx="1427.8" cy="154.7" r="9.4"/>
<circle cx="1483.0" cy="146.8" r="9.4"/>
<circle cx="1538.2" cy="139.7" r="9.4"/>
<circle cx="1593.5" cy="133.5" r="9.4"/>
<circle cx="1648.8" cy="129.1" r="9.4"/>
<circle cx="1704.0" cy="123.7" r="9.4"/>
<circle cx="1759.2" cy="117.6" r="9.4"/>
<circle cx="1814.5" cy="116.7" r="9.4"/>
</g>
<path d="M1802.5 218.8L1771.2 219.8M1747.3 220.8L1716.0 222.3M1692.0 223.3L1660.7 224.6M1636.8 225.7L1605.5 227.4M1581.5 228.9L1550.2 230.9M1526.3 232.6L1495.0 235.1M1471.1 237.2L1439.7 240.2M1415.8 242.4L1384.4 245.4M1360.6 248.3L1329.1 252.7M1305.5 256.9L1273.8 263.4M1250.3 268.4L1246.1 269.3M1223.0 275.8L1218.1 277.5M1196.0 286.7L1189.9 289.8M1168.8 301.3L1161.8 305.5M1142.4 319.5L1132.9 327.8M1116.7 345.3L1104.9 361.2M1058.0 474.5L1057.1 479.8M1053.3 503.4L1051.1 519.9M1048.1 543.8L1045.6 564.2M1043.5 588.1L1039.4 670.5M1038.2 694.5L1034.0 776.9M1032.0 800.8L1029.5 821.2M1026.5 845.1L1024.3 861.6M1020.5 885.2L1019.5 890.5M977.9 998.4L965.4 1014.9M949.3 1032.6L939.3 1041.9M920.3 1056.5L913.1 1061.0M892.2 1072.9L885.9 1076.2M864.0 1085.9L858.9 1087.8M835.9 1094.6L831.7 1095.5M808.3 1100.7L776.5 1107.3M752.9 1111.6L721.4 1116.2M697.6 1119.1L666.2 1122.1M642.3 1124.4L610.9 1127.4M587.0 1129.6L555.7 1132.1M531.8 1133.8L500.5 1135.9M476.5 1137.3L445.2 1139.1M421.3 1140.2L390.0 1141.5M366.0 1142.6L334.7 1144.1M310.8 1145.0L279.5 1146.1M279.5 1146.1L310.8 1145.0M334.7 1144.1L366.0 1142.6M390.0 1141.5L421.3 1140.2M445.2 1139.1L476.5 1137.3M500.5 1135.9L531.8 1133.8M555.7 1132.1L587.0 1129.6M610.9 1127.4L642.3 1124.4M666.2 1122.1L697.6 1119.1M721.4 1116.2L752.9 1111.6M776.5 1107.3L808.3 1100.7M831.7 1095.5L835.9 1094.6M858.9 1087.8L864.0 1085.9M885.9 1076.2L892.2 1072.9M913.1 1061.0L920.3 1056.5M939.3 1041.9L949.3 1032.6M965.8 1015.2L977.5 1001.1M1019.5 893.6L1020.5 888.3M1024.3 864.7L1026.5 848.2M1029.5 824.3L1032.0 803.9M1034.0 780.0L1038.2 697.6M1039.4 673.6L1043.5 591.2M1045.6 567.3L1048.1 546.9M1051.1 523.0L1053.3 506.5M1057.1 482.9L1058.0 477.6M1104.5 364.0L1117.1 345.6M1132.9 327.8L1142.4 319.5M1161.8 305.5L1168.8 301.3M1189.9 289.8L1196.0 286.7M1218.1 277.5L1223.0 275.8M1246.1 269.3L1250.3 268.4M1273.8 263.4L1305.5 256.9M1329.1 252.7L1360.6 248.3M1384.4 245.4L1415.8 242.4M1439.7 240.2L1471.1 237.2M1495.0 235.1L1526.3 232.6M1550.2 230.9L1581.5 228.9M1605.5 227.4L1636.8 225.7M1660.7 224.6L1692.0 223.3M1716.0 222.3L1747.3 220.8M1771.2 219.8L1802.5 218.8" stroke="#404040" stroke-width="6.1" fill="none"/>
<g fill="url(#g300K)">
<circle cx="1814.5" cy="218.4" r="9.4"/>
<circle cx="1759.2" cy="220.2" r="9.4"/>
<circle cx="1704.0" cy="222.8" r="9.4"/>
<circle cx="1648.8" cy="225.0" r="9.4"/>
<circle cx="1593.5" cy="228.1" r="9.4"/>
<circle cx="1538.2" cy="231.6" r="9.4"/>
<circle cx="1483.0" cy="236.0" r="9.4"/>
<circle cx="1427.8" cy="241.3" r="9.4"/>
<circle cx="1372.5" cy="246.6" r="9.4"/>
<circle cx="1317.2" cy="254.4" r="9.4"/>
<circle cx="1262.0" cy="265.8" r="9.4"/>
<circle cx="1234.4" cy="271.9" r="9.4"/>
<circle cx="1206.8" cy="281.3" r="9.4"/>
<circle cx="1179.1" cy="295.2" r="9.4"/>
<circle cx="1151.5" cy="311.7" r="9.4"/>
<circle cx="1123.9" cy="335.7" r="9.4"/>
<circle cx="1097.7" cy="370.8" r="9.4"/>
<circle cx="1092.4" cy="376.2" r="9.4"/>
<circle cx="1087.0" cy="382.0" r="9.4"/>
<circle cx="1081.7" cy="395.8" r="9.4"/>
<circle cx="1076.3" cy="410.3" r="9.4"/>
<circle cx="1070.9" cy="425.3" r="9.4"/>
<circle cx="1065.6" cy="443.2" r="9.4"/>
<circle cx="1060.2" cy="462.7" r="9.4"/>
<circle cx="1054.9" cy="491.6" r="9.4"/>
<circle cx="1049.5" cy="531.8" r="9.4"/>
<circle cx="1044.1" cy="576.1" r="9.4"/>
<circle cx="1038.8" cy="682.5" r="9.4"/>
<circle cx="1033.4" cy="788.9" r="9.4"/>
<circle cx="1028.1" cy="833.2" r="9.4"/>
<circle cx="1022.7" cy="873.4" r="9.4"/>
<circle cx="1017.4" cy="902.3" r="9.4"/>
<circle cx="1012.0" cy="921.8" r="9.4"/>
<circle cx="1006.6" cy="939.7" r="9.4"/>
<circle cx="1001.3" cy="954.7" r="9.4"/>
<circle cx="995.9" cy="969.2" r="9.4"/>
<circle cx="990.6" cy="983.0" r="9.4"/>
<circle cx="985.2" cy="988.8" r="9.4"/>
<circle cx="958.1" cy="1024.4" r="9.4"/>
<circle cx="930.5" cy="1050.1" r="9.4"/>
<circle cx="902.9" cy="1067.3" r="9.4"/>
<circle cx="875.2" cy="1081.8" r="9.4"/>
<circle cx="847.6" cy="1091.9" r="9.4"/>
<circle cx="820.0" cy="1098.2" r="9.4"/>
<circle cx="764.8" cy="1109.8" r="9.4"/>
<circle cx="709.5" cy="1117.9" r="9.4"/>
<circle cx="654.2" cy="1123.3" r="9.4"/>
<circle cx="599.0" cy="1128.6" r="9.4"/>
<circle cx="543.8" cy="1133.1" r="9.4"/>
<circle cx="488.5" cy="1136.6" r="9.4"/>
<circle cx="433.2" cy="1139.8" r="9.4"/>
<circle cx="378.0" cy="1142.0" r="9.4"/>
<circle cx="322.8" cy="1144.6" r="9.4"/>
<circle cx="267.5" cy="1146.4" r="9.4"/>
<circle cx="322.8" cy="1144.6" r="9.4"/>
<circle cx="378.0" cy="1142.0" r="9.4"/>
<circle cx="433.2" cy="1139.8" r="9.4"/>
<circle cx="488.5" cy="1136.6" r="9.4"/>
<circle cx="543.8" cy="1133.1" r="9.4"/>
<circle cx="599.0" cy="1128.6" r="9.4"/>
<circle cx="654.2" cy="1123.3" r="9.4"/>
<circle cx="709.5" cy="1117.9" r="9.4"/>
<circle cx="764.8" cy="1109.8" r="9.4"/>
<circle cx="820.0" cy="1098.2" r="9.4"/>
<circle cx="847.6" cy="1091.9" r="9.4"/>
<circle cx="875.2" cy="1081.8" r="9.4"/>
<circle cx="902.9" cy="1067.3" r="9.4"/>
<circle cx="930.5" cy="1050.1" r="9.4"/>
<circle cx="958.1" cy="1024.4" r="9.4"/>
<circle cx="985.2" cy="991.9" r="9.4"/>
<circle cx="990.6" cy="986.1" r="9.4"/>
<circle cx="995.9" cy="972.3" r="9.4"/>
<circle cx="1001.3" cy="957.8" r="9.4"/>
<circle cx="1006.6" cy="942.8" r="9.4"/>
<circle cx="1012.0" cy="924.9" r="9.4"/>
<circle cx="1017.4" cy="905.4" r="9.4"/>
<circle cx="1022.7" cy="876.5" r="9.4"/>
<circle cx="1028.1" cy="836.3" r="9.4"/>
<circle cx="1033.4" cy="792.0" r="9.4"/>
<circle cx="1038.8" cy="685.6" r="9.4"/>
<circle cx="1044.1" cy="579.2" r="9.4"/>
<circle cx="1049.5" cy="534.9" r="9.4"/>
<circle cx="1054.9" cy="494.7" r="9.4"/>
<circle cx="1060.2" cy="465.8" r="9.4"/>
<circle cx="1065.6" cy="446.3" r="9.4"/>
<circle cx="1070.9" cy="428.4" r="9.4"/>
<circle cx="1076.3" cy="413.4" r="9.4"/>
<circle cx="1081.7" cy="398.9" r="9.4"/>
<circle cx="1087.0" cy="385.1" r="9.4"/>
<circle cx="1092.4" cy="379.3" r="9.4"/>
<circle cx="1097.7" cy="373.9" r="9.4"/>
<circle cx="1123.9" cy="335.7" r="9.4"/>
<circle cx="1151.5" cy="311.7" r="9.4"/>
<circle cx="1179.1" cy="295.2" r="9.4"/>
<circle cx="1206.8" cy="281.3" r="9.4"/>
<circle cx="1234.4" cy="271.9" r="9.4"/>
<circle cx="1262.0" cy="265.8" r="9.4"/>
<circle cx="1317.2" cy="254.4" r="9.4"/>
<circle cx="1372.5" cy="246.6" r="9.4"/>
<circle cx="1427.8" cy="241.3" r="9.4"/>
<circle cx="1483.0" cy="236.0" r="9.4"/>
<circle cx="1538.2" cy="231.6" r="9.4"/>
<circle cx="1593.5" cy="228.1" r="9.4"/>
<circle cx="1648.8" cy="225.0" r="9.4"/>
<circle cx="1704.0" cy="222.8" r="9.4"/>
<circle cx="1759.2" cy="220.2" r="9.4"/>
<circle cx="1814.5" cy="218.4" r="9.4"/>
</g>
</g>
<g stroke="#000" stroke-width="4.1" fill="none" stroke-linecap="butt">
<rect x="268.20" y="62.95" width="1544.40" height="1241.05"/>
<path d="M268.25 1304.00v11.7M268.25 62.95v11.7M378.70 1304.00v23.5M378.70 62.95v23.5M489.15 1304.00v11.7M489.15 62.95v11.7M599.60 1304.00v23.5M599.60 62.95v23.5M710.05 1304.00v11.7M710.05 62.95v11.7M820.50 1304.00v23.5M820.50 62.95v23.5M930.95 1304.00v11.7M930.95 62.95v11.7M1041.40 1304.00v23.5M1041.40 62.95v23.5M1151.85 1304.00v11.7M1151.85 62.95v11.7M1262.30 1304.00v23.5M1262.30 62.95v23.5M1372.75 1304.00v11.7M1372.75 62.95v11.7M1483.20 1304.00v23.5M1483.20 62.95v23.5M1593.65 1304.00v11.7M1593.65 62.95v11.7M1704.10 1304.00v23.5M1704.10 62.95v23.5M1812.60 1304.00v11.7M1812.60 62.95v11.7M268.20 1303.93h-11.7M1812.60 1303.93h-11.7M268.20 1215.29h-23.5M1812.60 1215.29h-23.5M268.20 1126.65h-11.7M1812.60 1126.65h-11.7M268.20 1038.01h-23.5M1812.60 1038.01h-23.5M268.20 949.37h-11.7M1812.60 949.37h-11.7M268.20 860.73h-23.5M1812.60 860.73h-23.5M268.20 772.09h-11.7M1812.60 772.09h-11.7M268.20 683.45h-23.5M1812.60 683.45h-23.5M268.20 594.81h-11.7M1812.60 594.81h-11.7M268.20 506.17h-23.5M1812.60 506.17h-23.5M268.20 417.53h-11.7M1812.60 417.53h-11.7M268.20 328.89h-23.5M1812.60 328.89h-23.5M268.20 240.25h-11.7M1812.60 240.25h-11.7M268.20 151.61h-23.5M1812.60 151.61h-23.5M268.20 62.97h-11.7M1812.60 62.97h-11.7"/>
</g>
<g font-family="Liberation Sans, sans-serif" font-size="61.5" fill="#000">
<text x="377.2" y="1393.3" text-anchor="middle">-6</text>
<text x="598.1" y="1393.3" text-anchor="middle">-4</text>
<text x="819.0" y="1393.3" text-anchor="middle">-2</text>
<text x="1041.4" y="1393.3" text-anchor="middle">0</text>
<text x="1262.3" y="1393.3" text-anchor="middle">2</text>
<text x="1483.2" y="1393.3" text-anchor="middle">4</text>
<text x="1704.1" y="1393.3" text-anchor="middle">6</text>
<text x="226.5" y="1232.3" text-anchor="end">-60</text>
<text x="226.5" y="1055.0" text-anchor="end">-40</text>
<text x="226.5" y="877.7" text-anchor="end">-20</text>
<text x="226.5" y="700.5" text-anchor="end">0</text>
<text x="226.5" y="523.2" text-anchor="end">20</text>
<text x="226.5" y="345.9" text-anchor="end">40</text>
<text x="226.5" y="168.6" text-anchor="end">60</text>
</g>
<g font-family="Liberation Sans, sans-serif" font-size="47.7" fill="#000">
<path d="M299 130.4H408" stroke="#0000ff" stroke-width="6.4"/>
<circle cx="353" cy="129.7" r="9.4" fill="url(#g10K)"/>
<text x="417.5" y="146.6">10K</text>
<path d="M299 188.6H408" stroke="#008000" stroke-width="6.4"/>
<circle cx="353" cy="187.9" r="9.4" fill="url(#g20K)"/>
<text x="417.5" y="204.8">20K</text>
<path d="M299 245.8H408" stroke="#f08a2c" stroke-width="6.4"/>
<circle cx="353" cy="245.1" r="9.4" fill="url(#g50K)"/>
<text x="417.5" y="262.0">50K</text>
<path d="M299 303.4H408" stroke="#ff0000" stroke-width="6.4"/>
<circle cx="353" cy="302.7" r="9.4" fill="url(#g100K)"/>
<text x="417.5" y="319.6">100K</text>
<path d="M299 361.5H408" stroke="#404040" stroke-width="6.4"/>
<circle cx="353" cy="360.8" r="9.4" fill="url(#g300K)"/>
<text x="417.5" y="377.7">300K</text>
</g>
<text transform="translate(112,681) rotate(-90)" text-anchor="middle" font-family="Liberation Sans, sans-serif" font-weight="bold" font-size="70.5" fill="#000">Magnetization (Am<tspan font-size="47" font-weight="normal" dy="-32">2</tspan><tspan dy="32">/kg)</tspan></text>
<text x="931" y="1484" font-family="Liberation Sans, sans-serif" font-weight="bold" font-size="70.5" fill="#000"><tspan font-family="Liberation Serif, serif" font-weight="normal">μ</tspan><tspan font-size="45" dy="19">0</tspan><tspan dy="-19">H (T)</tspan></text>
</svg>
</body></html>
